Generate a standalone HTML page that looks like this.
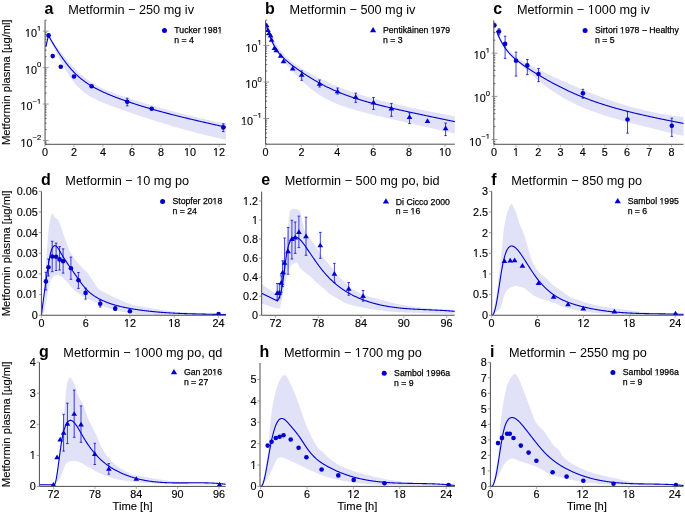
<!DOCTYPE html>
<html><head><meta charset="utf-8"><style>
html,body{margin:0;padding:0;background:#fff;width:685px;height:514px;overflow:hidden}
svg{display:block}
text{font-family:"Liberation Sans",sans-serif}
svg{will-change:transform}
</style></head><body>
<svg width="685" height="514" viewBox="0 0 685 514" font-family="Liberation Sans, sans-serif" fill="#000">
<rect width="685" height="514" fill="#fff"/>
<clipPath id="clipa"><rect x="45.05" y="14.20" width="180.95" height="130.10"/></clipPath>
<path d="M47.50,33.65 L48.00,34.38 L48.50,35.11 L49.00,35.84 L49.50,36.56 L50.00,37.29 L50.50,38.01 L51.00,38.73 L51.50,39.44 L52.00,40.16 L52.50,40.87 L53.00,41.57 L53.50,42.28 L54.00,42.98 L54.50,43.68 L55.00,44.38 L55.50,45.07 L56.00,45.76 L56.50,46.45 L57.00,47.14 L57.50,47.82 L58.00,48.50 L58.50,49.17 L59.00,49.84 L59.50,50.51 L60.00,51.17 L60.50,51.83 L61.00,52.49 L61.50,53.14 L62.00,53.78 L62.50,54.43 L63.00,55.07 L63.50,55.70 L64.00,56.33 L64.50,56.95 L65.00,57.57 L65.50,58.19 L66.00,58.80 L66.50,59.41 L67.00,60.01 L67.50,60.60 L68.00,61.19 L68.50,61.78 L69.00,62.36 L69.50,62.93 L70.00,63.50 L70.50,64.06 L71.00,64.62 L71.50,65.17 L72.00,65.72 L72.50,66.25 L73.00,66.79 L73.50,67.32 L74.00,67.84 L74.50,68.36 L75.00,68.87 L75.50,69.37 L76.00,69.87 L76.50,70.36 L77.00,70.84 L77.50,71.32 L78.00,71.80 L78.50,72.26 L79.00,72.73 L79.50,73.18 L80.00,73.63 L80.50,74.07 L81.00,74.51 L81.50,74.94 L82.00,75.36 L82.50,75.78 L83.00,76.19 L83.50,76.60 L84.00,77.00 L84.50,77.40 L85.00,77.79 L85.50,78.17 L86.00,78.55 L86.50,78.92 L87.00,79.29 L87.50,79.65 L88.00,80.00 L88.50,80.35 L89.00,80.70 L89.50,81.04 L90.00,81.37 L90.50,81.70 L91.00,82.03 L91.50,82.35 L92.00,82.67 L92.50,82.98 L93.00,83.28 L93.50,83.58 L94.00,83.88 L94.50,84.18 L95.00,84.47 L95.50,84.75 L96.00,85.03 L96.50,85.31 L97.00,85.58 L97.50,85.85 L98.00,86.12 L98.50,86.38 L99.00,86.64 L99.50,86.90 L100.00,87.15 L100.50,87.40 L101.00,87.64 L101.50,87.89 L102.00,88.13 L102.50,88.37 L103.00,88.60 L103.50,88.83 L104.00,89.06 L104.50,89.29 L105.00,89.51 L105.50,89.73 L106.00,89.95 L106.50,90.17 L107.00,90.39 L107.50,90.60 L108.00,90.81 L108.50,91.02 L109.00,91.23 L109.50,91.43 L110.00,91.63 L110.50,91.84 L111.00,92.03 L111.50,92.23 L112.00,92.43 L112.50,92.62 L113.00,92.82 L113.50,93.01 L114.00,93.20 L114.50,93.39 L115.00,93.58 L115.50,93.76 L116.00,93.95 L116.50,94.13 L117.00,94.31 L117.50,94.50 L118.00,94.68 L118.50,94.86 L119.00,95.03 L119.50,95.21 L120.00,95.39 L120.50,95.56 L121.00,95.74 L121.50,95.91 L122.00,96.08 L122.50,96.26 L123.00,96.43 L123.50,96.60 L124.00,96.77 L124.50,96.94 L125.00,97.10 L125.50,97.27 L126.00,97.44 L126.50,97.60 L127.00,97.77 L127.50,97.93 L128.00,98.10 L128.50,98.26 L129.00,98.42 L129.50,98.59 L130.00,98.75 L130.50,98.91 L131.00,99.07 L131.50,99.23 L132.00,99.39 L132.50,99.55 L133.00,99.71 L133.50,99.87 L134.00,100.02 L134.50,100.18 L135.00,100.34 L135.50,100.49 L136.00,100.65 L136.50,100.81 L137.00,100.96 L137.50,101.12 L138.00,101.27 L138.50,101.43 L139.00,101.58 L139.50,101.73 L140.00,101.89 L140.50,102.04 L141.00,102.19 L141.50,102.34 L142.00,102.49 L142.50,102.65 L143.00,102.80 L143.50,102.95 L144.00,103.10 L144.50,103.25 L145.00,103.40 L145.50,103.55 L146.00,103.70 L146.50,103.85 L147.00,103.99 L147.50,104.14 L148.00,104.29 L148.50,104.44 L149.00,104.58 L149.50,104.73 L150.00,104.88 L150.50,105.02 L151.00,105.17 L151.50,105.32 L152.00,105.46 L152.50,105.61 L153.00,105.75 L153.50,105.90 L154.00,106.04 L154.50,106.19 L155.00,106.33 L155.50,106.47 L156.00,106.62 L156.50,106.76 L157.00,106.90 L157.50,107.05 L158.00,107.19 L158.50,107.33 L159.00,107.47 L159.50,107.61 L160.00,107.75 L160.50,107.90 L161.00,108.04 L161.50,108.18 L162.00,108.32 L162.50,108.46 L163.00,108.60 L163.50,108.74 L164.00,108.87 L164.50,109.01 L165.00,109.15 L165.50,109.29 L166.00,109.43 L166.50,109.57 L167.00,109.70 L167.50,109.84 L168.00,109.98 L168.50,110.11 L169.00,110.25 L169.50,110.38 L170.00,110.52 L170.50,110.66 L171.00,110.79 L171.50,110.93 L172.00,111.06 L172.50,111.19 L173.00,111.33 L173.50,111.46 L174.00,111.59 L174.50,111.73 L175.00,111.86 L175.50,111.99 L176.00,112.12 L176.50,112.26 L177.00,112.39 L177.50,112.52 L178.00,112.65 L178.50,112.78 L179.00,112.91 L179.50,113.04 L180.00,113.17 L180.50,113.30 L181.00,113.43 L181.50,113.56 L182.00,113.69 L182.50,113.81 L183.00,113.94 L183.50,114.07 L184.00,114.20 L184.50,114.32 L185.00,114.45 L185.50,114.57 L186.00,114.70 L186.50,114.83 L187.00,114.95 L187.50,115.08 L188.00,115.20 L188.50,115.32 L189.00,115.45 L189.50,115.57 L190.00,115.69 L190.50,115.82 L191.00,115.94 L191.50,116.06 L192.00,116.18 L192.50,116.30 L193.00,116.42 L193.50,116.54 L194.00,116.67 L194.50,116.78 L195.00,116.90 L195.50,117.02 L196.00,117.14 L196.50,117.26 L197.00,117.38 L197.50,117.50 L198.00,117.61 L198.50,117.73 L199.00,117.85 L199.50,117.96 L200.00,118.08 L200.50,118.19 L201.00,118.31 L201.50,118.42 L202.00,118.54 L202.50,118.65 L203.00,118.77 L203.50,118.88 L204.00,118.99 L204.50,119.10 L205.00,119.22 L205.50,119.33 L206.00,119.44 L206.50,119.55 L207.00,119.66 L207.50,119.77 L208.00,119.88 L208.50,119.99 L209.00,120.10 L209.50,120.21 L210.00,120.31 L210.50,120.42 L211.00,120.53 L211.50,120.64 L212.00,120.74 L212.50,120.85 L213.00,120.95 L213.50,121.06 L214.00,121.16 L214.50,121.27 L215.00,121.37 L215.50,121.47 L216.00,121.58 L216.50,121.68 L217.00,121.78 L217.50,121.88 L218.00,121.99 L218.50,122.09 L219.00,122.19 L219.50,122.29 L220.00,122.39 L220.50,122.49 L221.00,122.59 L221.50,122.68 L222.00,122.78 L222.50,122.88 L223.00,122.98 L223.50,123.07 L224.00,123.17 L224.50,123.27 L225.00,123.36 L225.50,123.46 L226.00,123.55 L226.50,123.64 L227.00,123.74 L227.00,139.90 L226.50,139.80 L226.00,139.70 L225.50,139.60 L225.00,139.50 L224.50,139.40 L224.00,139.29 L223.50,139.19 L223.00,139.09 L222.50,138.98 L222.00,138.88 L221.50,138.77 L221.00,138.67 L220.50,138.56 L220.00,138.46 L219.50,138.35 L219.00,138.24 L218.50,138.13 L218.00,138.03 L217.50,137.92 L217.00,137.81 L216.50,137.70 L216.00,137.59 L215.50,137.47 L215.00,137.36 L214.50,137.25 L214.00,137.14 L213.50,137.02 L213.00,136.91 L212.50,136.80 L212.00,136.68 L211.50,136.57 L211.00,136.45 L210.50,136.33 L210.00,136.22 L209.50,136.10 L209.00,135.98 L208.50,135.86 L208.00,135.74 L207.50,135.62 L207.00,135.50 L206.50,135.38 L206.00,135.26 L205.50,135.14 L205.00,135.02 L204.50,134.90 L204.00,134.78 L203.50,134.65 L203.00,134.53 L202.50,134.40 L202.00,134.28 L201.50,134.16 L201.00,134.03 L200.50,133.90 L200.00,133.78 L199.50,133.65 L199.00,133.52 L198.50,133.39 L198.00,133.27 L197.50,133.14 L197.00,133.01 L196.50,132.88 L196.00,132.75 L195.50,132.62 L195.00,132.49 L194.50,132.36 L194.00,132.22 L193.50,132.09 L193.00,131.96 L192.50,131.83 L192.00,131.69 L191.50,131.56 L191.00,131.42 L190.50,131.29 L190.00,131.15 L189.50,131.02 L189.00,130.88 L188.50,130.74 L188.00,130.61 L187.50,130.47 L187.00,130.33 L186.50,130.19 L186.00,130.06 L185.50,129.92 L185.00,129.78 L184.50,129.64 L184.00,129.50 L183.50,129.36 L183.00,129.22 L182.50,129.07 L182.00,128.93 L181.50,128.79 L181.00,128.65 L180.50,128.51 L180.00,128.36 L179.50,128.22 L179.00,128.07 L178.50,127.93 L178.00,127.79 L177.50,127.64 L177.00,127.49 L176.50,127.35 L176.00,127.20 L175.50,127.06 L175.00,126.91 L174.50,126.76 L174.00,126.61 L173.50,126.47 L173.00,126.32 L172.50,126.17 L172.00,126.02 L171.50,125.87 L171.00,125.72 L170.50,125.57 L170.00,125.42 L169.50,125.27 L169.00,125.12 L168.50,124.97 L168.00,124.82 L167.50,124.67 L167.00,124.51 L166.50,124.36 L166.00,124.21 L165.50,124.06 L165.00,123.90 L164.50,123.75 L164.00,123.59 L163.50,123.44 L163.00,123.29 L162.50,123.13 L162.00,122.98 L161.50,122.82 L161.00,122.66 L160.50,122.51 L160.00,122.35 L159.50,122.20 L159.00,122.04 L158.50,121.88 L158.00,121.72 L157.50,121.57 L157.00,121.41 L156.50,121.25 L156.00,121.09 L155.50,120.93 L155.00,120.77 L154.50,120.61 L154.00,120.46 L153.50,120.30 L153.00,120.14 L152.50,119.98 L152.00,119.81 L151.50,119.65 L151.00,119.49 L150.50,119.33 L150.00,119.17 L149.50,119.01 L149.00,118.85 L148.50,118.68 L148.00,118.52 L147.50,118.36 L147.00,118.20 L146.50,118.03 L146.00,117.87 L145.50,117.71 L145.00,117.54 L144.50,117.38 L144.00,117.21 L143.50,117.05 L143.00,116.88 L142.50,116.72 L142.00,116.55 L141.50,116.39 L141.00,116.22 L140.50,116.06 L140.00,115.89 L139.50,115.72 L139.00,115.56 L138.50,115.39 L138.00,115.22 L137.50,115.06 L137.00,114.89 L136.50,114.72 L136.00,114.55 L135.50,114.39 L135.00,114.22 L134.50,114.05 L134.00,113.88 L133.50,113.71 L133.00,113.54 L132.50,113.37 L132.00,113.20 L131.50,113.03 L131.00,112.86 L130.50,112.69 L130.00,112.52 L129.50,112.35 L129.00,112.18 L128.50,112.01 L128.00,111.84 L127.50,111.66 L127.00,111.49 L126.50,111.32 L126.00,111.15 L125.50,110.97 L125.00,110.80 L124.50,110.63 L124.00,110.45 L123.50,110.28 L123.00,110.10 L122.50,109.93 L122.00,109.75 L121.50,109.58 L121.00,109.40 L120.50,109.23 L120.00,109.05 L119.50,108.87 L119.00,108.70 L118.50,108.52 L118.00,108.34 L117.50,108.16 L117.00,107.98 L116.50,107.80 L116.00,107.62 L115.50,107.44 L115.00,107.26 L114.50,107.08 L114.00,106.90 L113.50,106.71 L113.00,106.53 L112.50,106.34 L112.00,106.16 L111.50,105.97 L111.00,105.79 L110.50,105.60 L110.00,105.41 L109.50,105.22 L109.00,105.03 L108.50,104.84 L108.00,104.65 L107.50,104.45 L107.00,104.26 L106.50,104.06 L106.00,103.87 L105.50,103.67 L105.00,103.47 L104.50,103.27 L104.00,103.07 L103.50,102.86 L103.00,102.66 L102.50,102.45 L102.00,102.24 L101.50,102.03 L101.00,101.81 L100.50,101.60 L100.00,101.38 L99.50,101.16 L99.00,100.94 L98.50,100.71 L98.00,100.48 L97.50,100.25 L97.00,100.02 L96.50,99.78 L96.00,99.54 L95.50,99.29 L95.00,99.04 L94.50,98.79 L94.00,98.54 L93.50,98.27 L93.00,98.01 L92.50,97.74 L92.00,97.46 L91.50,97.18 L91.00,96.90 L90.50,96.61 L90.00,96.31 L89.50,96.01 L89.00,95.70 L88.50,95.38 L88.00,95.06 L87.50,94.73 L87.00,94.40 L86.50,94.05 L86.00,93.70 L85.50,93.34 L85.00,92.97 L84.50,92.59 L84.00,92.20 L83.50,91.81 L83.00,91.40 L82.50,90.99 L82.00,90.56 L81.50,90.12 L81.00,89.68 L80.50,89.22 L80.00,88.75 L79.50,88.27 L79.00,87.78 L78.50,87.27 L78.00,86.76 L77.50,86.23 L77.00,85.69 L76.50,85.14 L76.00,84.57 L75.50,83.99 L75.00,83.40 L74.50,82.80 L74.00,82.18 L73.50,81.55 L73.00,80.91 L72.50,80.26 L72.00,79.59 L71.50,78.91 L71.00,78.22 L70.50,77.51 L70.00,76.79 L69.50,76.06 L69.00,75.32 L68.50,74.56 L68.00,73.80 L67.50,73.02 L67.00,72.23 L66.50,71.43 L66.00,70.62 L65.50,69.80 L65.00,68.96 L64.50,68.12 L64.00,67.27 L63.50,66.40 L63.00,65.53 L62.50,64.65 L62.00,63.76 L61.50,62.86 L61.00,61.96 L60.50,61.04 L60.00,60.12 L59.50,59.19 L59.00,58.25 L58.50,57.31 L58.00,56.36 L57.50,55.41 L57.00,54.44 L56.50,53.47 L56.00,52.50 L55.50,51.52 L55.00,50.54 L54.50,49.55 L54.00,48.55 L53.50,47.56 L53.00,46.55 L52.50,45.55 L52.00,44.54 L51.50,43.52 L51.00,42.51 L50.50,41.48 L50.00,40.46 L49.50,39.43 L49.00,38.40 L48.50,37.37 L48.00,36.33 L47.50,35.30 Z" fill="#e1e1f8" clip-path="url(#clipa)"/>
<path d="M45.90,46.70 L48.50,35.30 M48.50,35.64 L49.00,36.51 L49.50,37.39 L50.00,38.25 L50.50,39.12 L51.00,39.98 L51.50,40.83 L52.00,41.68 L52.50,42.52 L53.00,43.36 L53.50,44.20 L54.00,45.03 L54.50,45.85 L55.00,46.67 L55.50,47.48 L56.00,48.28 L56.50,49.08 L57.00,49.88 L57.50,50.66 L58.00,51.44 L58.50,52.22 L59.00,52.98 L59.50,53.74 L60.00,54.50 L60.50,55.24 L61.00,55.98 L61.50,56.71 L62.00,57.43 L62.50,58.15 L63.00,58.85 L63.50,59.55 L64.00,60.24 L64.50,60.93 L65.00,61.60 L65.50,62.27 L66.00,62.92 L66.50,63.57 L67.00,64.21 L67.50,64.85 L68.00,65.47 L68.50,66.08 L69.00,66.69 L69.50,67.29 L70.00,67.87 L70.50,68.45 L71.00,69.03 L71.50,69.59 L72.00,70.14 L72.50,70.69 L73.00,71.22 L73.50,71.75 L74.00,72.27 L74.50,72.78 L75.00,73.29 L75.50,73.78 L76.00,74.27 L76.50,74.75 L77.00,75.22 L77.50,75.68 L78.00,76.13 L78.50,76.58 L79.00,77.02 L79.50,77.45 L80.00,77.88 L80.50,78.30 L81.00,78.71 L81.50,79.11 L82.00,79.51 L82.50,79.90 L83.00,80.29 L83.50,80.67 L84.00,81.04 L84.50,81.41 L85.00,81.77 L85.50,82.12 L86.00,82.47 L86.50,82.82 L87.00,83.16 L87.50,83.49 L88.00,83.82 L88.50,84.15 L89.00,84.46 L89.50,84.78 L90.00,85.09 L90.50,85.40 L91.00,85.70 L91.50,86.00 L92.00,86.29 L92.50,86.58 L93.00,86.87 L93.50,87.15 L94.00,87.43 L94.50,87.70 L95.00,87.98 L95.50,88.25 L96.00,88.51 L96.50,88.77 L97.00,89.03 L97.50,89.29 L98.00,89.55 L98.50,89.80 L99.00,90.05 L99.50,90.29 L100.00,90.54 L100.50,90.78 L101.00,91.02 L101.50,91.26 L102.00,91.49 L102.50,91.72 L103.00,91.95 L103.50,92.18 L104.00,92.41 L104.50,92.63 L105.00,92.86 L105.50,93.08 L106.00,93.30 L106.50,93.52 L107.00,93.73 L107.50,93.95 L108.00,94.16 L108.50,94.37 L109.00,94.58 L109.50,94.79 L110.00,95.00 L110.50,95.20 L111.00,95.40 L111.50,95.61 L112.00,95.81 L112.50,96.01 L113.00,96.21 L113.50,96.41 L114.00,96.60 L114.50,96.80 L115.00,96.99 L115.50,97.19 L116.00,97.38 L116.50,97.57 L117.00,97.76 L117.50,97.95 L118.00,98.13 L118.50,98.32 L119.00,98.51 L119.50,98.69 L120.00,98.88 L120.50,99.06 L121.00,99.24 L121.50,99.42 L122.00,99.60 L122.50,99.78 L123.00,99.96 L123.50,100.14 L124.00,100.31 L124.50,100.49 L125.00,100.67 L125.50,100.84 L126.00,101.01 L126.50,101.19 L127.00,101.36 L127.50,101.53 L128.00,101.70 L128.50,101.87 L129.00,102.04 L129.50,102.21 L130.00,102.37 L130.50,102.54 L131.00,102.71 L131.50,102.87 L132.00,103.04 L132.50,103.20 L133.00,103.37 L133.50,103.53 L134.00,103.69 L134.50,103.85 L135.00,104.01 L135.50,104.17 L136.00,104.33 L136.50,104.49 L137.00,104.65 L137.50,104.81 L138.00,104.97 L138.50,105.12 L139.00,105.28 L139.50,105.43 L140.00,105.59 L140.50,105.74 L141.00,105.90 L141.50,106.05 L142.00,106.20 L142.50,106.36 L143.00,106.51 L143.50,106.66 L144.00,106.81 L144.50,106.96 L145.00,107.11 L145.50,107.26 L146.00,107.41 L146.50,107.55 L147.00,107.70 L147.50,107.85 L148.00,107.99 L148.50,108.14 L149.00,108.29 L149.50,108.43 L150.00,108.58 L150.50,108.72 L151.00,108.86 L151.50,109.01 L152.00,109.15 L152.50,109.29 L153.00,109.43 L153.50,109.58 L154.00,109.72 L154.50,109.86 L155.00,110.00 L155.50,110.14 L156.00,110.28 L156.50,110.42 L157.00,110.55 L157.50,110.69 L158.00,110.83 L158.50,110.97 L159.00,111.10 L159.50,111.24 L160.00,111.38 L160.50,111.51 L161.00,111.65 L161.50,111.78 L162.00,111.92 L162.50,112.05 L163.00,112.19 L163.50,112.32 L164.00,112.45 L164.50,112.59 L165.00,112.72 L165.50,112.85 L166.00,112.98 L166.50,113.12 L167.00,113.25 L167.50,113.38 L168.00,113.51 L168.50,113.64 L169.00,113.77 L169.50,113.90 L170.00,114.03 L170.50,114.16 L171.00,114.28 L171.50,114.41 L172.00,114.54 L172.50,114.67 L173.00,114.80 L173.50,114.92 L174.00,115.05 L174.50,115.18 L175.00,115.30 L175.50,115.43 L176.00,115.56 L176.50,115.68 L177.00,115.81 L177.50,115.93 L178.00,116.06 L178.50,116.18 L179.00,116.31 L179.50,116.43 L180.00,116.55 L180.50,116.68 L181.00,116.80 L181.50,116.92 L182.00,117.05 L182.50,117.17 L183.00,117.29 L183.50,117.41 L184.00,117.53 L184.50,117.66 L185.00,117.78 L185.50,117.90 L186.00,118.02 L186.50,118.14 L187.00,118.26 L187.50,118.38 L188.00,118.50 L188.50,118.62 L189.00,118.74 L189.50,118.86 L190.00,118.98 L190.50,119.10 L191.00,119.22 L191.50,119.34 L192.00,119.46 L192.50,119.57 L193.00,119.69 L193.50,119.81 L194.00,119.93 L194.50,120.05 L195.00,120.16 L195.50,120.28 L196.00,120.40 L196.50,120.52 L197.00,120.63 L197.50,120.75 L198.00,120.87 L198.50,120.98 L199.00,121.10 L199.50,121.21 L200.00,121.33 L200.50,121.45 L201.00,121.56 L201.50,121.68 L202.00,121.79 L202.50,121.91 L203.00,122.02 L203.50,122.14 L204.00,122.25 L204.50,122.37 L205.00,122.48 L205.50,122.59 L206.00,122.71 L206.50,122.82 L207.00,122.94 L207.50,123.05 L208.00,123.16 L208.50,123.28 L209.00,123.39 L209.50,123.50 L210.00,123.62 L210.50,123.73 L211.00,123.84 L211.50,123.96 L212.00,124.07 L212.50,124.18 L213.00,124.29 L213.50,124.41 L214.00,124.52 L214.50,124.63 L215.00,124.74 L215.50,124.85 L216.00,124.97 L216.50,125.08 L217.00,125.19 L217.50,125.30 L218.00,125.41 L218.50,125.52 L219.00,125.64 L219.50,125.75 L220.00,125.86 L220.50,125.97 L221.00,126.08 L221.50,126.19 L222.00,126.30 L222.50,126.41 L223.00,126.52 L223.50,126.63 L224.00,126.74 L224.50,126.85 L225.00,126.96 L225.50,127.07 L226.00,127.18 L226.50,127.29 L227.00,127.40" fill="none" stroke="#0000cd" stroke-width="1.1" stroke-linejoin="round" stroke-linecap="round" clip-path="url(#clipa)"/>
<g clip-path="url(#clipa)">
<path d="M127.20,98.20 V105.80 M125.90,98.20 H128.50 M125.90,105.80 H128.50" stroke="#0000cd" stroke-width="0.75" fill="none"/>
<path d="M223.30,123.80 V131.60 M222.00,123.80 H224.60 M222.00,131.60 H224.60" stroke="#0000cd" stroke-width="0.75" fill="none"/>
<circle cx="48.60" cy="35.40" r="2.30" fill="#0000cd"/>
<circle cx="52.70" cy="56.10" r="2.30" fill="#0000cd"/>
<circle cx="60.80" cy="66.80" r="2.30" fill="#0000cd"/>
<circle cx="74.00" cy="76.50" r="2.30" fill="#0000cd"/>
<circle cx="91.60" cy="86.30" r="2.30" fill="#0000cd"/>
<circle cx="127.20" cy="101.70" r="2.30" fill="#0000cd"/>
<circle cx="151.70" cy="108.80" r="2.30" fill="#0000cd"/>
<circle cx="223.30" cy="127.40" r="2.30" fill="#0000cd"/>
</g>
<path d="M45.05,20.20 V144.30 H226.00" stroke="#4d4d4d" stroke-width="1" fill="none"/>
<path d="M44.90,144.30 V147.10" stroke="#7f7f7f" stroke-width="0.6"/>
<text x="44.90" y="155.60" text-anchor="middle" font-size="10.8" stroke="#000" stroke-width="0.15">0</text>
<path d="M73.92,144.30 V147.10" stroke="#7f7f7f" stroke-width="0.6"/>
<text x="73.92" y="155.60" text-anchor="middle" font-size="10.8" stroke="#000" stroke-width="0.15">2</text>
<path d="M102.94,144.30 V147.10" stroke="#7f7f7f" stroke-width="0.6"/>
<text x="102.94" y="155.60" text-anchor="middle" font-size="10.8" stroke="#000" stroke-width="0.15">4</text>
<path d="M131.96,144.30 V147.10" stroke="#7f7f7f" stroke-width="0.6"/>
<text x="131.96" y="155.60" text-anchor="middle" font-size="10.8" stroke="#000" stroke-width="0.15">6</text>
<path d="M160.98,144.30 V147.10" stroke="#7f7f7f" stroke-width="0.6"/>
<text x="160.98" y="155.60" text-anchor="middle" font-size="10.8" stroke="#000" stroke-width="0.15">8</text>
<path d="M190.00,144.30 V147.10" stroke="#7f7f7f" stroke-width="0.6"/>
<text x="190.00" y="155.60" text-anchor="middle" font-size="10.8" stroke="#000" stroke-width="0.15">10</text>
<path d="M219.02,144.30 V147.10" stroke="#7f7f7f" stroke-width="0.6"/>
<text x="219.02" y="155.60" text-anchor="middle" font-size="10.8" stroke="#000" stroke-width="0.15">12</text>
<path d="M42.85,140.52 H48.65" stroke="#7f7f7f" stroke-width="0.8"/>
<text x="41.15" y="146.52" text-anchor="end" font-size="10.8" stroke="#000" stroke-width="0.15">10<tspan dy="-6.3" font-size="7.6">−2</tspan></text>
<path d="M42.85,104.05 H48.65" stroke="#7f7f7f" stroke-width="0.8"/>
<text x="41.15" y="110.05" text-anchor="end" font-size="10.8" stroke="#000" stroke-width="0.15">10<tspan dy="-6.3" font-size="7.6">−1</tspan></text>
<path d="M42.85,67.58 H48.65" stroke="#7f7f7f" stroke-width="0.8"/>
<text x="41.15" y="73.58" text-anchor="end" font-size="10.8" stroke="#000" stroke-width="0.15">10<tspan dy="-6.3" font-size="7.6">0</tspan></text>
<path d="M42.85,31.11 H48.65" stroke="#7f7f7f" stroke-width="0.8"/>
<text x="41.15" y="37.11" text-anchor="end" font-size="10.8" stroke="#000" stroke-width="0.15">10<tspan dy="-6.3" font-size="7.6">1</tspan></text>
<path d="M45.05,144.05 H46.65" stroke="#333" stroke-width="0.7"/>
<path d="M45.05,142.19 H46.65" stroke="#333" stroke-width="0.7"/>
<path d="M45.05,129.54 H46.65" stroke="#333" stroke-width="0.7"/>
<path d="M45.05,123.12 H46.65" stroke="#333" stroke-width="0.7"/>
<path d="M45.05,118.56 H46.65" stroke="#333" stroke-width="0.7"/>
<path d="M45.05,115.03 H46.65" stroke="#333" stroke-width="0.7"/>
<path d="M45.05,112.14 H46.65" stroke="#333" stroke-width="0.7"/>
<path d="M45.05,109.70 H46.65" stroke="#333" stroke-width="0.7"/>
<path d="M45.05,107.58 H46.65" stroke="#333" stroke-width="0.7"/>
<path d="M45.05,105.72 H46.65" stroke="#333" stroke-width="0.7"/>
<path d="M45.05,93.07 H46.65" stroke="#333" stroke-width="0.7"/>
<path d="M45.05,86.65 H46.65" stroke="#333" stroke-width="0.7"/>
<path d="M45.05,82.09 H46.65" stroke="#333" stroke-width="0.7"/>
<path d="M45.05,78.56 H46.65" stroke="#333" stroke-width="0.7"/>
<path d="M45.05,75.67 H46.65" stroke="#333" stroke-width="0.7"/>
<path d="M45.05,73.23 H46.65" stroke="#333" stroke-width="0.7"/>
<path d="M45.05,71.11 H46.65" stroke="#333" stroke-width="0.7"/>
<path d="M45.05,69.25 H46.65" stroke="#333" stroke-width="0.7"/>
<path d="M45.05,56.60 H46.65" stroke="#333" stroke-width="0.7"/>
<path d="M45.05,50.18 H46.65" stroke="#333" stroke-width="0.7"/>
<path d="M45.05,45.62 H46.65" stroke="#333" stroke-width="0.7"/>
<path d="M45.05,42.09 H46.65" stroke="#333" stroke-width="0.7"/>
<path d="M45.05,39.20 H46.65" stroke="#333" stroke-width="0.7"/>
<path d="M45.05,36.76 H46.65" stroke="#333" stroke-width="0.7"/>
<path d="M45.05,34.64 H46.65" stroke="#333" stroke-width="0.7"/>
<path d="M45.05,32.78 H46.65" stroke="#333" stroke-width="0.7"/>
<path d="M45.05,20.13 H46.65" stroke="#333" stroke-width="0.7"/>
<text x="44.55" y="14.00" font-size="16" font-weight="bold">a</text>
<text x="68.15" y="14.00" font-size="12.7">Metformin − 250 mg iv</text>
<circle cx="164.47" cy="30.50" r="2.50" fill="#0000cd"/>
<text x="174.37" y="33.10" font-size="8.7" stroke="#000" stroke-width="0.25">Tucker 1981</text>
<text x="174.37" y="42.80" font-size="8.7" stroke="#000" stroke-width="0.25">n = 4</text>
<clipPath id="clipb"><rect x="265.60" y="14.30" width="189.20" height="129.90"/></clipPath>
<path d="M266.00,22.62 L266.50,23.85 L267.00,25.07 L267.50,26.26 L268.00,27.44 L268.50,28.60 L269.00,29.75 L269.50,30.87 L270.00,31.98 L270.50,33.06 L271.00,34.13 L271.50,35.17 L272.00,36.20 L272.50,37.20 L273.00,38.18 L273.50,39.14 L274.00,40.08 L274.50,41.00 L275.00,41.89 L275.50,42.76 L276.00,43.62 L276.50,44.44 L277.00,45.25 L277.50,46.04 L278.00,46.81 L278.50,47.55 L279.00,48.28 L279.50,48.98 L280.00,49.67 L280.50,50.34 L281.00,50.99 L281.50,51.62 L282.00,52.24 L282.50,52.84 L283.00,53.42 L283.50,53.99 L284.00,54.54 L284.50,55.08 L285.00,55.61 L285.50,56.12 L286.00,56.62 L286.50,57.11 L287.00,57.59 L287.50,58.06 L288.00,58.52 L288.50,58.96 L289.00,59.40 L289.50,59.83 L290.00,60.25 L290.50,60.67 L291.00,61.07 L291.50,61.47 L292.00,61.86 L292.50,62.25 L293.00,62.63 L293.50,63.00 L294.00,63.37 L294.50,63.73 L295.00,64.09 L295.50,64.45 L296.00,64.80 L296.50,65.14 L297.00,65.48 L297.50,65.82 L298.00,66.16 L298.50,66.49 L299.00,66.82 L299.50,67.14 L300.00,67.46 L300.50,67.78 L301.00,68.10 L301.50,68.41 L302.00,68.72 L302.50,69.03 L303.00,69.33 L303.50,69.64 L304.00,69.94 L304.50,70.24 L305.00,70.53 L305.50,70.83 L306.00,71.12 L306.50,71.41 L307.00,71.70 L307.50,71.99 L308.00,72.28 L308.50,72.56 L309.00,72.84 L309.50,73.12 L310.00,73.40 L310.50,73.68 L311.00,73.95 L311.50,74.23 L312.00,74.50 L312.50,74.77 L313.00,75.04 L313.50,75.31 L314.00,75.58 L314.50,75.84 L315.00,76.11 L315.50,76.37 L316.00,76.63 L316.50,76.89 L317.00,77.15 L317.50,77.40 L318.00,77.66 L318.50,77.91 L319.00,78.17 L319.50,78.42 L320.00,78.67 L320.50,78.92 L321.00,79.16 L321.50,79.41 L322.00,79.65 L322.50,79.90 L323.00,80.14 L323.50,80.38 L324.00,80.62 L324.50,80.86 L325.00,81.09 L325.50,81.33 L326.00,81.56 L326.50,81.79 L327.00,82.02 L327.50,82.25 L328.00,82.48 L328.50,82.71 L329.00,82.94 L329.50,83.16 L330.00,83.38 L330.50,83.61 L331.00,83.83 L331.50,84.05 L332.00,84.27 L332.50,84.48 L333.00,84.70 L333.50,84.91 L334.00,85.13 L334.50,85.34 L335.00,85.55 L335.50,85.76 L336.00,85.97 L336.50,86.17 L337.00,86.38 L337.50,86.59 L338.00,86.79 L338.50,86.99 L339.00,87.19 L339.50,87.39 L340.00,87.59 L340.50,87.79 L341.00,87.98 L341.50,88.18 L342.00,88.37 L342.50,88.57 L343.00,88.76 L343.50,88.95 L344.00,89.14 L344.50,89.33 L345.00,89.51 L345.50,89.70 L346.00,89.88 L346.50,90.07 L347.00,90.25 L347.50,90.43 L348.00,90.61 L348.50,90.79 L349.00,90.97 L349.50,91.15 L350.00,91.33 L350.50,91.50 L351.00,91.68 L351.50,91.85 L352.00,92.02 L352.50,92.19 L353.00,92.36 L353.50,92.53 L354.00,92.70 L354.50,92.87 L355.00,93.03 L355.50,93.20 L356.00,93.36 L356.50,93.53 L357.00,93.69 L357.50,93.85 L358.00,94.01 L358.50,94.17 L359.00,94.33 L359.50,94.49 L360.00,94.65 L360.50,94.80 L361.00,94.96 L361.50,95.11 L362.00,95.27 L362.50,95.42 L363.00,95.57 L363.50,95.72 L364.00,95.87 L364.50,96.02 L365.00,96.17 L365.50,96.32 L366.00,96.47 L366.50,96.61 L367.00,96.76 L367.50,96.91 L368.00,97.05 L368.50,97.19 L369.00,97.34 L369.50,97.48 L370.00,97.62 L370.50,97.76 L371.00,97.90 L371.50,98.04 L372.00,98.18 L372.50,98.32 L373.00,98.45 L373.50,98.59 L374.00,98.73 L374.50,98.86 L375.00,99.00 L375.50,99.13 L376.00,99.27 L376.50,99.40 L377.00,99.53 L377.50,99.66 L378.00,99.80 L378.50,99.93 L379.00,100.06 L379.50,100.19 L380.00,100.32 L380.50,100.44 L381.00,100.57 L381.50,100.70 L382.00,100.83 L382.50,100.95 L383.00,101.08 L383.50,101.21 L384.00,101.33 L384.50,101.46 L385.00,101.58 L385.50,101.70 L386.00,101.83 L386.50,101.95 L387.00,102.07 L387.50,102.19 L388.00,102.32 L388.50,102.44 L389.00,102.56 L389.50,102.68 L390.00,102.80 L390.50,102.92 L391.00,103.04 L391.50,103.15 L392.00,103.27 L392.50,103.39 L393.00,103.51 L393.50,103.63 L394.00,103.74 L394.50,103.86 L395.00,103.98 L395.50,104.09 L396.00,104.21 L396.50,104.32 L397.00,104.44 L397.50,104.55 L398.00,104.66 L398.50,104.78 L399.00,104.89 L399.50,105.00 L400.00,105.12 L400.50,105.23 L401.00,105.34 L401.50,105.45 L402.00,105.57 L402.50,105.68 L403.00,105.79 L403.50,105.90 L404.00,106.01 L404.50,106.12 L405.00,106.23 L405.50,106.34 L406.00,106.45 L406.50,106.56 L407.00,106.67 L407.50,106.78 L408.00,106.89 L408.50,106.99 L409.00,107.10 L409.50,107.21 L410.00,107.32 L410.50,107.43 L411.00,107.53 L411.50,107.64 L412.00,107.75 L412.50,107.85 L413.00,107.96 L413.50,108.07 L414.00,108.17 L414.50,108.28 L415.00,108.38 L415.50,108.49 L416.00,108.60 L416.50,108.70 L417.00,108.81 L417.50,108.91 L418.00,109.02 L418.50,109.12 L419.00,109.22 L419.50,109.33 L420.00,109.43 L420.50,109.54 L421.00,109.64 L421.50,109.74 L422.00,109.85 L422.50,109.95 L423.00,110.05 L423.50,110.16 L424.00,110.26 L424.50,110.36 L425.00,110.47 L425.50,110.57 L426.00,110.67 L426.50,110.77 L427.00,110.88 L427.50,110.98 L428.00,111.08 L428.50,111.18 L429.00,111.28 L429.50,111.38 L430.00,111.49 L430.50,111.59 L431.00,111.69 L431.50,111.79 L432.00,111.89 L432.50,111.99 L433.00,112.09 L433.50,112.19 L434.00,112.29 L434.50,112.39 L435.00,112.49 L435.50,112.59 L436.00,112.69 L436.50,112.79 L437.00,112.89 L437.50,112.99 L438.00,113.09 L438.50,113.19 L439.00,113.29 L439.50,113.39 L440.00,113.49 L440.50,113.59 L441.00,113.69 L441.50,113.79 L442.00,113.89 L442.50,113.99 L443.00,114.09 L443.50,114.19 L444.00,114.29 L444.50,114.39 L445.00,114.49 L445.50,114.58 L446.00,114.68 L446.50,114.78 L447.00,114.88 L447.50,114.98 L448.00,115.08 L448.50,115.18 L449.00,115.27 L449.50,115.37 L450.00,115.47 L450.50,115.57 L451.00,115.67 L451.50,115.76 L452.00,115.86 L452.50,115.96 L453.00,116.06 L453.50,116.16 L454.00,116.25 L454.50,116.35 L455.00,116.45 L455.50,116.55 L455.50,133.65 L455.00,133.53 L454.50,133.42 L454.00,133.31 L453.50,133.19 L453.00,133.08 L452.50,132.97 L452.00,132.85 L451.50,132.74 L451.00,132.63 L450.50,132.52 L450.00,132.40 L449.50,132.29 L449.00,132.18 L448.50,132.06 L448.00,131.95 L447.50,131.84 L447.00,131.72 L446.50,131.61 L446.00,131.50 L445.50,131.38 L445.00,131.27 L444.50,131.16 L444.00,131.04 L443.50,130.93 L443.00,130.82 L442.50,130.70 L442.00,130.59 L441.50,130.48 L441.00,130.36 L440.50,130.25 L440.00,130.14 L439.50,130.02 L439.00,129.91 L438.50,129.80 L438.00,129.68 L437.50,129.57 L437.00,129.46 L436.50,129.34 L436.00,129.23 L435.50,129.12 L435.00,129.00 L434.50,128.89 L434.00,128.78 L433.50,128.66 L433.00,128.55 L432.50,128.44 L432.00,128.32 L431.50,128.21 L431.00,128.10 L430.50,127.98 L430.00,127.87 L429.50,127.76 L429.00,127.64 L428.50,127.53 L428.00,127.42 L427.50,127.30 L427.00,127.19 L426.50,127.08 L426.00,126.96 L425.50,126.85 L425.00,126.74 L424.50,126.62 L424.00,126.51 L423.50,126.40 L423.00,126.28 L422.50,126.17 L422.00,126.06 L421.50,125.94 L421.00,125.83 L420.50,125.71 L420.00,125.60 L419.50,125.49 L419.00,125.37 L418.50,125.26 L418.00,125.15 L417.50,125.03 L417.00,124.92 L416.50,124.81 L416.00,124.69 L415.50,124.58 L415.00,124.46 L414.50,124.35 L414.00,124.24 L413.50,124.12 L413.00,124.01 L412.50,123.90 L412.00,123.78 L411.50,123.67 L411.00,123.55 L410.50,123.44 L410.00,123.33 L409.50,123.21 L409.00,123.10 L408.50,122.98 L408.00,122.87 L407.50,122.76 L407.00,122.64 L406.50,122.53 L406.00,122.41 L405.50,122.30 L405.00,122.18 L404.50,122.07 L404.00,121.96 L403.50,121.84 L403.00,121.73 L402.50,121.61 L402.00,121.50 L401.50,121.38 L401.00,121.27 L400.50,121.15 L400.00,121.04 L399.50,120.92 L399.00,120.81 L398.50,120.69 L398.00,120.58 L397.50,120.46 L397.00,120.35 L396.50,120.23 L396.00,120.12 L395.50,120.00 L395.00,119.89 L394.50,119.77 L394.00,119.66 L393.50,119.54 L393.00,119.43 L392.50,119.31 L392.00,119.19 L391.50,119.08 L391.00,118.96 L390.50,118.85 L390.00,118.73 L389.50,118.61 L389.00,118.50 L388.50,118.38 L388.00,118.26 L387.50,118.15 L387.00,118.03 L386.50,117.91 L386.00,117.80 L385.50,117.68 L385.00,117.56 L384.50,117.44 L384.00,117.33 L383.50,117.21 L383.00,117.09 L382.50,116.97 L382.00,116.85 L381.50,116.74 L381.00,116.62 L380.50,116.50 L380.00,116.38 L379.50,116.26 L379.00,116.14 L378.50,116.02 L378.00,115.90 L377.50,115.78 L377.00,115.66 L376.50,115.54 L376.00,115.42 L375.50,115.30 L375.00,115.18 L374.50,115.05 L374.00,114.93 L373.50,114.81 L373.00,114.69 L372.50,114.56 L372.00,114.44 L371.50,114.32 L371.00,114.19 L370.50,114.07 L370.00,113.94 L369.50,113.82 L369.00,113.69 L368.50,113.57 L368.00,113.44 L367.50,113.32 L367.00,113.19 L366.50,113.06 L366.00,112.93 L365.50,112.80 L365.00,112.67 L364.50,112.55 L364.00,112.42 L363.50,112.28 L363.00,112.15 L362.50,112.02 L362.00,111.89 L361.50,111.76 L361.00,111.62 L360.50,111.49 L360.00,111.35 L359.50,111.22 L359.00,111.08 L358.50,110.94 L358.00,110.81 L357.50,110.67 L357.00,110.53 L356.50,110.39 L356.00,110.25 L355.50,110.10 L355.00,109.96 L354.50,109.82 L354.00,109.67 L353.50,109.52 L353.00,109.38 L352.50,109.23 L352.00,109.08 L351.50,108.93 L351.00,108.78 L350.50,108.62 L350.00,108.47 L349.50,108.31 L349.00,108.16 L348.50,108.00 L348.00,107.84 L347.50,107.68 L347.00,107.52 L346.50,107.35 L346.00,107.19 L345.50,107.02 L345.00,106.85 L344.50,106.68 L344.00,106.51 L343.50,106.34 L343.00,106.16 L342.50,105.98 L342.00,105.80 L341.50,105.62 L341.00,105.44 L340.50,105.25 L340.00,105.07 L339.50,104.88 L339.00,104.68 L338.50,104.49 L338.00,104.29 L337.50,104.09 L337.00,103.89 L336.50,103.69 L336.00,103.48 L335.50,103.27 L335.00,103.06 L334.50,102.85 L334.00,102.63 L333.50,102.41 L333.00,102.19 L332.50,101.96 L332.00,101.74 L331.50,101.50 L331.00,101.27 L330.50,101.03 L330.00,100.79 L329.50,100.55 L329.00,100.30 L328.50,100.05 L328.00,99.79 L327.50,99.54 L327.00,99.27 L326.50,99.01 L326.00,98.74 L325.50,98.47 L325.00,98.19 L324.50,97.91 L324.00,97.63 L323.50,97.34 L323.00,97.05 L322.50,96.75 L322.00,96.46 L321.50,96.15 L321.00,95.84 L320.50,95.53 L320.00,95.22 L319.50,94.90 L319.00,94.57 L318.50,94.24 L318.00,93.91 L317.50,93.58 L317.00,93.23 L316.50,92.89 L316.00,92.54 L315.50,92.18 L315.00,91.83 L314.50,91.46 L314.00,91.10 L313.50,90.72 L313.00,90.35 L312.50,89.97 L312.00,89.58 L311.50,89.19 L311.00,88.80 L310.50,88.40 L310.00,88.00 L309.50,87.59 L309.00,87.18 L308.50,86.76 L308.00,86.34 L307.50,85.92 L307.00,85.49 L306.50,85.06 L306.00,84.62 L305.50,84.18 L305.00,83.74 L304.50,83.29 L304.00,82.83 L303.50,82.38 L303.00,81.91 L302.50,81.45 L302.00,80.98 L301.50,80.51 L301.00,80.03 L300.50,79.55 L300.00,79.07 L299.50,78.58 L299.00,78.09 L298.50,77.59 L298.00,77.09 L297.50,76.59 L297.00,76.08 L296.50,75.57 L296.00,75.06 L295.50,74.54 L295.00,74.02 L294.50,73.50 L294.00,72.98 L293.50,72.45 L293.00,71.91 L292.50,71.38 L292.00,70.84 L291.50,70.30 L291.00,69.75 L290.50,69.20 L290.00,68.65 L289.50,68.10 L289.00,67.54 L288.50,66.98 L288.00,66.41 L287.50,65.84 L287.00,65.27 L286.50,64.70 L286.00,64.12 L285.50,63.53 L285.00,62.94 L284.50,62.35 L284.00,61.75 L283.50,61.15 L283.00,60.54 L282.50,59.92 L282.00,59.30 L281.50,58.66 L281.00,58.02 L280.50,57.37 L280.00,56.71 L279.50,56.04 L279.00,55.35 L278.50,54.65 L278.00,53.93 L277.50,53.19 L277.00,52.43 L276.50,51.65 L276.00,50.84 L275.50,50.01 L275.00,49.14 L274.50,48.23 L274.00,47.29 L273.50,46.30 L273.00,45.27 L272.50,44.19 L272.00,43.05 L271.50,41.85 L271.00,40.59 L270.50,39.27 L270.00,37.87 L269.50,36.41 L269.00,34.87 L268.50,33.25 L268.00,31.56 L267.50,29.79 L267.00,27.95 L266.50,26.03 L266.00,24.04 Z" fill="#e1e1f8" clip-path="url(#clipb)"/>
<path d="M265.90,23.79 L266.40,25.48 L266.90,27.14 L267.40,28.75 L267.90,30.32 L268.40,31.84 L268.90,33.31 L269.40,34.73 L269.90,36.11 L270.40,37.43 L270.90,38.71 L271.40,39.93 L271.90,41.10 L272.40,42.23 L272.90,43.30 L273.40,44.33 L273.90,45.32 L274.40,46.26 L274.90,47.15 L275.40,48.01 L275.90,48.83 L276.40,49.62 L276.90,50.37 L277.40,51.09 L277.90,51.78 L278.40,52.44 L278.90,53.08 L279.40,53.69 L279.90,54.28 L280.40,54.86 L280.90,55.41 L281.40,55.95 L281.90,56.47 L282.40,56.98 L282.90,57.47 L283.40,57.96 L283.90,58.43 L284.40,58.89 L284.90,59.35 L285.40,59.79 L285.90,60.23 L286.40,60.66 L286.90,61.08 L287.40,61.50 L287.90,61.92 L288.40,62.33 L288.90,62.73 L289.40,63.13 L289.90,63.52 L290.40,63.92 L290.90,64.31 L291.40,64.69 L291.90,65.07 L292.40,65.45 L292.90,65.83 L293.40,66.20 L293.90,66.57 L294.40,66.94 L294.90,67.31 L295.40,67.68 L295.90,68.04 L296.40,68.40 L296.90,68.76 L297.40,69.11 L297.90,69.47 L298.40,69.82 L298.90,70.17 L299.40,70.52 L299.90,70.87 L300.40,71.21 L300.90,71.55 L301.40,71.90 L301.90,72.24 L302.40,72.57 L302.90,72.91 L303.40,73.24 L303.90,73.58 L304.40,73.91 L304.90,74.24 L305.40,74.56 L305.90,74.89 L306.40,75.21 L306.90,75.53 L307.40,75.85 L307.90,76.17 L308.40,76.49 L308.90,76.80 L309.40,77.12 L309.90,77.43 L310.40,77.74 L310.90,78.04 L311.40,78.35 L311.90,78.65 L312.40,78.95 L312.90,79.25 L313.40,79.55 L313.90,79.85 L314.40,80.14 L314.90,80.44 L315.40,80.73 L315.90,81.01 L316.40,81.30 L316.90,81.59 L317.40,81.87 L317.90,82.15 L318.40,82.43 L318.90,82.71 L319.40,82.98 L319.90,83.26 L320.40,83.53 L320.90,83.80 L321.40,84.07 L321.90,84.33 L322.40,84.60 L322.90,84.86 L323.40,85.12 L323.90,85.38 L324.40,85.64 L324.90,85.89 L325.40,86.14 L325.90,86.40 L326.40,86.64 L326.90,86.89 L327.40,87.14 L327.90,87.38 L328.40,87.62 L328.90,87.86 L329.40,88.10 L329.90,88.34 L330.40,88.58 L330.90,88.81 L331.40,89.04 L331.90,89.27 L332.40,89.50 L332.90,89.72 L333.40,89.95 L333.90,90.17 L334.40,90.39 L334.90,90.61 L335.40,90.83 L335.90,91.05 L336.40,91.26 L336.90,91.47 L337.40,91.68 L337.90,91.89 L338.40,92.10 L338.90,92.31 L339.40,92.51 L339.90,92.71 L340.40,92.92 L340.90,93.12 L341.40,93.32 L341.90,93.51 L342.40,93.71 L342.90,93.90 L343.40,94.09 L343.90,94.29 L344.40,94.48 L344.90,94.66 L345.40,94.85 L345.90,95.04 L346.40,95.22 L346.90,95.40 L347.40,95.59 L347.90,95.77 L348.40,95.94 L348.90,96.12 L349.40,96.30 L349.90,96.47 L350.40,96.65 L350.90,96.82 L351.40,96.99 L351.90,97.16 L352.40,97.33 L352.90,97.50 L353.40,97.67 L353.90,97.83 L354.40,98.00 L354.90,98.16 L355.40,98.32 L355.90,98.48 L356.40,98.64 L356.90,98.80 L357.40,98.96 L357.90,99.12 L358.40,99.27 L358.90,99.43 L359.40,99.58 L359.90,99.74 L360.40,99.89 L360.90,100.04 L361.40,100.19 L361.90,100.34 L362.40,100.49 L362.90,100.64 L363.40,100.78 L363.90,100.93 L364.40,101.07 L364.90,101.22 L365.40,101.36 L365.90,101.51 L366.40,101.65 L366.90,101.79 L367.40,101.93 L367.90,102.07 L368.40,102.21 L368.90,102.35 L369.40,102.48 L369.90,102.62 L370.40,102.76 L370.90,102.89 L371.40,103.03 L371.90,103.16 L372.40,103.30 L372.90,103.43 L373.40,103.56 L373.90,103.70 L374.40,103.83 L374.90,103.96 L375.40,104.09 L375.90,104.22 L376.40,104.35 L376.90,104.48 L377.40,104.60 L377.90,104.73 L378.40,104.86 L378.90,104.99 L379.40,105.11 L379.90,105.24 L380.40,105.36 L380.90,105.49 L381.40,105.61 L381.90,105.74 L382.40,105.86 L382.90,105.98 L383.40,106.10 L383.90,106.23 L384.40,106.35 L384.90,106.47 L385.40,106.59 L385.90,106.71 L386.40,106.83 L386.90,106.95 L387.40,107.07 L387.90,107.19 L388.40,107.31 L388.90,107.43 L389.40,107.55 L389.90,107.66 L390.40,107.78 L390.90,107.90 L391.40,108.01 L391.90,108.13 L392.40,108.25 L392.90,108.36 L393.40,108.48 L393.90,108.59 L394.40,108.71 L394.90,108.82 L395.40,108.94 L395.90,109.05 L396.40,109.17 L396.90,109.28 L397.40,109.40 L397.90,109.51 L398.40,109.62 L398.90,109.74 L399.40,109.85 L399.90,109.96 L400.40,110.07 L400.90,110.19 L401.40,110.30 L401.90,110.41 L402.40,110.52 L402.90,110.63 L403.40,110.74 L403.90,110.85 L404.40,110.96 L404.90,111.08 L405.40,111.19 L405.90,111.30 L406.40,111.41 L406.90,111.52 L407.40,111.63 L407.90,111.74 L408.40,111.84 L408.90,111.95 L409.40,112.06 L409.90,112.17 L410.40,112.28 L410.90,112.39 L411.40,112.50 L411.90,112.61 L412.40,112.72 L412.90,112.82 L413.40,112.93 L413.90,113.04 L414.40,113.15 L414.90,113.26 L415.40,113.36 L415.90,113.47 L416.40,113.58 L416.90,113.69 L417.40,113.79 L417.90,113.90 L418.40,114.01 L418.90,114.11 L419.40,114.22 L419.90,114.33 L420.40,114.43 L420.90,114.54 L421.40,114.65 L421.90,114.75 L422.40,114.86 L422.90,114.97 L423.40,115.07 L423.90,115.18 L424.40,115.28 L424.90,115.39 L425.40,115.50 L425.90,115.60 L426.40,115.71 L426.90,115.81 L427.40,115.92 L427.90,116.02 L428.40,116.13 L428.90,116.23 L429.40,116.34 L429.90,116.44 L430.40,116.55 L430.90,116.66 L431.40,116.76 L431.90,116.87 L432.40,116.97 L432.90,117.08 L433.40,117.18 L433.90,117.28 L434.40,117.39 L434.90,117.49 L435.40,117.60 L435.90,117.70 L436.40,117.81 L436.90,117.91 L437.40,118.02 L437.90,118.12 L438.40,118.23 L438.90,118.33 L439.40,118.43 L439.90,118.54 L440.40,118.64 L440.90,118.75 L441.40,118.85 L441.90,118.95 L442.40,119.06 L442.90,119.16 L443.40,119.27 L443.90,119.37 L444.40,119.47 L444.90,119.58 L445.40,119.68 L445.90,119.79 L446.40,119.89 L446.90,119.99 L447.40,120.10 L447.90,120.20 L448.40,120.30 L448.90,120.41 L449.40,120.51 L449.90,120.62 L450.40,120.72 L450.90,120.82 L451.40,120.93 L451.90,121.03 L452.40,121.13 L452.90,121.24 L453.40,121.34 L453.90,121.44 L454.40,121.55 L454.90,121.65 L455.40,121.75 L455.50,121.77" fill="none" stroke="#0000cd" stroke-width="1.1" stroke-linejoin="round" stroke-linecap="round" clip-path="url(#clipb)"/>
<g clip-path="url(#clipb)">
<path d="M301.70,70.90 V80.30 M300.40,70.90 H303.00 M300.40,80.30 H303.00" stroke="#0000cd" stroke-width="0.75" fill="none"/>
<path d="M319.60,80.00 V87.00 M318.30,80.00 H320.90 M318.30,87.00 H320.90" stroke="#0000cd" stroke-width="0.75" fill="none"/>
<path d="M337.60,88.00 V94.00 M336.30,88.00 H338.90 M336.30,94.00 H338.90" stroke="#0000cd" stroke-width="0.75" fill="none"/>
<path d="M355.70,93.10 V102.40 M354.40,93.10 H357.00 M354.40,102.40 H357.00" stroke="#0000cd" stroke-width="0.75" fill="none"/>
<path d="M373.50,97.50 V109.40 M372.20,97.50 H374.80 M372.20,109.40 H374.80" stroke="#0000cd" stroke-width="0.75" fill="none"/>
<path d="M391.40,103.40 V116.30 M390.10,103.40 H392.70 M390.10,116.30 H392.70" stroke="#0000cd" stroke-width="0.75" fill="none"/>
<path d="M409.50,112.90 V123.60 M408.20,112.90 H410.80 M408.20,123.60 H410.80" stroke="#0000cd" stroke-width="0.75" fill="none"/>
<path d="M445.60,123.10 V135.60 M444.30,123.10 H446.90 M444.30,135.60 H446.90" stroke="#0000cd" stroke-width="0.75" fill="none"/>
<path d="M266.70,22.65 L269.55,27.35 L263.85,27.35 Z" fill="#0000cd"/>
<path d="M267.90,27.35 L270.75,32.05 L265.05,32.05 Z" fill="#0000cd"/>
<path d="M269.00,30.45 L271.85,35.15 L266.15,35.15 Z" fill="#0000cd"/>
<path d="M270.60,32.75 L273.45,37.45 L267.75,37.45 Z" fill="#0000cd"/>
<path d="M271.60,37.15 L274.45,41.85 L268.75,41.85 Z" fill="#0000cd"/>
<path d="M274.50,45.25 L277.35,49.95 L271.65,49.95 Z" fill="#0000cd"/>
<path d="M276.30,47.55 L279.15,52.25 L273.45,52.25 Z" fill="#0000cd"/>
<path d="M280.70,53.05 L283.55,57.75 L277.85,57.75 Z" fill="#0000cd"/>
<path d="M283.50,58.45 L286.35,63.15 L280.65,63.15 Z" fill="#0000cd"/>
<path d="M292.70,65.75 L295.55,70.45 L289.85,70.45 Z" fill="#0000cd"/>
<path d="M301.70,71.95 L304.55,76.65 L298.85,76.65 Z" fill="#0000cd"/>
<path d="M319.60,81.05 L322.45,85.75 L316.75,85.75 Z" fill="#0000cd"/>
<path d="M337.60,88.65 L340.45,93.35 L334.75,93.35 Z" fill="#0000cd"/>
<path d="M355.70,94.25 L358.55,98.95 L352.85,98.95 Z" fill="#0000cd"/>
<path d="M373.50,99.75 L376.35,104.45 L370.65,104.45 Z" fill="#0000cd"/>
<path d="M391.40,105.75 L394.25,110.45 L388.55,110.45 Z" fill="#0000cd"/>
<path d="M409.50,114.35 L412.35,119.05 L406.65,119.05 Z" fill="#0000cd"/>
<path d="M427.50,118.35 L430.35,123.05 L424.65,123.05 Z" fill="#0000cd"/>
<path d="M445.60,125.55 L448.45,130.25 L442.75,130.25 Z" fill="#0000cd"/>
</g>
<path d="M265.60,20.30 V144.20 H454.80" stroke="#4d4d4d" stroke-width="1" fill="none"/>
<path d="M265.50,144.20 V147.00" stroke="#7f7f7f" stroke-width="0.6"/>
<text x="265.50" y="155.50" text-anchor="middle" font-size="10.8" stroke="#000" stroke-width="0.15">0</text>
<path d="M301.40,144.20 V147.00" stroke="#7f7f7f" stroke-width="0.6"/>
<text x="301.40" y="155.50" text-anchor="middle" font-size="10.8" stroke="#000" stroke-width="0.15">2</text>
<path d="M337.30,144.20 V147.00" stroke="#7f7f7f" stroke-width="0.6"/>
<text x="337.30" y="155.50" text-anchor="middle" font-size="10.8" stroke="#000" stroke-width="0.15">4</text>
<path d="M373.20,144.20 V147.00" stroke="#7f7f7f" stroke-width="0.6"/>
<text x="373.20" y="155.50" text-anchor="middle" font-size="10.8" stroke="#000" stroke-width="0.15">6</text>
<path d="M409.10,144.20 V147.00" stroke="#7f7f7f" stroke-width="0.6"/>
<text x="409.10" y="155.50" text-anchor="middle" font-size="10.8" stroke="#000" stroke-width="0.15">8</text>
<path d="M445.00,144.20 V147.00" stroke="#7f7f7f" stroke-width="0.6"/>
<text x="445.00" y="155.50" text-anchor="middle" font-size="10.8" stroke="#000" stroke-width="0.15">10</text>
<path d="M263.40,118.50 H269.20" stroke="#7f7f7f" stroke-width="0.8"/>
<text x="261.70" y="124.50" text-anchor="end" font-size="10.8" stroke="#000" stroke-width="0.15">10<tspan dy="-6.3" font-size="7.6">−1</tspan></text>
<path d="M263.40,82.00 H269.20" stroke="#7f7f7f" stroke-width="0.8"/>
<text x="261.70" y="88.00" text-anchor="end" font-size="10.8" stroke="#000" stroke-width="0.15">10<tspan dy="-6.3" font-size="7.6">0</tspan></text>
<path d="M263.40,45.50 H269.20" stroke="#7f7f7f" stroke-width="0.8"/>
<text x="261.70" y="51.50" text-anchor="end" font-size="10.8" stroke="#000" stroke-width="0.15">10<tspan dy="-6.3" font-size="7.6">1</tspan></text>
<path d="M265.60,144.01 H267.20" stroke="#333" stroke-width="0.7"/>
<path d="M265.60,137.59 H267.20" stroke="#333" stroke-width="0.7"/>
<path d="M265.60,133.02 H267.20" stroke="#333" stroke-width="0.7"/>
<path d="M265.60,129.49 H267.20" stroke="#333" stroke-width="0.7"/>
<path d="M265.60,126.60 H267.20" stroke="#333" stroke-width="0.7"/>
<path d="M265.60,124.15 H267.20" stroke="#333" stroke-width="0.7"/>
<path d="M265.60,122.04 H267.20" stroke="#333" stroke-width="0.7"/>
<path d="M265.60,120.17 H267.20" stroke="#333" stroke-width="0.7"/>
<path d="M265.60,107.51 H267.20" stroke="#333" stroke-width="0.7"/>
<path d="M265.60,101.09 H267.20" stroke="#333" stroke-width="0.7"/>
<path d="M265.60,96.52 H267.20" stroke="#333" stroke-width="0.7"/>
<path d="M265.60,92.99 H267.20" stroke="#333" stroke-width="0.7"/>
<path d="M265.60,90.10 H267.20" stroke="#333" stroke-width="0.7"/>
<path d="M265.60,87.65 H267.20" stroke="#333" stroke-width="0.7"/>
<path d="M265.60,85.54 H267.20" stroke="#333" stroke-width="0.7"/>
<path d="M265.60,83.67 H267.20" stroke="#333" stroke-width="0.7"/>
<path d="M265.60,71.01 H267.20" stroke="#333" stroke-width="0.7"/>
<path d="M265.60,64.59 H267.20" stroke="#333" stroke-width="0.7"/>
<path d="M265.60,60.02 H267.20" stroke="#333" stroke-width="0.7"/>
<path d="M265.60,56.49 H267.20" stroke="#333" stroke-width="0.7"/>
<path d="M265.60,53.60 H267.20" stroke="#333" stroke-width="0.7"/>
<path d="M265.60,51.15 H267.20" stroke="#333" stroke-width="0.7"/>
<path d="M265.60,49.04 H267.20" stroke="#333" stroke-width="0.7"/>
<path d="M265.60,47.17 H267.20" stroke="#333" stroke-width="0.7"/>
<path d="M265.60,34.51 H267.20" stroke="#333" stroke-width="0.7"/>
<path d="M265.60,28.09 H267.20" stroke="#333" stroke-width="0.7"/>
<path d="M265.60,23.52 H267.20" stroke="#333" stroke-width="0.7"/>
<path d="M265.60,19.99 H267.20" stroke="#333" stroke-width="0.7"/>
<text x="265.10" y="14.00" font-size="16" font-weight="bold">b</text>
<text x="289.57" y="14.00" font-size="12.7">Metformin − 500 mg iv</text>
<path d="M373.07,27.02 L376.20,32.19 L369.93,32.19 Z" fill="#0000cd"/>
<text x="382.97" y="33.20" font-size="8.7" stroke="#000" stroke-width="0.25">Pentikäinen 1979</text>
<text x="382.97" y="42.90" font-size="8.7" stroke="#000" stroke-width="0.25">n = 3</text>
<clipPath id="clipc"><rect x="493.80" y="14.30" width="189.70" height="130.00"/></clipPath>
<path d="M496.50,30.33 L497.00,31.34 L497.50,32.34 L498.00,33.31 L498.50,34.27 L499.00,35.20 L499.50,36.12 L500.00,37.02 L500.50,37.90 L501.00,38.75 L501.50,39.59 L502.00,40.41 L502.50,41.21 L503.00,41.99 L503.50,42.75 L504.00,43.49 L504.50,44.21 L505.00,44.91 L505.50,45.60 L506.00,46.26 L506.50,46.91 L507.00,47.54 L507.50,48.16 L508.00,48.76 L508.50,49.34 L509.00,49.91 L509.50,50.46 L510.00,50.99 L510.50,51.51 L511.00,52.02 L511.50,52.52 L512.00,53.00 L512.50,53.47 L513.00,53.93 L513.50,54.38 L514.00,54.81 L514.50,55.24 L515.00,55.66 L515.50,56.06 L516.00,56.46 L516.50,56.85 L517.00,57.23 L517.50,57.60 L518.00,57.97 L518.50,58.33 L519.00,58.68 L519.50,59.02 L520.00,59.36 L520.50,59.70 L521.00,60.03 L521.50,60.35 L522.00,60.67 L522.50,60.98 L523.00,61.29 L523.50,61.60 L524.00,61.90 L524.50,62.20 L525.00,62.49 L525.50,62.78 L526.00,63.07 L526.50,63.35 L527.00,63.64 L527.50,63.92 L528.00,64.19 L528.50,64.47 L529.00,64.74 L529.50,65.01 L530.00,65.28 L530.50,65.55 L531.00,65.81 L531.50,66.07 L532.00,66.34 L532.50,66.60 L533.00,66.85 L533.50,67.11 L534.00,67.37 L534.50,67.62 L535.00,67.88 L535.50,68.13 L536.00,68.38 L536.50,68.63 L537.00,68.88 L537.50,69.13 L538.00,69.38 L538.50,69.62 L539.00,69.87 L539.50,70.12 L540.00,70.36 L540.50,70.60 L541.00,70.85 L541.50,71.09 L542.00,71.33 L542.50,71.57 L543.00,71.81 L543.50,72.06 L544.00,72.30 L544.50,72.53 L545.00,72.77 L545.50,73.01 L546.00,73.25 L546.50,73.49 L547.00,73.72 L547.50,73.96 L548.00,74.20 L548.50,74.43 L549.00,74.67 L549.50,74.90 L550.00,75.14 L550.50,75.37 L551.00,75.61 L551.50,75.84 L552.00,76.07 L552.50,76.31 L553.00,76.54 L553.50,76.77 L554.00,77.00 L554.50,77.23 L555.00,77.46 L555.50,77.69 L556.00,77.92 L556.50,78.15 L557.00,78.38 L557.50,78.61 L558.00,78.84 L558.50,79.07 L559.00,79.30 L559.50,79.53 L560.00,79.75 L560.50,79.98 L561.00,80.21 L561.50,80.43 L562.00,80.66 L562.50,80.89 L563.00,81.11 L563.50,81.34 L564.00,81.56 L564.50,81.78 L565.00,82.01 L565.50,82.23 L566.00,82.45 L566.50,82.68 L567.00,82.90 L567.50,83.12 L568.00,83.34 L568.50,83.56 L569.00,83.78 L569.50,84.00 L570.00,84.22 L570.50,84.44 L571.00,84.66 L571.50,84.88 L572.00,85.10 L572.50,85.32 L573.00,85.53 L573.50,85.75 L574.00,85.97 L574.50,86.18 L575.00,86.40 L575.50,86.62 L576.00,86.83 L576.50,87.04 L577.00,87.26 L577.50,87.47 L578.00,87.69 L578.50,87.90 L579.00,88.11 L579.50,88.32 L580.00,88.53 L580.50,88.74 L581.00,88.95 L581.50,89.16 L582.00,89.37 L582.50,89.58 L583.00,89.79 L583.50,90.00 L584.00,90.20 L584.50,90.41 L585.00,90.62 L585.50,90.82 L586.00,91.03 L586.50,91.23 L587.00,91.44 L587.50,91.64 L588.00,91.84 L588.50,92.05 L589.00,92.25 L589.50,92.45 L590.00,92.65 L590.50,92.85 L591.00,93.05 L591.50,93.25 L592.00,93.45 L592.50,93.64 L593.00,93.84 L593.50,94.04 L594.00,94.23 L594.50,94.43 L595.00,94.63 L595.50,94.82 L596.00,95.01 L596.50,95.21 L597.00,95.40 L597.50,95.59 L598.00,95.78 L598.50,95.97 L599.00,96.16 L599.50,96.35 L600.00,96.54 L600.50,96.73 L601.00,96.92 L601.50,97.10 L602.00,97.29 L602.50,97.47 L603.00,97.66 L603.50,97.84 L604.00,98.03 L604.50,98.21 L605.00,98.39 L605.50,98.57 L606.00,98.75 L606.50,98.93 L607.00,99.11 L607.50,99.29 L608.00,99.47 L608.50,99.64 L609.00,99.82 L609.50,100.00 L610.00,100.17 L610.50,100.35 L611.00,100.52 L611.50,100.69 L612.00,100.86 L612.50,101.03 L613.00,101.21 L613.50,101.37 L614.00,101.54 L614.50,101.71 L615.00,101.88 L615.50,102.05 L616.00,102.21 L616.50,102.38 L617.00,102.54 L617.50,102.70 L618.00,102.87 L618.50,103.03 L619.00,103.19 L619.50,103.35 L620.00,103.51 L620.50,103.67 L621.00,103.83 L621.50,103.98 L622.00,104.14 L622.50,104.30 L623.00,104.45 L623.50,104.61 L624.00,104.76 L624.50,104.91 L625.00,105.06 L625.50,105.21 L626.00,105.36 L626.50,105.51 L627.00,105.66 L627.50,105.81 L628.00,105.95 L628.50,106.10 L629.00,106.24 L629.50,106.39 L630.00,106.53 L630.50,106.67 L631.00,106.82 L631.50,106.96 L632.00,107.10 L632.50,107.23 L633.00,107.37 L633.50,107.51 L634.00,107.65 L634.50,107.78 L635.00,107.92 L635.50,108.05 L636.00,108.18 L636.50,108.32 L637.00,108.45 L637.50,108.58 L638.00,108.71 L638.50,108.84 L639.00,108.96 L639.50,109.09 L640.00,109.22 L640.50,109.34 L641.00,109.47 L641.50,109.59 L642.00,109.71 L642.50,109.84 L643.00,109.96 L643.50,110.08 L644.00,110.20 L644.50,110.31 L645.00,110.43 L645.50,110.55 L646.00,110.67 L646.50,110.78 L647.00,110.89 L647.50,111.01 L648.00,111.12 L648.50,111.23 L649.00,111.34 L649.50,111.45 L650.00,111.56 L650.50,111.67 L651.00,111.78 L651.50,111.89 L652.00,111.99 L652.50,112.10 L653.00,112.20 L653.50,112.30 L654.00,112.41 L654.50,112.51 L655.00,112.61 L655.50,112.71 L656.00,112.81 L656.50,112.91 L657.00,113.00 L657.50,113.10 L658.00,113.20 L658.50,113.29 L659.00,113.39 L659.50,113.48 L660.00,113.57 L660.50,113.67 L661.00,113.76 L661.50,113.85 L662.00,113.94 L662.50,114.03 L663.00,114.11 L663.50,114.20 L664.00,114.29 L664.50,114.37 L665.00,114.46 L665.50,114.54 L666.00,114.63 L666.50,114.71 L667.00,114.79 L667.50,114.87 L668.00,114.95 L668.50,115.03 L669.00,115.11 L669.50,115.19 L670.00,115.27 L670.50,115.35 L671.00,115.42 L671.50,115.50 L672.00,115.57 L672.50,115.65 L673.00,115.72 L673.50,115.79 L674.00,115.87 L674.50,115.94 L675.00,116.01 L675.50,116.08 L676.00,116.15 L676.50,116.21 L677.00,116.28 L677.50,116.35 L678.00,116.42 L678.50,116.48 L679.00,116.55 L679.50,116.61 L680.00,116.68 L680.50,116.74 L681.00,116.80 L681.50,116.86 L682.00,116.93 L682.50,116.99 L683.00,117.05 L683.50,117.11 L684.00,117.16 L684.00,136.08 L683.50,135.96 L683.00,135.84 L682.50,135.72 L682.00,135.60 L681.50,135.48 L681.00,135.36 L680.50,135.24 L680.00,135.12 L679.50,135.00 L679.00,134.88 L678.50,134.76 L678.00,134.64 L677.50,134.52 L677.00,134.40 L676.50,134.28 L676.00,134.16 L675.50,134.04 L675.00,133.92 L674.50,133.80 L674.00,133.68 L673.50,133.56 L673.00,133.44 L672.50,133.32 L672.00,133.20 L671.50,133.08 L671.00,132.96 L670.50,132.84 L670.00,132.72 L669.50,132.60 L669.00,132.48 L668.50,132.36 L668.00,132.24 L667.50,132.12 L667.00,132.00 L666.50,131.87 L666.00,131.75 L665.50,131.63 L665.00,131.51 L664.50,131.39 L664.00,131.27 L663.50,131.15 L663.00,131.03 L662.50,130.90 L662.00,130.78 L661.50,130.66 L661.00,130.54 L660.50,130.42 L660.00,130.29 L659.50,130.17 L659.00,130.05 L658.50,129.93 L658.00,129.81 L657.50,129.68 L657.00,129.56 L656.50,129.44 L656.00,129.32 L655.50,129.19 L655.00,129.07 L654.50,128.95 L654.00,128.82 L653.50,128.70 L653.00,128.58 L652.50,128.45 L652.00,128.33 L651.50,128.21 L651.00,128.08 L650.50,127.96 L650.00,127.84 L649.50,127.71 L649.00,127.59 L648.50,127.46 L648.00,127.34 L647.50,127.21 L647.00,127.09 L646.50,126.96 L646.00,126.84 L645.50,126.71 L645.00,126.59 L644.50,126.46 L644.00,126.34 L643.50,126.21 L643.00,126.09 L642.50,125.96 L642.00,125.83 L641.50,125.71 L641.00,125.58 L640.50,125.45 L640.00,125.33 L639.50,125.20 L639.00,125.07 L638.50,124.94 L638.00,124.82 L637.50,124.69 L637.00,124.56 L636.50,124.43 L636.00,124.30 L635.50,124.17 L635.00,124.04 L634.50,123.91 L634.00,123.78 L633.50,123.65 L633.00,123.52 L632.50,123.39 L632.00,123.26 L631.50,123.13 L631.00,123.00 L630.50,122.87 L630.00,122.74 L629.50,122.60 L629.00,122.47 L628.50,122.34 L628.00,122.20 L627.50,122.07 L627.00,121.94 L626.50,121.80 L626.00,121.67 L625.50,121.53 L625.00,121.40 L624.50,121.26 L624.00,121.13 L623.50,120.99 L623.00,120.85 L622.50,120.72 L622.00,120.58 L621.50,120.44 L621.00,120.30 L620.50,120.16 L620.00,120.02 L619.50,119.88 L619.00,119.74 L618.50,119.60 L618.00,119.46 L617.50,119.32 L617.00,119.18 L616.50,119.03 L616.00,118.89 L615.50,118.75 L615.00,118.60 L614.50,118.46 L614.00,118.31 L613.50,118.17 L613.00,118.02 L612.50,117.87 L612.00,117.72 L611.50,117.58 L611.00,117.43 L610.50,117.28 L610.00,117.13 L609.50,116.97 L609.00,116.82 L608.50,116.67 L608.00,116.52 L607.50,116.36 L607.00,116.21 L606.50,116.05 L606.00,115.90 L605.50,115.74 L605.00,115.58 L604.50,115.42 L604.00,115.26 L603.50,115.10 L603.00,114.94 L602.50,114.78 L602.00,114.62 L601.50,114.45 L601.00,114.29 L600.50,114.12 L600.00,113.96 L599.50,113.79 L599.00,113.62 L598.50,113.45 L598.00,113.28 L597.50,113.11 L597.00,112.94 L596.50,112.76 L596.00,112.59 L595.50,112.41 L595.00,112.23 L594.50,112.05 L594.00,111.88 L593.50,111.69 L593.00,111.51 L592.50,111.33 L592.00,111.15 L591.50,110.96 L591.00,110.77 L590.50,110.58 L590.00,110.40 L589.50,110.20 L589.00,110.01 L588.50,109.82 L588.00,109.62 L587.50,109.43 L587.00,109.23 L586.50,109.03 L586.00,108.83 L585.50,108.63 L585.00,108.42 L584.50,108.22 L584.00,108.01 L583.50,107.80 L583.00,107.59 L582.50,107.38 L582.00,107.17 L581.50,106.95 L581.00,106.73 L580.50,106.52 L580.00,106.30 L579.50,106.07 L579.00,105.85 L578.50,105.62 L578.00,105.40 L577.50,105.17 L577.00,104.94 L576.50,104.70 L576.00,104.47 L575.50,104.23 L575.00,103.99 L574.50,103.75 L574.00,103.51 L573.50,103.27 L573.00,103.02 L572.50,102.77 L572.00,102.52 L571.50,102.27 L571.00,102.01 L570.50,101.76 L570.00,101.50 L569.50,101.24 L569.00,100.97 L568.50,100.71 L568.00,100.44 L567.50,100.17 L567.00,99.90 L566.50,99.63 L566.00,99.35 L565.50,99.07 L565.00,98.79 L564.50,98.51 L564.00,98.22 L563.50,97.94 L563.00,97.65 L562.50,97.35 L562.00,97.06 L561.50,96.76 L561.00,96.46 L560.50,96.16 L560.00,95.86 L559.50,95.55 L559.00,95.24 L558.50,94.93 L558.00,94.62 L557.50,94.31 L557.00,93.99 L556.50,93.67 L556.00,93.34 L555.50,93.02 L555.00,92.69 L554.50,92.36 L554.00,92.03 L553.50,91.70 L553.00,91.36 L552.50,91.02 L552.00,90.68 L551.50,90.34 L551.00,89.99 L550.50,89.64 L550.00,89.29 L549.50,88.94 L549.00,88.58 L548.50,88.22 L548.00,87.86 L547.50,87.50 L547.00,87.13 L546.50,86.77 L546.00,86.40 L545.50,86.03 L545.00,85.65 L544.50,85.28 L544.00,84.90 L543.50,84.52 L543.00,84.13 L542.50,83.75 L542.00,83.36 L541.50,82.97 L541.00,82.58 L540.50,82.18 L540.00,81.79 L539.50,81.39 L539.00,80.99 L538.50,80.59 L538.00,80.18 L537.50,79.78 L537.00,79.37 L536.50,78.96 L536.00,78.54 L535.50,78.13 L535.00,77.71 L534.50,77.29 L534.00,76.87 L533.50,76.45 L533.00,76.02 L532.50,75.60 L532.00,75.17 L531.50,74.74 L531.00,74.31 L530.50,73.87 L530.00,73.43 L529.50,73.00 L529.00,72.56 L528.50,72.11 L528.00,71.67 L527.50,71.23 L527.00,70.78 L526.50,70.33 L526.00,69.88 L525.50,69.43 L525.00,68.97 L524.50,68.51 L524.00,68.06 L523.50,67.60 L523.00,67.13 L522.50,66.67 L522.00,66.20 L521.50,65.74 L521.00,65.27 L520.50,64.79 L520.00,64.32 L519.50,63.84 L519.00,63.36 L518.50,62.88 L518.00,62.40 L517.50,61.91 L517.00,61.43 L516.50,60.93 L516.00,60.44 L515.50,59.94 L515.00,59.44 L514.50,58.93 L514.00,58.43 L513.50,57.91 L513.00,57.40 L512.50,56.87 L512.00,56.35 L511.50,55.81 L511.00,55.27 L510.50,54.73 L510.00,54.18 L509.50,53.62 L509.00,53.05 L508.50,52.47 L508.00,51.88 L507.50,51.28 L507.00,50.67 L506.50,50.04 L506.00,49.40 L505.50,48.74 L505.00,48.07 L504.50,47.38 L504.00,46.67 L503.50,45.94 L503.00,45.18 L502.50,44.40 L502.00,43.59 L501.50,42.75 L501.00,41.87 L500.50,40.97 L500.00,40.03 L499.50,39.05 L499.00,38.03 L498.50,36.97 L498.00,35.86 L497.50,34.70 L497.00,33.50 L496.50,32.25 Z" fill="#e1e1f8" clip-path="url(#clipc)"/>
<path d="M496.50,31.15 L497.00,32.39 L497.50,33.60 L498.00,34.77 L498.50,35.91 L499.00,37.01 L499.50,38.09 L500.00,39.13 L500.50,40.14 L501.00,41.11 L501.50,42.05 L502.00,42.97 L502.50,43.85 L503.00,44.70 L503.50,45.53 L504.00,46.32 L504.50,47.09 L505.00,47.84 L505.50,48.56 L506.00,49.25 L506.50,49.93 L507.00,50.58 L507.50,51.21 L508.00,51.82 L508.50,52.41 L509.00,52.99 L509.50,53.55 L510.00,54.09 L510.50,54.62 L511.00,55.13 L511.50,55.63 L512.00,56.12 L512.50,56.60 L513.00,57.07 L513.50,57.52 L514.00,57.97 L514.50,58.41 L515.00,58.84 L515.50,59.26 L516.00,59.68 L516.50,60.09 L517.00,60.49 L517.50,60.89 L518.00,61.28 L518.50,61.66 L519.00,62.04 L519.50,62.42 L520.00,62.79 L520.50,63.16 L521.00,63.53 L521.50,63.89 L522.00,64.24 L522.50,64.60 L523.00,64.95 L523.50,65.30 L524.00,65.65 L524.50,65.99 L525.00,66.33 L525.50,66.67 L526.00,67.01 L526.50,67.34 L527.00,67.68 L527.50,68.01 L528.00,68.34 L528.50,68.67 L529.00,68.99 L529.50,69.32 L530.00,69.64 L530.50,69.96 L531.00,70.28 L531.50,70.60 L532.00,70.92 L532.50,71.24 L533.00,71.55 L533.50,71.86 L534.00,72.18 L534.50,72.49 L535.00,72.80 L535.50,73.11 L536.00,73.41 L536.50,73.72 L537.00,74.03 L537.50,74.33 L538.00,74.63 L538.50,74.93 L539.00,75.23 L539.50,75.53 L540.00,75.83 L540.50,76.13 L541.00,76.43 L541.50,76.72 L542.00,77.01 L542.50,77.31 L543.00,77.60 L543.50,77.89 L544.00,78.18 L544.50,78.47 L545.00,78.76 L545.50,79.04 L546.00,79.33 L546.50,79.61 L547.00,79.89 L547.50,80.18 L548.00,80.46 L548.50,80.74 L549.00,81.01 L549.50,81.29 L550.00,81.57 L550.50,81.84 L551.00,82.12 L551.50,82.39 L552.00,82.66 L552.50,82.93 L553.00,83.20 L553.50,83.47 L554.00,83.74 L554.50,84.00 L555.00,84.27 L555.50,84.53 L556.00,84.79 L556.50,85.05 L557.00,85.31 L557.50,85.57 L558.00,85.83 L558.50,86.09 L559.00,86.34 L559.50,86.60 L560.00,86.85 L560.50,87.10 L561.00,87.35 L561.50,87.60 L562.00,87.85 L562.50,88.10 L563.00,88.34 L563.50,88.59 L564.00,88.83 L564.50,89.08 L565.00,89.32 L565.50,89.56 L566.00,89.80 L566.50,90.03 L567.00,90.27 L567.50,90.51 L568.00,90.74 L568.50,90.97 L569.00,91.20 L569.50,91.44 L570.00,91.66 L570.50,91.89 L571.00,92.12 L571.50,92.35 L572.00,92.57 L572.50,92.80 L573.00,93.02 L573.50,93.24 L574.00,93.46 L574.50,93.68 L575.00,93.90 L575.50,94.11 L576.00,94.33 L576.50,94.54 L577.00,94.76 L577.50,94.97 L578.00,95.18 L578.50,95.39 L579.00,95.60 L579.50,95.81 L580.00,96.01 L580.50,96.22 L581.00,96.42 L581.50,96.62 L582.00,96.83 L582.50,97.03 L583.00,97.23 L583.50,97.43 L584.00,97.62 L584.50,97.82 L585.00,98.02 L585.50,98.21 L586.00,98.40 L586.50,98.59 L587.00,98.79 L587.50,98.98 L588.00,99.17 L588.50,99.35 L589.00,99.54 L589.50,99.73 L590.00,99.91 L590.50,100.09 L591.00,100.28 L591.50,100.46 L592.00,100.64 L592.50,100.82 L593.00,101.00 L593.50,101.18 L594.00,101.35 L594.50,101.53 L595.00,101.70 L595.50,101.88 L596.00,102.05 L596.50,102.22 L597.00,102.39 L597.50,102.56 L598.00,102.73 L598.50,102.90 L599.00,103.07 L599.50,103.24 L600.00,103.40 L600.50,103.57 L601.00,103.73 L601.50,103.89 L602.00,104.06 L602.50,104.22 L603.00,104.38 L603.50,104.54 L604.00,104.70 L604.50,104.85 L605.00,105.01 L605.50,105.17 L606.00,105.32 L606.50,105.48 L607.00,105.63 L607.50,105.78 L608.00,105.93 L608.50,106.09 L609.00,106.24 L609.50,106.39 L610.00,106.54 L610.50,106.68 L611.00,106.83 L611.50,106.98 L612.00,107.13 L612.50,107.27 L613.00,107.42 L613.50,107.56 L614.00,107.70 L614.50,107.85 L615.00,107.99 L615.50,108.13 L616.00,108.27 L616.50,108.41 L617.00,108.55 L617.50,108.69 L618.00,108.82 L618.50,108.96 L619.00,109.10 L619.50,109.23 L620.00,109.37 L620.50,109.51 L621.00,109.64 L621.50,109.77 L622.00,109.91 L622.50,110.04 L623.00,110.17 L623.50,110.30 L624.00,110.43 L624.50,110.56 L625.00,110.69 L625.50,110.82 L626.00,110.95 L626.50,111.08 L627.00,111.21 L627.50,111.33 L628.00,111.46 L628.50,111.59 L629.00,111.71 L629.50,111.84 L630.00,111.96 L630.50,112.08 L631.00,112.21 L631.50,112.33 L632.00,112.45 L632.50,112.58 L633.00,112.70 L633.50,112.82 L634.00,112.94 L634.50,113.06 L635.00,113.18 L635.50,113.30 L636.00,113.42 L636.50,113.54 L637.00,113.65 L637.50,113.77 L638.00,113.89 L638.50,114.01 L639.00,114.12 L639.50,114.24 L640.00,114.36 L640.50,114.47 L641.00,114.59 L641.50,114.70 L642.00,114.82 L642.50,114.93 L643.00,115.04 L643.50,115.16 L644.00,115.27 L644.50,115.38 L645.00,115.50 L645.50,115.61 L646.00,115.72 L646.50,115.83 L647.00,115.94 L647.50,116.05 L648.00,116.16 L648.50,116.27 L649.00,116.38 L649.50,116.49 L650.00,116.60 L650.50,116.71 L651.00,116.82 L651.50,116.93 L652.00,117.04 L652.50,117.14 L653.00,117.25 L653.50,117.36 L654.00,117.47 L654.50,117.57 L655.00,117.68 L655.50,117.78 L656.00,117.89 L656.50,118.00 L657.00,118.10 L657.50,118.21 L658.00,118.31 L658.50,118.42 L659.00,118.52 L659.50,118.63 L660.00,118.73 L660.50,118.84 L661.00,118.94 L661.50,119.04 L662.00,119.15 L662.50,119.25 L663.00,119.35 L663.50,119.45 L664.00,119.56 L664.50,119.66 L665.00,119.76 L665.50,119.86 L666.00,119.97 L666.50,120.07 L667.00,120.17 L667.50,120.27 L668.00,120.37 L668.50,120.47 L669.00,120.57 L669.50,120.67 L670.00,120.77 L670.50,120.87 L671.00,120.97 L671.50,121.07 L672.00,121.17 L672.50,121.27 L673.00,121.37 L673.50,121.47 L674.00,121.57 L674.50,121.67 L675.00,121.77 L675.50,121.87 L676.00,121.97 L676.50,122.07 L677.00,122.16 L677.50,122.26 L678.00,122.36 L678.50,122.46 L679.00,122.56 L679.50,122.65 L680.00,122.75 L680.50,122.85 L681.00,122.95 L681.50,123.04 L682.00,123.14 L682.50,123.24 L683.00,123.33 L683.50,123.43 L684.00,123.53" fill="none" stroke="#0000cd" stroke-width="1.1" stroke-linejoin="round" stroke-linecap="round" clip-path="url(#clipc)"/>
<g clip-path="url(#clipc)">
<path d="M499.00,28.80 V34.90 M497.70,28.80 H500.30 M497.70,34.90 H500.30" stroke="#0000cd" stroke-width="0.75" fill="none"/>
<path d="M505.10,36.20 V58.40 M503.80,36.20 H506.40 M503.80,58.40 H506.40" stroke="#0000cd" stroke-width="0.75" fill="none"/>
<path d="M516.00,52.10 V76.10 M514.70,52.10 H517.30 M514.70,76.10 H517.30" stroke="#0000cd" stroke-width="0.75" fill="none"/>
<path d="M527.30,59.50 V74.60 M526.00,59.50 H528.60 M526.00,74.60 H528.60" stroke="#0000cd" stroke-width="0.75" fill="none"/>
<path d="M538.50,68.50 V81.70 M537.20,68.50 H539.80 M537.20,81.70 H539.80" stroke="#0000cd" stroke-width="0.75" fill="none"/>
<path d="M582.90,89.30 V98.20 M581.60,89.30 H584.20 M581.60,98.20 H584.20" stroke="#0000cd" stroke-width="0.75" fill="none"/>
<path d="M627.50,111.60 V133.20 M626.20,111.60 H628.80 M626.20,133.20 H628.80" stroke="#0000cd" stroke-width="0.75" fill="none"/>
<path d="M671.80,118.20 V136.40 M670.50,118.20 H673.10 M670.50,136.40 H673.10" stroke="#0000cd" stroke-width="0.75" fill="none"/>
<circle cx="494.40" cy="25.30" r="2.30" fill="#0000cd"/>
<circle cx="499.00" cy="31.50" r="2.30" fill="#0000cd"/>
<circle cx="505.10" cy="43.90" r="2.30" fill="#0000cd"/>
<circle cx="516.00" cy="60.70" r="2.30" fill="#0000cd"/>
<circle cx="527.30" cy="65.40" r="2.30" fill="#0000cd"/>
<circle cx="538.50" cy="74.00" r="2.30" fill="#0000cd"/>
<circle cx="582.90" cy="93.20" r="2.30" fill="#0000cd"/>
<circle cx="627.50" cy="119.50" r="2.30" fill="#0000cd"/>
<circle cx="671.80" cy="125.80" r="2.30" fill="#0000cd"/>
</g>
<path d="M493.80,20.30 V144.30 H683.50" stroke="#4d4d4d" stroke-width="1" fill="none"/>
<path d="M493.90,144.30 V147.10" stroke="#7f7f7f" stroke-width="0.6"/>
<text x="493.90" y="155.60" text-anchor="middle" font-size="10.8" stroke="#000" stroke-width="0.15">0</text>
<path d="M516.09,144.30 V147.10" stroke="#7f7f7f" stroke-width="0.6"/>
<text x="516.09" y="155.60" text-anchor="middle" font-size="10.8" stroke="#000" stroke-width="0.15">1</text>
<path d="M538.28,144.30 V147.10" stroke="#7f7f7f" stroke-width="0.6"/>
<text x="538.28" y="155.60" text-anchor="middle" font-size="10.8" stroke="#000" stroke-width="0.15">2</text>
<path d="M560.47,144.30 V147.10" stroke="#7f7f7f" stroke-width="0.6"/>
<text x="560.47" y="155.60" text-anchor="middle" font-size="10.8" stroke="#000" stroke-width="0.15">3</text>
<path d="M582.66,144.30 V147.10" stroke="#7f7f7f" stroke-width="0.6"/>
<text x="582.66" y="155.60" text-anchor="middle" font-size="10.8" stroke="#000" stroke-width="0.15">4</text>
<path d="M604.85,144.30 V147.10" stroke="#7f7f7f" stroke-width="0.6"/>
<text x="604.85" y="155.60" text-anchor="middle" font-size="10.8" stroke="#000" stroke-width="0.15">5</text>
<path d="M627.04,144.30 V147.10" stroke="#7f7f7f" stroke-width="0.6"/>
<text x="627.04" y="155.60" text-anchor="middle" font-size="10.8" stroke="#000" stroke-width="0.15">6</text>
<path d="M649.23,144.30 V147.10" stroke="#7f7f7f" stroke-width="0.6"/>
<text x="649.23" y="155.60" text-anchor="middle" font-size="10.8" stroke="#000" stroke-width="0.15">7</text>
<path d="M671.42,144.30 V147.10" stroke="#7f7f7f" stroke-width="0.6"/>
<text x="671.42" y="155.60" text-anchor="middle" font-size="10.8" stroke="#000" stroke-width="0.15">8</text>
<path d="M491.60,139.60 H497.40" stroke="#7f7f7f" stroke-width="0.8"/>
<text x="489.90" y="145.60" text-anchor="end" font-size="10.8" stroke="#000" stroke-width="0.15">10<tspan dy="-6.3" font-size="7.6">−1</tspan></text>
<path d="M491.60,96.40 H497.40" stroke="#7f7f7f" stroke-width="0.8"/>
<text x="489.90" y="102.40" text-anchor="end" font-size="10.8" stroke="#000" stroke-width="0.15">10<tspan dy="-6.3" font-size="7.6">0</tspan></text>
<path d="M491.60,53.20 H497.40" stroke="#7f7f7f" stroke-width="0.8"/>
<text x="489.90" y="59.20" text-anchor="end" font-size="10.8" stroke="#000" stroke-width="0.15">10<tspan dy="-6.3" font-size="7.6">1</tspan></text>
<path d="M493.80,143.79 H495.40" stroke="#333" stroke-width="0.7"/>
<path d="M493.80,141.58 H495.40" stroke="#333" stroke-width="0.7"/>
<path d="M493.80,126.60 H495.40" stroke="#333" stroke-width="0.7"/>
<path d="M493.80,118.99 H495.40" stroke="#333" stroke-width="0.7"/>
<path d="M493.80,113.59 H495.40" stroke="#333" stroke-width="0.7"/>
<path d="M493.80,109.40 H495.40" stroke="#333" stroke-width="0.7"/>
<path d="M493.80,105.98 H495.40" stroke="#333" stroke-width="0.7"/>
<path d="M493.80,103.09 H495.40" stroke="#333" stroke-width="0.7"/>
<path d="M493.80,100.59 H495.40" stroke="#333" stroke-width="0.7"/>
<path d="M493.80,98.38 H495.40" stroke="#333" stroke-width="0.7"/>
<path d="M493.80,83.40 H495.40" stroke="#333" stroke-width="0.7"/>
<path d="M493.80,75.79 H495.40" stroke="#333" stroke-width="0.7"/>
<path d="M493.80,70.39 H495.40" stroke="#333" stroke-width="0.7"/>
<path d="M493.80,66.20 H495.40" stroke="#333" stroke-width="0.7"/>
<path d="M493.80,62.78 H495.40" stroke="#333" stroke-width="0.7"/>
<path d="M493.80,59.89 H495.40" stroke="#333" stroke-width="0.7"/>
<path d="M493.80,57.39 H495.40" stroke="#333" stroke-width="0.7"/>
<path d="M493.80,55.18 H495.40" stroke="#333" stroke-width="0.7"/>
<path d="M493.80,40.20 H495.40" stroke="#333" stroke-width="0.7"/>
<path d="M493.80,32.59 H495.40" stroke="#333" stroke-width="0.7"/>
<path d="M493.80,27.19 H495.40" stroke="#333" stroke-width="0.7"/>
<path d="M493.80,23.00 H495.40" stroke="#333" stroke-width="0.7"/>
<text x="493.30" y="14.00" font-size="16" font-weight="bold">c</text>
<text x="516.90" y="14.00" font-size="12.7">Metformin − 1000 mg iv</text>
<circle cx="585.10" cy="30.60" r="2.50" fill="#0000cd"/>
<text x="595.00" y="33.20" font-size="8.7" stroke="#000" stroke-width="0.25">Sirtori 1978 − Healthy</text>
<text x="595.00" y="42.90" font-size="8.7" stroke="#000" stroke-width="0.25">n = 5</text>
<clipPath id="clipd"><rect x="41.40" y="185.30" width="184.50" height="129.95"/></clipPath>
<path d="M41.40,315.20 C41.90,311.00 43.63,298.87 44.40,290.00 C45.17,281.13 45.57,268.67 46.00,262.00 C46.43,255.33 46.72,253.85 47.00,250.00 C47.28,246.15 47.42,242.37 47.70,238.90 C47.98,235.43 48.28,232.43 48.70,229.20 C49.12,225.97 49.58,222.10 50.20,219.50 C50.82,216.90 51.60,213.93 52.40,213.60 C53.20,213.27 54.00,216.37 55.00,217.50 C56.00,218.63 57.42,218.93 58.40,220.40 C59.38,221.87 60.08,224.02 60.90,226.30 C61.72,228.58 62.42,231.52 63.30,234.10 C64.18,236.68 65.30,239.37 66.20,241.80 C67.10,244.23 67.98,246.92 68.70,248.70 C69.42,250.48 69.20,250.40 70.50,252.50 C71.80,254.60 74.58,258.80 76.50,261.30 C78.42,263.80 80.08,265.47 82.00,267.50 C83.92,269.53 86.42,271.62 88.00,273.50 C89.58,275.38 89.75,276.27 91.50,278.80 C93.25,281.33 95.97,286.27 98.50,288.70 C101.03,291.13 103.38,291.65 106.70,293.40 C110.02,295.15 114.52,297.45 118.40,299.20 C122.28,300.95 126.40,302.73 130.00,303.90 C133.60,305.07 135.83,305.35 140.00,306.20 C144.17,307.05 148.33,308.03 155.00,309.00 C161.67,309.97 168.08,311.12 180.00,312.00 C191.92,312.88 218.75,313.92 226.50,314.30 L226.50,315.10 C215.42,315.05 174.42,314.97 160.00,314.80 C145.58,314.63 145.00,314.37 140.00,314.10 C135.00,313.83 133.60,313.73 130.00,313.20 C126.40,312.67 122.28,311.87 118.40,310.90 C114.52,309.93 110.60,308.87 106.70,307.40 C102.80,305.93 98.50,303.67 95.00,302.10 C91.50,300.53 88.62,299.55 85.70,298.00 C82.78,296.45 79.83,294.55 77.50,292.80 C75.17,291.05 73.65,289.53 71.70,287.50 C69.75,285.47 68.03,282.65 65.80,280.60 C63.57,278.55 60.80,275.20 58.30,275.20 C55.80,275.20 53.12,274.72 50.80,280.60 C48.48,286.48 45.97,304.73 44.40,310.50 C42.83,316.27 41.90,314.42 41.40,315.20 Z" fill="#e1e1f8" clip-path="url(#clipd)"/>
<path d="M41.40,315.19 L41.90,311.17 L42.40,307.21 L42.90,303.31 L43.40,299.48 L43.90,295.72 L44.40,292.02 L44.90,288.39 L45.40,284.82 L45.90,281.33 L46.40,277.90 L46.90,274.55 L47.40,271.27 L47.90,268.05 L48.40,264.91 L48.90,261.86 L49.40,258.94 L49.90,256.24 L50.40,253.86 L50.90,251.85 L51.40,250.22 L51.90,248.90 L52.40,247.85 L52.90,247.02 L53.40,246.40 L53.90,245.98 L54.40,245.74 L54.90,245.66 L55.40,245.74 L55.90,245.96 L56.40,246.31 L56.90,246.77 L57.40,247.33 L57.90,247.98 L58.40,248.71 L58.90,249.49 L59.40,250.32 L59.90,251.19 L60.40,252.07 L60.90,252.96 L61.40,253.85 L61.90,254.71 L62.40,255.57 L62.90,256.40 L63.40,257.22 L63.90,258.03 L64.40,258.82 L64.90,259.61 L65.40,260.38 L65.90,261.14 L66.40,261.89 L66.90,262.64 L67.40,263.37 L67.90,264.10 L68.40,264.83 L68.90,265.55 L69.40,266.26 L69.90,266.98 L70.40,267.69 L70.90,268.40 L71.40,269.11 L71.90,269.82 L72.40,270.53 L72.90,271.25 L73.40,271.96 L73.90,272.69 L74.40,273.41 L74.90,274.13 L75.40,274.86 L75.90,275.59 L76.40,276.31 L76.90,277.03 L77.40,277.75 L77.90,278.47 L78.40,279.18 L78.90,279.89 L79.40,280.59 L79.90,281.29 L80.40,281.98 L80.90,282.66 L81.40,283.33 L81.90,283.99 L82.40,284.64 L82.90,285.28 L83.40,285.90 L83.90,286.52 L84.40,287.12 L84.90,287.70 L85.40,288.27 L85.90,288.82 L86.40,289.36 L86.90,289.88 L87.40,290.39 L87.90,290.88 L88.40,291.35 L88.90,291.81 L89.40,292.26 L89.90,292.70 L90.40,293.12 L90.90,293.52 L91.40,293.92 L91.90,294.31 L92.40,294.68 L92.90,295.04 L93.40,295.39 L93.90,295.74 L94.40,296.07 L94.90,296.39 L95.40,296.71 L95.90,297.01 L96.40,297.31 L96.90,297.60 L97.40,297.88 L97.90,298.16 L98.40,298.43 L98.90,298.69 L99.40,298.95 L99.90,299.21 L100.40,299.46 L100.90,299.70 L101.40,299.94 L101.90,300.18 L102.40,300.41 L102.90,300.64 L103.40,300.86 L103.90,301.08 L104.40,301.30 L104.90,301.51 L105.40,301.72 L105.90,301.92 L106.40,302.13 L106.90,302.32 L107.40,302.52 L107.90,302.71 L108.40,302.89 L108.90,303.08 L109.40,303.26 L109.90,303.43 L110.40,303.61 L110.90,303.78 L111.40,303.94 L111.90,304.11 L112.40,304.27 L112.90,304.43 L113.40,304.58 L113.90,304.73 L114.40,304.88 L114.90,305.03 L115.40,305.17 L115.90,305.31 L116.40,305.45 L116.90,305.59 L117.40,305.72 L117.90,305.85 L118.40,305.98 L118.90,306.11 L119.40,306.23 L119.90,306.36 L120.40,306.47 L120.90,306.59 L121.40,306.71 L121.90,306.82 L122.40,306.93 L122.90,307.04 L123.40,307.15 L123.90,307.26 L124.40,307.36 L124.90,307.47 L125.40,307.57 L125.90,307.67 L126.40,307.77 L126.90,307.87 L127.40,307.96 L127.90,308.06 L128.40,308.15 L128.90,308.24 L129.40,308.33 L129.90,308.42 L130.40,308.51 L130.90,308.60 L131.40,308.69 L131.90,308.77 L132.40,308.86 L132.90,308.94 L133.40,309.02 L133.90,309.11 L134.40,309.19 L134.90,309.27 L135.40,309.35 L135.90,309.43 L136.40,309.50 L136.90,309.58 L137.40,309.65 L137.90,309.73 L138.40,309.80 L138.90,309.88 L139.40,309.95 L139.90,310.02 L140.40,310.09 L140.90,310.16 L141.40,310.23 L141.90,310.29 L142.40,310.36 L142.90,310.43 L143.40,310.49 L143.90,310.56 L144.40,310.62 L144.90,310.68 L145.40,310.74 L145.90,310.80 L146.40,310.86 L146.90,310.92 L147.40,310.98 L147.90,311.04 L148.40,311.10 L148.90,311.15 L149.40,311.21 L149.90,311.26 L150.40,311.32 L150.90,311.37 L151.40,311.42 L151.90,311.47 L152.40,311.53 L152.90,311.58 L153.40,311.63 L153.90,311.67 L154.40,311.72 L154.90,311.77 L155.40,311.82 L155.90,311.86 L156.40,311.91 L156.90,311.95 L157.40,312.00 L157.90,312.04 L158.40,312.08 L158.90,312.13 L159.40,312.17 L159.90,312.21 L160.40,312.25 L160.90,312.29 L161.40,312.33 L161.90,312.37 L162.40,312.40 L162.90,312.44 L163.40,312.48 L163.90,312.51 L164.40,312.55 L164.90,312.58 L165.40,312.62 L165.90,312.65 L166.40,312.69 L166.90,312.72 L167.40,312.75 L167.90,312.78 L168.40,312.81 L168.90,312.84 L169.40,312.87 L169.90,312.90 L170.40,312.93 L170.90,312.96 L171.40,312.99 L171.90,313.02 L172.40,313.05 L172.90,313.07 L173.40,313.10 L173.90,313.13 L174.40,313.15 L174.90,313.18 L175.40,313.20 L175.90,313.23 L176.40,313.25 L176.90,313.27 L177.40,313.30 L177.90,313.32 L178.40,313.34 L178.90,313.36 L179.40,313.38 L179.90,313.41 L180.40,313.43 L180.90,313.45 L181.40,313.47 L181.90,313.49 L182.40,313.51 L182.90,313.53 L183.40,313.55 L183.90,313.56 L184.40,313.58 L184.90,313.60 L185.40,313.62 L185.90,313.64 L186.40,313.65 L186.90,313.67 L187.40,313.69 L187.90,313.70 L188.40,313.72 L188.90,313.73 L189.40,313.75 L189.90,313.76 L190.40,313.78 L190.90,313.79 L191.40,313.81 L191.90,313.82 L192.40,313.84 L192.90,313.85 L193.40,313.87 L193.90,313.88 L194.40,313.89 L194.90,313.91 L195.40,313.92 L195.90,313.93 L196.40,313.95 L196.90,313.96 L197.40,313.97 L197.90,313.98 L198.40,314.00 L198.90,314.01 L199.40,314.02 L199.90,314.03 L200.40,314.04 L200.90,314.06 L201.40,314.07 L201.90,314.08 L202.40,314.09 L202.90,314.10 L203.40,314.11 L203.90,314.13 L204.40,314.14 L204.90,314.15 L205.40,314.16 L205.90,314.17 L206.40,314.18 L206.90,314.19 L207.40,314.21 L207.90,314.22 L208.40,314.23 L208.90,314.24 L209.40,314.25 L209.90,314.26 L210.40,314.27 L210.90,314.28 L211.40,314.30 L211.90,314.31 L212.40,314.32 L212.90,314.33 L213.40,314.34 L213.90,314.35 L214.40,314.37 L214.90,314.38 L215.40,314.39 L215.90,314.40 L216.40,314.42 L216.90,314.43 L217.40,314.44 L217.90,314.45 L218.40,314.47 L218.90,314.48 L219.40,314.49 L219.90,314.51 L220.40,314.52 L220.90,314.53 L221.40,314.55 L221.90,314.56 L222.40,314.57 L222.90,314.59 L223.40,314.60 L223.90,314.62 L224.40,314.63 L224.90,314.65 L225.40,314.66 L225.90,314.68 L226.40,314.70 L226.50,314.70" fill="none" stroke="#0000cd" stroke-width="1.1" stroke-linejoin="round" stroke-linecap="round" clip-path="url(#clipd)"/>
<g clip-path="url(#clipd)">
<path d="M45.90,272.30 V290.00 M44.60,272.30 H47.20 M44.60,290.00 H47.20" stroke="#0000cd" stroke-width="0.75" fill="none"/>
<path d="M48.50,259.00 V276.00 M47.20,259.00 H49.80 M47.20,276.00 H49.80" stroke="#0000cd" stroke-width="0.75" fill="none"/>
<path d="M52.20,241.30 V271.70 M50.90,241.30 H53.50 M50.90,271.70 H53.50" stroke="#0000cd" stroke-width="0.75" fill="none"/>
<path d="M56.10,243.10 V270.50 M54.80,243.10 H57.40 M54.80,270.50 H57.40" stroke="#0000cd" stroke-width="0.75" fill="none"/>
<path d="M59.60,246.60 V270.00 M58.30,246.60 H60.90 M58.30,270.00 H60.90" stroke="#0000cd" stroke-width="0.75" fill="none"/>
<path d="M63.10,248.90 V273.10 M61.80,248.90 H64.40 M61.80,273.10 H64.40" stroke="#0000cd" stroke-width="0.75" fill="none"/>
<path d="M70.90,257.10 V279.30 M69.60,257.10 H72.20 M69.60,279.30 H72.20" stroke="#0000cd" stroke-width="0.75" fill="none"/>
<path d="M78.40,272.50 V288.40 M77.10,272.50 H79.70 M77.10,288.40 H79.70" stroke="#0000cd" stroke-width="0.75" fill="none"/>
<path d="M85.60,288.20 V299.10 M84.30,288.20 H86.90 M84.30,299.10 H86.90" stroke="#0000cd" stroke-width="0.75" fill="none"/>
<path d="M100.20,300.50 V307.00 M98.90,300.50 H101.50 M98.90,307.00 H101.50" stroke="#0000cd" stroke-width="0.75" fill="none"/>
<path d="M115.20,306.50 V310.50 M113.90,306.50 H116.50 M113.90,310.50 H116.50" stroke="#0000cd" stroke-width="0.75" fill="none"/>
<circle cx="45.90" cy="281.40" r="2.30" fill="#0000cd"/>
<circle cx="48.50" cy="267.30" r="2.30" fill="#0000cd"/>
<circle cx="52.20" cy="256.50" r="2.30" fill="#0000cd"/>
<circle cx="56.10" cy="256.70" r="2.30" fill="#0000cd"/>
<circle cx="59.60" cy="259.40" r="2.30" fill="#0000cd"/>
<circle cx="63.10" cy="261.20" r="2.30" fill="#0000cd"/>
<circle cx="70.90" cy="268.20" r="2.30" fill="#0000cd"/>
<circle cx="78.40" cy="280.30" r="2.30" fill="#0000cd"/>
<circle cx="85.60" cy="292.90" r="2.30" fill="#0000cd"/>
<circle cx="100.20" cy="303.80" r="2.30" fill="#0000cd"/>
<circle cx="115.20" cy="308.60" r="2.30" fill="#0000cd"/>
<circle cx="129.90" cy="311.30" r="2.30" fill="#0000cd"/>
<circle cx="218.60" cy="314.00" r="2.30" fill="#0000cd"/>
</g>
<path d="M41.40,191.30 V315.25 H225.90" stroke="#4d4d4d" stroke-width="1" fill="none"/>
<path d="M41.40,315.25 V318.05" stroke="#7f7f7f" stroke-width="0.6"/>
<text x="41.40" y="326.55" text-anchor="middle" font-size="10.8" stroke="#000" stroke-width="0.15">0</text>
<path d="M85.68,315.25 V318.05" stroke="#7f7f7f" stroke-width="0.6"/>
<text x="85.68" y="326.55" text-anchor="middle" font-size="10.8" stroke="#000" stroke-width="0.15">6</text>
<path d="M129.96,315.25 V318.05" stroke="#7f7f7f" stroke-width="0.6"/>
<text x="129.96" y="326.55" text-anchor="middle" font-size="10.8" stroke="#000" stroke-width="0.15">12</text>
<path d="M174.24,315.25 V318.05" stroke="#7f7f7f" stroke-width="0.6"/>
<text x="174.24" y="326.55" text-anchor="middle" font-size="10.8" stroke="#000" stroke-width="0.15">18</text>
<path d="M218.52,315.25 V318.05" stroke="#7f7f7f" stroke-width="0.6"/>
<text x="218.52" y="326.55" text-anchor="middle" font-size="10.8" stroke="#000" stroke-width="0.15">24</text>
<path d="M38.80,315.25 H41.40" stroke="#7f7f7f" stroke-width="0.8"/>
<text x="37.80" y="319.15" text-anchor="end" font-size="10.8" stroke="#000" stroke-width="0.15">0</text>
<path d="M38.80,294.59 H41.40" stroke="#7f7f7f" stroke-width="0.8"/>
<text x="37.80" y="298.49" text-anchor="end" font-size="10.8" stroke="#000" stroke-width="0.15">0.01</text>
<path d="M38.80,273.93 H41.40" stroke="#7f7f7f" stroke-width="0.8"/>
<text x="37.80" y="277.83" text-anchor="end" font-size="10.8" stroke="#000" stroke-width="0.15">0.02</text>
<path d="M38.80,253.27 H41.40" stroke="#7f7f7f" stroke-width="0.8"/>
<text x="37.80" y="257.17" text-anchor="end" font-size="10.8" stroke="#000" stroke-width="0.15">0.03</text>
<path d="M38.80,232.61 H41.40" stroke="#7f7f7f" stroke-width="0.8"/>
<text x="37.80" y="236.51" text-anchor="end" font-size="10.8" stroke="#000" stroke-width="0.15">0.04</text>
<path d="M38.80,211.95 H41.40" stroke="#7f7f7f" stroke-width="0.8"/>
<text x="37.80" y="215.85" text-anchor="end" font-size="10.8" stroke="#000" stroke-width="0.15">0.05</text>
<path d="M38.80,191.29 H41.40" stroke="#7f7f7f" stroke-width="0.8"/>
<text x="37.80" y="195.19" text-anchor="end" font-size="10.8" stroke="#000" stroke-width="0.15">0.06</text>
<text x="40.90" y="185.10" font-size="16" font-weight="bold">d</text>
<text x="65.37" y="185.10" font-size="12.7">Metformin − 10 mg po</text>
<circle cx="162.58" cy="201.60" r="2.50" fill="#0000cd"/>
<text x="172.48" y="204.20" font-size="8.7" stroke="#000" stroke-width="0.25">Stopfer 2018</text>
<text x="172.48" y="213.90" font-size="8.7" stroke="#000" stroke-width="0.25">n = 24</text>
<clipPath id="clipe"><rect x="261.65" y="185.60" width="192.95" height="129.65"/></clipPath>
<path d="M261.60,284.10 C264.08,285.65 273.60,292.75 276.50,293.40 C279.40,294.05 278.08,291.90 279.00,288.00 C279.92,284.10 281.00,277.17 282.00,270.00 C283.00,262.83 284.20,250.50 285.00,245.00 C285.80,239.50 286.25,240.45 286.80,237.00 C287.35,233.55 287.82,228.35 288.30,224.30 C288.78,220.25 289.17,215.17 289.70,212.70 C290.23,210.23 290.62,210.15 291.50,209.50 C292.38,208.85 293.67,208.60 295.00,208.80 C296.33,209.00 298.50,209.73 299.50,210.70 C300.50,211.67 300.43,212.33 301.00,214.60 C301.57,216.87 302.18,221.38 302.90,224.30 C303.62,227.22 304.17,229.82 305.30,232.10 C306.43,234.38 308.15,235.93 309.70,238.00 C311.25,240.07 312.97,242.08 314.60,244.50 C316.23,246.92 317.88,250.03 319.50,252.50 C321.12,254.97 322.68,257.30 324.30,259.30 C325.92,261.30 327.50,262.47 329.20,264.50 C330.90,266.53 332.78,269.33 334.50,271.50 C336.22,273.67 337.82,275.75 339.50,277.50 C341.18,279.25 342.93,280.43 344.60,282.00 C346.27,283.57 347.88,285.52 349.50,286.90 C351.12,288.28 352.68,289.33 354.30,290.30 C355.92,291.27 357.58,291.97 359.20,292.70 C360.82,293.43 362.38,294.05 364.00,294.70 C365.62,295.35 367.27,296.03 368.90,296.60 C370.53,297.17 371.95,297.62 373.80,298.10 C375.65,298.58 375.63,298.43 380.00,299.50 C384.37,300.57 392.50,303.08 400.00,304.50 C407.50,305.92 415.83,307.08 425.00,308.00 C434.17,308.92 450.00,309.67 455.00,310.00 L455.00,314.30 C445.83,313.95 412.50,312.88 400.00,312.20 C387.50,311.52 385.18,310.77 380.00,310.20 C374.82,309.63 372.37,309.37 368.90,308.80 C365.43,308.23 362.43,307.53 359.20,306.80 C355.97,306.07 351.93,305.12 349.50,304.40 C347.07,303.68 346.23,303.23 344.60,302.50 C342.97,301.77 341.32,300.90 339.70,300.00 C338.08,299.10 336.52,298.07 334.90,297.10 C333.28,296.13 331.65,295.47 330.00,294.20 C328.35,292.93 326.75,291.03 325.00,289.50 C323.25,287.97 321.23,286.47 319.50,285.00 C317.77,283.53 316.23,282.22 314.60,280.70 C312.97,279.18 311.32,277.27 309.70,275.90 C308.08,274.53 306.52,273.80 304.90,272.50 C303.28,271.20 301.15,269.52 300.00,268.10 C298.85,266.68 298.83,264.85 298.00,264.00 C297.17,263.15 296.33,262.50 295.00,263.00 C293.67,263.50 291.33,264.83 290.00,267.00 C288.67,269.17 288.00,272.17 287.00,276.00 C286.00,279.83 285.00,285.50 284.00,290.00 C283.00,294.50 281.93,299.93 281.00,303.00 C280.07,306.07 281.63,308.30 278.40,308.40 C275.17,308.50 264.40,304.40 261.60,303.60 Z" fill="#e1e1f8" clip-path="url(#clipe)"/>
<path d="M261.60,293.20 L277.50,300.90 M277.50,300.57 L278.00,300.05 L278.50,299.33 L279.00,298.39 L279.50,297.21 L280.00,295.76 L280.50,294.00 L281.00,291.93 L281.50,289.56 L282.00,286.87 L282.50,283.88 L283.00,280.58 L283.50,277.01 L284.00,273.26 L284.50,269.42 L285.00,265.58 L285.50,261.84 L286.00,258.29 L286.50,255.02 L287.00,252.11 L287.50,249.59 L288.00,247.42 L288.50,245.57 L289.00,244.01 L289.50,242.69 L290.00,241.59 L290.50,240.67 L291.00,239.90 L291.50,239.25 L292.00,238.68 L292.50,238.21 L293.00,237.82 L293.50,237.52 L294.00,237.29 L294.50,237.14 L295.00,237.06 L295.50,237.05 L296.00,237.11 L296.50,237.23 L297.00,237.41 L297.50,237.64 L298.00,237.93 L298.50,238.27 L299.00,238.66 L299.50,239.09 L300.00,239.56 L300.50,240.07 L301.00,240.61 L301.50,241.19 L302.00,241.79 L302.50,242.41 L303.00,243.06 L303.50,243.73 L304.00,244.41 L304.50,245.10 L305.00,245.80 L305.50,246.50 L306.00,247.22 L306.50,247.93 L307.00,248.65 L307.50,249.38 L308.00,250.11 L308.50,250.84 L309.00,251.57 L309.50,252.31 L310.00,253.04 L310.50,253.78 L311.00,254.52 L311.50,255.26 L312.00,255.99 L312.50,256.73 L313.00,257.47 L313.50,258.20 L314.00,258.93 L314.50,259.65 L315.00,260.38 L315.50,261.09 L316.00,261.81 L316.50,262.52 L317.00,263.22 L317.50,263.92 L318.00,264.61 L318.50,265.29 L319.00,265.97 L319.50,266.63 L320.00,267.29 L320.50,267.94 L321.00,268.58 L321.50,269.22 L322.00,269.84 L322.50,270.46 L323.00,271.07 L323.50,271.67 L324.00,272.26 L324.50,272.85 L325.00,273.42 L325.50,273.99 L326.00,274.55 L326.50,275.11 L327.00,275.65 L327.50,276.19 L328.00,276.72 L328.50,277.24 L329.00,277.76 L329.50,278.27 L330.00,278.77 L330.50,279.27 L331.00,279.75 L331.50,280.23 L332.00,280.71 L332.50,281.17 L333.00,281.64 L333.50,282.09 L334.00,282.54 L334.50,282.98 L335.00,283.41 L335.50,283.84 L336.00,284.26 L336.50,284.68 L337.00,285.09 L337.50,285.49 L338.00,285.89 L338.50,286.28 L339.00,286.66 L339.50,287.04 L340.00,287.42 L340.50,287.79 L341.00,288.15 L341.50,288.51 L342.00,288.86 L342.50,289.20 L343.00,289.55 L343.50,289.88 L344.00,290.21 L344.50,290.54 L345.00,290.86 L345.50,291.18 L346.00,291.49 L346.50,291.80 L347.00,292.10 L347.50,292.40 L348.00,292.69 L348.50,292.98 L349.00,293.26 L349.50,293.54 L350.00,293.82 L350.50,294.09 L351.00,294.36 L351.50,294.62 L352.00,294.88 L352.50,295.14 L353.00,295.39 L353.50,295.64 L354.00,295.89 L354.50,296.13 L355.00,296.37 L355.50,296.60 L356.00,296.83 L356.50,297.06 L357.00,297.29 L357.50,297.51 L358.00,297.73 L358.50,297.94 L359.00,298.16 L359.50,298.37 L360.00,298.58 L360.50,298.78 L361.00,298.98 L361.50,299.18 L362.00,299.38 L362.50,299.57 L363.00,299.76 L363.50,299.95 L364.00,300.14 L364.50,300.32 L365.00,300.50 L365.50,300.68 L366.00,300.86 L366.50,301.03 L367.00,301.20 L367.50,301.37 L368.00,301.54 L368.50,301.70 L369.00,301.86 L369.50,302.02 L370.00,302.18 L370.50,302.33 L371.00,302.49 L371.50,302.64 L372.00,302.78 L372.50,302.93 L373.00,303.07 L373.50,303.21 L374.00,303.35 L374.50,303.49 L375.00,303.62 L375.50,303.75 L376.00,303.88 L376.50,304.01 L377.00,304.14 L377.50,304.26 L378.00,304.38 L378.50,304.50 L379.00,304.62 L379.50,304.74 L380.00,304.85 L380.50,304.96 L381.00,305.07 L381.50,305.18 L382.00,305.29 L382.50,305.39 L383.00,305.50 L383.50,305.60 L384.00,305.70 L384.50,305.79 L385.00,305.89 L385.50,305.98 L386.00,306.07 L386.50,306.16 L387.00,306.25 L387.50,306.34 L388.00,306.43 L388.50,306.51 L389.00,306.59 L389.50,306.67 L390.00,306.75 L390.50,306.83 L391.00,306.91 L391.50,306.98 L392.00,307.05 L392.50,307.13 L393.00,307.20 L393.50,307.26 L394.00,307.33 L394.50,307.40 L395.00,307.46 L395.50,307.53 L396.00,307.59 L396.50,307.65 L397.00,307.71 L397.50,307.77 L398.00,307.82 L398.50,307.88 L399.00,307.93 L399.50,307.99 L400.00,308.04 L400.50,308.09 L401.00,308.14 L401.50,308.19 L402.00,308.24 L402.50,308.29 L403.00,308.33 L403.50,308.38 L404.00,308.42 L404.50,308.46 L405.00,308.51 L405.50,308.55 L406.00,308.59 L406.50,308.63 L407.00,308.67 L407.50,308.70 L408.00,308.74 L408.50,308.78 L409.00,308.81 L409.50,308.85 L410.00,308.88 L410.50,308.91 L411.00,308.94 L411.50,308.98 L412.00,309.01 L412.50,309.04 L413.00,309.07 L413.50,309.10 L414.00,309.13 L414.50,309.15 L415.00,309.18 L415.50,309.21 L416.00,309.23 L416.50,309.26 L417.00,309.28 L417.50,309.31 L418.00,309.33 L418.50,309.36 L419.00,309.38 L419.50,309.41 L420.00,309.43 L420.50,309.45 L421.00,309.47 L421.50,309.50 L422.00,309.52 L422.50,309.54 L423.00,309.56 L423.50,309.58 L424.00,309.60 L424.50,309.62 L425.00,309.65 L425.50,309.67 L426.00,309.69 L426.50,309.71 L427.00,309.73 L427.50,309.75 L428.00,309.77 L428.50,309.79 L429.00,309.81 L429.50,309.83 L430.00,309.85 L430.50,309.87 L431.00,309.89 L431.50,309.91 L432.00,309.93 L432.50,309.95 L433.00,309.97 L433.50,310.00 L434.00,310.02 L434.50,310.04 L435.00,310.06 L435.50,310.08 L436.00,310.11 L436.50,310.13 L437.00,310.15 L437.50,310.18 L438.00,310.20 L438.50,310.23 L439.00,310.25 L439.50,310.28 L440.00,310.30 L440.50,310.33 L441.00,310.36 L441.50,310.38 L442.00,310.41 L442.50,310.44 L443.00,310.47 L443.50,310.50 L444.00,310.53 L444.50,310.56 L445.00,310.59 L445.50,310.62 L446.00,310.66 L446.50,310.69 L447.00,310.73 L447.50,310.76 L448.00,310.80 L448.50,310.83 L449.00,310.87 L449.50,310.91 L450.00,310.95 L450.50,310.99 L451.00,311.03 L451.50,311.07 L452.00,311.12 L452.50,311.16 L453.00,311.20 L453.50,311.25 L454.00,311.30 L454.50,311.35 L455.00,311.39" fill="none" stroke="#0000cd" stroke-width="1.1" stroke-linejoin="round" stroke-linecap="round" clip-path="url(#clipe)"/>
<g clip-path="url(#clipe)">
<path d="M277.20,283.50 V299.90 M275.90,283.50 H278.50 M275.90,299.90 H278.50" stroke="#0000cd" stroke-width="0.75" fill="none"/>
<path d="M279.30,283.50 V298.00 M278.00,283.50 H280.60 M278.00,298.00 H280.60" stroke="#0000cd" stroke-width="0.75" fill="none"/>
<path d="M281.30,275.90 V292.30 M280.00,275.90 H282.60 M280.00,292.30 H282.60" stroke="#0000cd" stroke-width="0.75" fill="none"/>
<path d="M282.60,260.80 V286.40 M281.30,260.80 H283.90 M281.30,286.40 H283.90" stroke="#0000cd" stroke-width="0.75" fill="none"/>
<path d="M284.60,238.00 V273.60 M283.30,238.00 H285.90 M283.30,273.60 H285.90" stroke="#0000cd" stroke-width="0.75" fill="none"/>
<path d="M288.10,227.50 V274.20 M286.80,227.50 H289.40 M286.80,274.20 H289.40" stroke="#0000cd" stroke-width="0.75" fill="none"/>
<path d="M291.90,220.30 V259.00 M290.60,220.30 H293.20 M290.60,259.00 H293.20" stroke="#0000cd" stroke-width="0.75" fill="none"/>
<path d="M295.20,222.00 V253.40 M293.90,222.00 H296.50 M293.90,253.40 H296.50" stroke="#0000cd" stroke-width="0.75" fill="none"/>
<path d="M298.90,216.10 V247.60 M297.60,216.10 H300.20 M297.60,247.60 H300.20" stroke="#0000cd" stroke-width="0.75" fill="none"/>
<path d="M306.00,217.20 V255.30 M304.70,217.20 H307.30 M304.70,255.30 H307.30" stroke="#0000cd" stroke-width="0.75" fill="none"/>
<path d="M320.30,232.40 V258.30 M319.00,232.40 H321.60 M319.00,258.30 H321.60" stroke="#0000cd" stroke-width="0.75" fill="none"/>
<path d="M334.40,263.40 V282.50 M333.10,263.40 H335.70 M333.10,282.50 H335.70" stroke="#0000cd" stroke-width="0.75" fill="none"/>
<path d="M348.70,282.50 V295.20 M347.40,282.50 H350.00 M347.40,295.20 H350.00" stroke="#0000cd" stroke-width="0.75" fill="none"/>
<path d="M363.10,290.50 V301.20 M361.80,290.50 H364.40 M361.80,301.20 H364.40" stroke="#0000cd" stroke-width="0.75" fill="none"/>
<path d="M277.20,290.25 L280.05,294.95 L274.35,294.95 Z" fill="#0000cd"/>
<path d="M279.30,289.95 L282.15,294.65 L276.45,294.65 Z" fill="#0000cd"/>
<path d="M281.30,280.05 L284.15,284.75 L278.45,284.75 Z" fill="#0000cd"/>
<path d="M282.60,269.75 L285.45,274.45 L279.75,274.45 Z" fill="#0000cd"/>
<path d="M284.60,259.95 L287.45,264.65 L281.75,264.65 Z" fill="#0000cd"/>
<path d="M288.10,248.45 L290.95,253.15 L285.25,253.15 Z" fill="#0000cd"/>
<path d="M291.90,236.25 L294.75,240.95 L289.05,240.95 Z" fill="#0000cd"/>
<path d="M295.20,234.75 L298.05,239.45 L292.35,239.45 Z" fill="#0000cd"/>
<path d="M298.90,229.25 L301.75,233.95 L296.05,233.95 Z" fill="#0000cd"/>
<path d="M306.00,233.55 L308.85,238.25 L303.15,238.25 Z" fill="#0000cd"/>
<path d="M320.30,242.65 L323.15,247.35 L317.45,247.35 Z" fill="#0000cd"/>
<path d="M334.40,270.95 L337.25,275.65 L331.55,275.65 Z" fill="#0000cd"/>
<path d="M348.70,285.95 L351.55,290.65 L345.85,290.65 Z" fill="#0000cd"/>
<path d="M363.10,293.25 L365.95,297.95 L360.25,297.95 Z" fill="#0000cd"/>
</g>
<path d="M261.65,191.60 V315.25 H454.60" stroke="#4d4d4d" stroke-width="1" fill="none"/>
<path d="M275.50,315.25 V318.05" stroke="#7f7f7f" stroke-width="0.6"/>
<text x="275.50" y="326.55" text-anchor="middle" font-size="10.8" stroke="#000" stroke-width="0.15">72</text>
<path d="M318.28,315.25 V318.05" stroke="#7f7f7f" stroke-width="0.6"/>
<text x="318.28" y="326.55" text-anchor="middle" font-size="10.8" stroke="#000" stroke-width="0.15">78</text>
<path d="M361.06,315.25 V318.05" stroke="#7f7f7f" stroke-width="0.6"/>
<text x="361.06" y="326.55" text-anchor="middle" font-size="10.8" stroke="#000" stroke-width="0.15">84</text>
<path d="M403.84,315.25 V318.05" stroke="#7f7f7f" stroke-width="0.6"/>
<text x="403.84" y="326.55" text-anchor="middle" font-size="10.8" stroke="#000" stroke-width="0.15">90</text>
<path d="M446.62,315.25 V318.05" stroke="#7f7f7f" stroke-width="0.6"/>
<text x="446.62" y="326.55" text-anchor="middle" font-size="10.8" stroke="#000" stroke-width="0.15">96</text>
<path d="M259.05,315.25 H261.65" stroke="#7f7f7f" stroke-width="0.8"/>
<text x="258.05" y="319.15" text-anchor="end" font-size="10.8" stroke="#000" stroke-width="0.15">0</text>
<path d="M259.05,296.19 H261.65" stroke="#7f7f7f" stroke-width="0.8"/>
<text x="258.05" y="300.09" text-anchor="end" font-size="10.8" stroke="#000" stroke-width="0.15">0.2</text>
<path d="M259.05,277.13 H261.65" stroke="#7f7f7f" stroke-width="0.8"/>
<text x="258.05" y="281.03" text-anchor="end" font-size="10.8" stroke="#000" stroke-width="0.15">0.4</text>
<path d="M259.05,258.08 H261.65" stroke="#7f7f7f" stroke-width="0.8"/>
<text x="258.05" y="261.98" text-anchor="end" font-size="10.8" stroke="#000" stroke-width="0.15">0.6</text>
<path d="M259.05,239.02 H261.65" stroke="#7f7f7f" stroke-width="0.8"/>
<text x="258.05" y="242.92" text-anchor="end" font-size="10.8" stroke="#000" stroke-width="0.15">0.8</text>
<path d="M259.05,219.96 H261.65" stroke="#7f7f7f" stroke-width="0.8"/>
<text x="258.05" y="223.86" text-anchor="end" font-size="10.8" stroke="#000" stroke-width="0.15">1</text>
<path d="M259.05,200.90 H261.65" stroke="#7f7f7f" stroke-width="0.8"/>
<text x="258.05" y="204.80" text-anchor="end" font-size="10.8" stroke="#000" stroke-width="0.15">1.2</text>
<text x="261.15" y="185.10" font-size="16" font-weight="bold">e</text>
<text x="284.75" y="185.10" font-size="12.7">Metformin − 500 mg po, bid</text>
<path d="M385.94,198.31 L389.08,203.49 L382.81,203.49 Z" fill="#0000cd"/>
<text x="395.84" y="204.50" font-size="8.7" stroke="#000" stroke-width="0.25">Di Cicco 2000</text>
<text x="395.84" y="214.20" font-size="8.7" stroke="#000" stroke-width="0.25">n = 16</text>
<clipPath id="clipf"><rect x="491.70" y="185.30" width="191.80" height="129.95"/></clipPath>
<path d="M492.10,315.20 C492.67,312.67 494.48,305.87 495.50,300.00 C496.52,294.13 497.17,288.33 498.20,280.00 C499.23,271.67 500.68,258.98 501.70,250.00 C502.72,241.02 503.33,232.42 504.30,226.10 C505.27,219.78 506.33,215.73 507.50,212.10 C508.67,208.47 510.02,204.55 511.30,204.30 C512.58,204.05 513.77,207.22 515.20,210.60 C516.63,213.98 518.47,220.72 519.90,224.60 C521.33,228.48 522.37,229.75 523.80,233.90 C525.23,238.05 527.22,245.23 528.50,249.50 C529.78,253.77 530.48,256.80 531.50,259.50 C532.52,262.20 533.27,263.45 534.60,265.70 C535.93,267.95 537.55,270.90 539.50,273.00 C541.45,275.10 544.20,276.43 546.30,278.30 C548.40,280.17 550.65,282.83 552.10,284.20 C553.55,285.57 553.30,285.27 555.00,286.50 C556.70,287.73 559.87,289.90 562.30,291.60 C564.73,293.30 567.17,295.37 569.60,296.70 C572.03,298.03 574.47,298.68 576.90,299.60 C579.33,300.52 581.77,301.45 584.20,302.20 C586.63,302.95 589.07,303.50 591.50,304.10 C593.93,304.70 595.05,305.10 598.80,305.80 C602.55,306.50 605.47,307.13 614.00,308.30 C622.53,309.47 638.33,311.80 650.00,312.80 C661.67,313.80 678.33,314.05 684.00,314.30 L684.00,315.00 C675.00,314.92 643.17,314.73 630.00,314.50 C616.83,314.27 611.42,313.92 605.00,313.60 C598.58,313.28 594.97,312.93 591.50,312.60 C588.03,312.27 586.63,312.00 584.20,311.60 C581.77,311.20 579.33,310.73 576.90,310.20 C574.47,309.67 572.03,309.07 569.60,308.40 C567.17,307.73 564.73,307.07 562.30,306.20 C559.87,305.33 558.00,304.28 555.00,303.20 C552.00,302.12 547.70,300.92 544.30,299.70 C540.90,298.48 537.35,297.35 534.60,295.90 C531.85,294.45 529.42,292.23 527.80,291.00 C526.18,289.77 526.20,289.15 524.90,288.50 C523.60,287.85 521.50,287.50 520.00,287.10 C518.50,286.70 517.83,285.82 515.90,286.10 C513.97,286.38 510.32,287.32 508.40,288.80 C506.48,290.28 505.65,291.93 504.40,295.00 C503.15,298.07 502.30,304.37 500.90,307.20 C499.50,310.03 497.47,310.67 496.00,312.00 C494.53,313.33 492.75,314.67 492.10,315.20 Z" fill="#e1e1f8" clip-path="url(#clipf)"/>
<path d="M492.10,315.07 L492.60,315.00 L493.10,314.55 L493.60,313.73 L494.10,312.57 L494.60,311.09 L495.10,309.29 L495.60,307.22 L496.10,304.87 L496.60,302.27 L497.10,299.46 L497.60,296.47 L498.10,293.34 L498.60,290.11 L499.10,286.81 L499.60,283.49 L500.10,280.19 L500.60,276.93 L501.10,273.77 L501.60,270.73 L502.10,267.85 L502.60,265.18 L503.10,262.73 L503.60,260.48 L504.10,258.42 L504.60,256.56 L505.10,254.88 L505.60,253.38 L506.10,252.04 L506.60,250.86 L507.10,249.82 L507.60,248.94 L508.10,248.18 L508.60,247.55 L509.10,247.05 L509.60,246.65 L510.10,246.35 L510.60,246.15 L511.10,246.03 L511.60,246.00 L512.10,246.03 L512.60,246.13 L513.10,246.28 L513.60,246.49 L514.10,246.76 L514.60,247.08 L515.10,247.44 L515.60,247.85 L516.10,248.31 L516.60,248.80 L517.10,249.33 L517.60,249.89 L518.10,250.48 L518.60,251.10 L519.10,251.75 L519.60,252.42 L520.10,253.10 L520.60,253.80 L521.10,254.52 L521.60,255.24 L522.10,255.98 L522.60,256.73 L523.10,257.48 L523.60,258.24 L524.10,259.01 L524.60,259.78 L525.10,260.56 L525.60,261.34 L526.10,262.13 L526.60,262.91 L527.10,263.70 L527.60,264.49 L528.10,265.28 L528.60,266.07 L529.10,266.86 L529.60,267.64 L530.10,268.42 L530.60,269.20 L531.10,269.97 L531.60,270.74 L532.10,271.50 L532.60,272.25 L533.10,272.99 L533.60,273.73 L534.10,274.45 L534.60,275.17 L535.10,275.87 L535.60,276.56 L536.10,277.24 L536.60,277.90 L537.10,278.56 L537.60,279.20 L538.10,279.84 L538.60,280.46 L539.10,281.07 L539.60,281.68 L540.10,282.27 L540.60,282.85 L541.10,283.42 L541.60,283.98 L542.10,284.53 L542.60,285.07 L543.10,285.60 L543.60,286.12 L544.10,286.63 L544.60,287.14 L545.10,287.63 L545.60,288.11 L546.10,288.59 L546.60,289.05 L547.10,289.51 L547.60,289.96 L548.10,290.39 L548.60,290.82 L549.10,291.25 L549.60,291.66 L550.10,292.07 L550.60,292.47 L551.10,292.86 L551.60,293.24 L552.10,293.61 L552.60,293.98 L553.10,294.34 L553.60,294.69 L554.10,295.04 L554.60,295.37 L555.10,295.71 L555.60,296.03 L556.10,296.35 L556.60,296.66 L557.10,296.96 L557.60,297.26 L558.10,297.55 L558.60,297.84 L559.10,298.12 L559.60,298.39 L560.10,298.66 L560.60,298.92 L561.10,299.18 L561.60,299.43 L562.10,299.68 L562.60,299.92 L563.10,300.16 L563.60,300.39 L564.10,300.61 L564.60,300.83 L565.10,301.05 L565.60,301.26 L566.10,301.47 L566.60,301.68 L567.10,301.88 L567.60,302.07 L568.10,302.27 L568.60,302.45 L569.10,302.64 L569.60,302.82 L570.10,303.00 L570.60,303.17 L571.10,303.35 L571.60,303.51 L572.10,303.68 L572.60,303.84 L573.10,304.00 L573.60,304.16 L574.10,304.32 L574.60,304.47 L575.10,304.62 L575.60,304.77 L576.10,304.92 L576.60,305.06 L577.10,305.20 L577.60,305.35 L578.10,305.49 L578.60,305.62 L579.10,305.76 L579.60,305.90 L580.10,306.03 L580.60,306.16 L581.10,306.29 L581.60,306.42 L582.10,306.55 L582.60,306.67 L583.10,306.80 L583.60,306.92 L584.10,307.04 L584.60,307.16 L585.10,307.28 L585.60,307.40 L586.10,307.51 L586.60,307.63 L587.10,307.74 L587.60,307.85 L588.10,307.96 L588.60,308.07 L589.10,308.18 L589.60,308.28 L590.10,308.38 L590.60,308.49 L591.10,308.59 L591.60,308.69 L592.10,308.79 L592.60,308.88 L593.10,308.98 L593.60,309.07 L594.10,309.17 L594.60,309.26 L595.10,309.35 L595.60,309.44 L596.10,309.53 L596.60,309.61 L597.10,309.70 L597.60,309.78 L598.10,309.87 L598.60,309.95 L599.10,310.03 L599.60,310.11 L600.10,310.19 L600.60,310.27 L601.10,310.34 L601.60,310.42 L602.10,310.49 L602.60,310.56 L603.10,310.63 L603.60,310.70 L604.10,310.77 L604.60,310.84 L605.10,310.91 L605.60,310.97 L606.10,311.04 L606.60,311.10 L607.10,311.17 L607.60,311.23 L608.10,311.29 L608.60,311.35 L609.10,311.41 L609.60,311.46 L610.10,311.52 L610.60,311.58 L611.10,311.63 L611.60,311.68 L612.10,311.74 L612.60,311.79 L613.10,311.84 L613.60,311.89 L614.10,311.94 L614.60,311.99 L615.10,312.03 L615.60,312.08 L616.10,312.12 L616.60,312.17 L617.10,312.21 L617.60,312.26 L618.10,312.30 L618.60,312.34 L619.10,312.38 L619.60,312.42 L620.10,312.46 L620.60,312.50 L621.10,312.53 L621.60,312.57 L622.10,312.60 L622.60,312.64 L623.10,312.67 L623.60,312.71 L624.10,312.74 L624.60,312.77 L625.10,312.80 L625.60,312.83 L626.10,312.86 L626.60,312.89 L627.10,312.92 L627.60,312.95 L628.10,312.98 L628.60,313.00 L629.10,313.03 L629.60,313.06 L630.10,313.08 L630.60,313.10 L631.10,313.13 L631.60,313.15 L632.10,313.17 L632.60,313.20 L633.10,313.22 L633.60,313.24 L634.10,313.26 L634.60,313.28 L635.10,313.30 L635.60,313.32 L636.10,313.34 L636.60,313.35 L637.10,313.37 L637.60,313.39 L638.10,313.40 L638.60,313.42 L639.10,313.44 L639.60,313.45 L640.10,313.47 L640.60,313.48 L641.10,313.50 L641.60,313.51 L642.10,313.52 L642.60,313.54 L643.10,313.55 L643.60,313.56 L644.10,313.57 L644.60,313.59 L645.10,313.60 L645.60,313.61 L646.10,313.62 L646.60,313.63 L647.10,313.64 L647.60,313.65 L648.10,313.66 L648.60,313.67 L649.10,313.68 L649.60,313.69 L650.10,313.70 L650.60,313.71 L651.10,313.71 L651.60,313.72 L652.10,313.73 L652.60,313.74 L653.10,313.75 L653.60,313.75 L654.10,313.76 L654.60,313.77 L655.10,313.78 L655.60,313.78 L656.10,313.79 L656.60,313.80 L657.10,313.81 L657.60,313.81 L658.10,313.82 L658.60,313.83 L659.10,313.83 L659.60,313.84 L660.10,313.85 L660.60,313.86 L661.10,313.86 L661.60,313.87 L662.10,313.88 L662.60,313.88 L663.10,313.89 L663.60,313.90 L664.10,313.91 L664.60,313.91 L665.10,313.92 L665.60,313.93 L666.10,313.94 L666.60,313.94 L667.10,313.95 L667.60,313.96 L668.10,313.97 L668.60,313.98 L669.10,313.98 L669.60,313.99 L670.10,314.00 L670.60,314.01 L671.10,314.02 L671.60,314.03 L672.10,314.04 L672.60,314.05 L673.10,314.06 L673.60,314.07 L674.10,314.08 L674.60,314.09 L675.10,314.10 L675.60,314.11 L676.10,314.13 L676.60,314.14 L677.10,314.15 L677.60,314.16 L678.10,314.18 L678.60,314.19 L679.10,314.20 L679.60,314.22 L680.10,314.23 L680.60,314.25 L681.10,314.26 L681.60,314.28 L682.10,314.30 L682.60,314.31 L683.10,314.33 L683.60,314.35 L684.00,314.36" fill="none" stroke="#0000cd" stroke-width="1.1" stroke-linejoin="round" stroke-linecap="round" clip-path="url(#clipf)"/>
<g clip-path="url(#clipf)">
<path d="M504.40,258.25 L507.25,262.95 L501.55,262.95 Z" fill="#0000cd"/>
<path d="M510.20,257.85 L513.05,262.55 L507.35,262.55 Z" fill="#0000cd"/>
<path d="M514.60,257.45 L517.45,262.15 L511.75,262.15 Z" fill="#0000cd"/>
<path d="M522.40,263.05 L525.25,267.75 L519.55,267.75 Z" fill="#0000cd"/>
<path d="M538.50,280.35 L541.35,285.05 L535.65,285.05 Z" fill="#0000cd"/>
<path d="M553.60,294.05 L556.45,298.75 L550.75,298.75 Z" fill="#0000cd"/>
<path d="M568.00,301.65 L570.85,306.35 L565.15,306.35 Z" fill="#0000cd"/>
<path d="M583.30,305.75 L586.15,310.45 L580.45,310.45 Z" fill="#0000cd"/>
<path d="M614.40,308.75 L617.25,313.45 L611.55,313.45 Z" fill="#0000cd"/>
<path d="M675.50,310.85 L678.35,315.55 L672.65,315.55 Z" fill="#0000cd"/>
</g>
<path d="M491.70,191.30 V315.25 H683.50" stroke="#4d4d4d" stroke-width="1" fill="none"/>
<path d="M491.60,315.25 V318.05" stroke="#7f7f7f" stroke-width="0.6"/>
<text x="491.60" y="326.55" text-anchor="middle" font-size="10.8" stroke="#000" stroke-width="0.15">0</text>
<path d="M537.50,315.25 V318.05" stroke="#7f7f7f" stroke-width="0.6"/>
<text x="537.50" y="326.55" text-anchor="middle" font-size="10.8" stroke="#000" stroke-width="0.15">6</text>
<path d="M583.40,315.25 V318.05" stroke="#7f7f7f" stroke-width="0.6"/>
<text x="583.40" y="326.55" text-anchor="middle" font-size="10.8" stroke="#000" stroke-width="0.15">12</text>
<path d="M629.30,315.25 V318.05" stroke="#7f7f7f" stroke-width="0.6"/>
<text x="629.30" y="326.55" text-anchor="middle" font-size="10.8" stroke="#000" stroke-width="0.15">18</text>
<path d="M675.20,315.25 V318.05" stroke="#7f7f7f" stroke-width="0.6"/>
<text x="675.20" y="326.55" text-anchor="middle" font-size="10.8" stroke="#000" stroke-width="0.15">24</text>
<path d="M489.10,315.25 H491.70" stroke="#7f7f7f" stroke-width="0.8"/>
<text x="488.10" y="319.15" text-anchor="end" font-size="10.8" stroke="#000" stroke-width="0.15">0</text>
<path d="M489.10,294.59 H491.70" stroke="#7f7f7f" stroke-width="0.8"/>
<text x="488.10" y="298.49" text-anchor="end" font-size="10.8" stroke="#000" stroke-width="0.15">0.5</text>
<path d="M489.10,273.93 H491.70" stroke="#7f7f7f" stroke-width="0.8"/>
<text x="488.10" y="277.83" text-anchor="end" font-size="10.8" stroke="#000" stroke-width="0.15">1</text>
<path d="M489.10,253.27 H491.70" stroke="#7f7f7f" stroke-width="0.8"/>
<text x="488.10" y="257.17" text-anchor="end" font-size="10.8" stroke="#000" stroke-width="0.15">1.5</text>
<path d="M489.10,232.61 H491.70" stroke="#7f7f7f" stroke-width="0.8"/>
<text x="488.10" y="236.51" text-anchor="end" font-size="10.8" stroke="#000" stroke-width="0.15">2</text>
<path d="M489.10,211.95 H491.70" stroke="#7f7f7f" stroke-width="0.8"/>
<text x="488.10" y="215.85" text-anchor="end" font-size="10.8" stroke="#000" stroke-width="0.15">2.5</text>
<path d="M489.10,191.29 H491.70" stroke="#7f7f7f" stroke-width="0.8"/>
<text x="488.10" y="195.19" text-anchor="end" font-size="10.8" stroke="#000" stroke-width="0.15">3</text>
<text x="491.20" y="185.10" font-size="16" font-weight="bold">f</text>
<text x="511.23" y="185.10" font-size="12.7">Metformin − 850 mg po</text>
<path d="M617.73,198.02 L620.87,203.19 L614.60,203.19 Z" fill="#0000cd"/>
<text x="627.63" y="204.20" font-size="8.7" stroke="#000" stroke-width="0.25">Sambol 1995</text>
<text x="627.63" y="213.90" font-size="8.7" stroke="#000" stroke-width="0.25">n = 6</text>
<clipPath id="clipg"><rect x="39.40" y="356.30" width="186.30" height="130.10"/></clipPath>
<path d="M39.30,483.80 C41.70,483.83 50.75,485.47 53.70,484.00 C56.65,482.53 55.95,480.33 57.00,475.00 C58.05,469.67 59.20,459.17 60.00,452.00 C60.80,444.83 61.23,437.33 61.80,432.00 C62.37,426.67 62.97,423.85 63.40,420.00 C63.83,416.15 64.00,413.18 64.40,408.90 C64.80,404.62 65.32,398.67 65.80,394.30 C66.28,389.93 66.57,385.48 67.30,382.70 C68.03,379.92 68.98,377.28 70.20,377.60 C71.42,377.92 73.47,382.13 74.60,384.60 C75.73,387.07 76.18,390.13 77.00,392.40 C77.82,394.67 78.60,396.42 79.50,398.20 C80.40,399.98 81.43,400.98 82.40,403.10 C83.37,405.22 84.33,408.30 85.30,410.90 C86.27,413.50 86.97,415.88 88.20,418.70 C89.43,421.52 91.17,424.67 92.70,427.80 C94.23,430.93 96.02,434.47 97.40,437.50 C98.78,440.53 99.40,442.92 101.00,446.00 C102.60,449.08 104.37,452.72 107.00,456.00 C109.63,459.28 112.97,462.78 116.80,465.70 C120.63,468.62 126.75,471.92 130.00,473.50 C133.25,475.08 132.33,474.37 136.30,475.20 C140.27,476.03 146.52,477.37 153.80,478.50 C161.08,479.63 167.88,481.03 180.00,482.00 C192.12,482.97 218.75,483.92 226.50,484.30 L226.50,485.00 C215.42,484.80 175.03,484.30 160.00,483.80 C144.97,483.30 143.30,482.73 136.30,482.00 C129.30,481.27 122.57,480.30 118.00,479.40 C113.43,478.50 112.03,477.67 108.90,476.60 C105.77,475.53 102.43,474.48 99.20,473.00 C95.97,471.52 92.43,469.37 89.50,467.70 C86.57,466.03 84.05,464.13 81.60,463.00 C79.15,461.87 76.85,461.13 74.80,460.90 C72.75,460.67 70.88,460.92 69.30,461.60 C67.72,462.28 66.77,462.40 65.30,465.00 C63.83,467.60 62.13,473.95 60.50,477.20 C58.87,480.45 56.63,483.12 55.50,484.50 C54.37,485.88 56.40,485.33 53.70,485.50 C51.00,485.67 41.70,485.50 39.30,485.50 Z" fill="#e1e1f8" clip-path="url(#clipg)"/>
<path d="M39.30,484.70 L53.70,484.70 M53.70,484.73 L54.20,484.96 L54.70,484.44 L55.20,483.22 L55.70,481.41 L56.20,479.07 L56.70,476.28 L57.20,473.12 L57.70,469.68 L58.20,466.02 L58.70,462.23 L59.20,458.38 L59.70,454.56 L60.20,450.84 L60.70,447.30 L61.20,443.96 L61.70,440.87 L62.20,438.06 L62.70,435.54 L63.20,433.32 L63.70,431.35 L64.20,429.60 L64.70,428.05 L65.20,426.66 L65.70,425.42 L66.20,424.34 L66.70,423.39 L67.20,422.59 L67.70,421.92 L68.20,421.37 L68.70,420.94 L69.20,420.63 L69.70,420.43 L70.20,420.33 L70.70,420.33 L71.20,420.42 L71.70,420.60 L72.20,420.86 L72.70,421.20 L73.20,421.60 L73.70,422.07 L74.20,422.59 L74.70,423.17 L75.20,423.80 L75.70,424.46 L76.20,425.16 L76.70,425.90 L77.20,426.66 L77.70,427.45 L78.20,428.26 L78.70,429.10 L79.20,429.94 L79.70,430.81 L80.20,431.68 L80.70,432.56 L81.20,433.44 L81.70,434.32 L82.20,435.20 L82.70,436.07 L83.20,436.93 L83.70,437.78 L84.20,438.62 L84.70,439.44 L85.20,440.25 L85.70,441.05 L86.20,441.83 L86.70,442.60 L87.20,443.36 L87.70,444.10 L88.20,444.84 L88.70,445.56 L89.20,446.27 L89.70,446.96 L90.20,447.65 L90.70,448.32 L91.20,448.99 L91.70,449.64 L92.20,450.28 L92.70,450.91 L93.20,451.52 L93.70,452.13 L94.20,452.73 L94.70,453.31 L95.20,453.89 L95.70,454.45 L96.20,455.01 L96.70,455.55 L97.20,456.09 L97.70,456.61 L98.20,457.13 L98.70,457.64 L99.20,458.13 L99.70,458.62 L100.20,459.10 L100.70,459.57 L101.20,460.03 L101.70,460.49 L102.20,460.93 L102.70,461.37 L103.20,461.80 L103.70,462.22 L104.20,462.63 L104.70,463.04 L105.20,463.43 L105.70,463.83 L106.20,464.21 L106.70,464.58 L107.20,464.95 L107.70,465.31 L108.20,465.67 L108.70,466.02 L109.20,466.36 L109.70,466.70 L110.20,467.03 L110.70,467.35 L111.20,467.67 L111.70,467.98 L112.20,468.29 L112.70,468.59 L113.20,468.89 L113.70,469.18 L114.20,469.46 L114.70,469.74 L115.20,470.02 L115.70,470.29 L116.20,470.56 L116.70,470.82 L117.20,471.08 L117.70,471.33 L118.20,471.59 L118.70,471.83 L119.20,472.08 L119.70,472.32 L120.20,472.55 L120.70,472.79 L121.20,473.01 L121.70,473.24 L122.20,473.46 L122.70,473.68 L123.20,473.90 L123.70,474.11 L124.20,474.32 L124.70,474.53 L125.20,474.73 L125.70,474.93 L126.20,475.12 L126.70,475.32 L127.20,475.51 L127.70,475.69 L128.20,475.88 L128.70,476.06 L129.20,476.23 L129.70,476.41 L130.20,476.58 L130.70,476.75 L131.20,476.91 L131.70,477.08 L132.20,477.23 L132.70,477.39 L133.20,477.55 L133.70,477.70 L134.20,477.84 L134.70,477.99 L135.20,478.13 L135.70,478.27 L136.20,478.41 L136.70,478.54 L137.20,478.67 L137.70,478.80 L138.20,478.93 L138.70,479.05 L139.20,479.18 L139.70,479.29 L140.20,479.41 L140.70,479.52 L141.20,479.64 L141.70,479.75 L142.20,479.85 L142.70,479.96 L143.20,480.06 L143.70,480.16 L144.20,480.25 L144.70,480.35 L145.20,480.44 L145.70,480.53 L146.20,480.62 L146.70,480.71 L147.20,480.79 L147.70,480.87 L148.20,480.95 L148.70,481.03 L149.20,481.11 L149.70,481.18 L150.20,481.25 L150.70,481.32 L151.20,481.39 L151.70,481.46 L152.20,481.52 L152.70,481.58 L153.20,481.64 L153.70,481.70 L154.20,481.76 L154.70,481.81 L155.20,481.86 L155.70,481.92 L156.20,481.97 L156.70,482.01 L157.20,482.06 L157.70,482.11 L158.20,482.15 L158.70,482.19 L159.20,482.23 L159.70,482.27 L160.20,482.31 L160.70,482.34 L161.20,482.38 L161.70,482.41 L162.20,482.44 L162.70,482.47 L163.20,482.50 L163.70,482.53 L164.20,482.56 L164.70,482.58 L165.20,482.60 L165.70,482.63 L166.20,482.65 L166.70,482.67 L167.20,482.69 L167.70,482.71 L168.20,482.72 L168.70,482.74 L169.20,482.75 L169.70,482.77 L170.20,482.78 L170.70,482.79 L171.20,482.81 L171.70,482.82 L172.20,482.83 L172.70,482.83 L173.20,482.84 L173.70,482.85 L174.20,482.86 L174.70,482.86 L175.20,482.87 L175.70,482.87 L176.20,482.87 L176.70,482.88 L177.20,482.88 L177.70,482.88 L178.20,482.88 L178.70,482.88 L179.20,482.88 L179.70,482.88 L180.20,482.88 L180.70,482.88 L181.20,482.88 L181.70,482.88 L182.20,482.87 L182.70,482.87 L183.20,482.87 L183.70,482.87 L184.20,482.86 L184.70,482.86 L185.20,482.85 L185.70,482.85 L186.20,482.85 L186.70,482.84 L187.20,482.84 L187.70,482.83 L188.20,482.83 L188.70,482.82 L189.20,482.82 L189.70,482.82 L190.20,482.81 L190.70,482.81 L191.20,482.80 L191.70,482.80 L192.20,482.79 L192.70,482.79 L193.20,482.79 L193.70,482.78 L194.20,482.78 L194.70,482.78 L195.20,482.78 L195.70,482.77 L196.20,482.77 L196.70,482.77 L197.20,482.77 L197.70,482.77 L198.20,482.77 L198.70,482.77 L199.20,482.77 L199.70,482.77 L200.20,482.78 L200.70,482.78 L201.20,482.78 L201.70,482.79 L202.20,482.79 L202.70,482.80 L203.20,482.80 L203.70,482.81 L204.20,482.82 L204.70,482.83 L205.20,482.83 L205.70,482.84 L206.20,482.86 L206.70,482.87 L207.20,482.88 L207.70,482.89 L208.20,482.91 L208.70,482.93 L209.20,482.94 L209.70,482.96 L210.20,482.98 L210.70,483.00 L211.20,483.02 L211.70,483.04 L212.20,483.07 L212.70,483.09 L213.20,483.12 L213.70,483.15 L214.20,483.17 L214.70,483.20 L215.20,483.24 L215.70,483.27 L216.20,483.30 L216.70,483.34 L217.20,483.37 L217.70,483.41 L218.20,483.45 L218.70,483.49 L219.20,483.54 L219.70,483.58 L220.20,483.63 L220.70,483.68 L221.20,483.73 L221.70,483.78 L222.20,483.83 L222.70,483.88 L223.20,483.94 L223.70,484.00 L224.20,484.06 L224.70,484.12 L225.20,484.18 L225.70,484.25 L226.20,484.32 L226.50,484.36" fill="none" stroke="#0000cd" stroke-width="1.1" stroke-linejoin="round" stroke-linecap="round" clip-path="url(#clipg)"/>
<g clip-path="url(#clipg)">
<path d="M63.60,414.30 V451.10 M62.30,414.30 H64.90 M62.30,451.10 H64.90" stroke="#0000cd" stroke-width="0.75" fill="none"/>
<path d="M67.40,403.20 V443.60 M66.10,403.20 H68.70 M66.10,443.60 H68.70" stroke="#0000cd" stroke-width="0.75" fill="none"/>
<path d="M74.20,390.10 V437.30 M72.90,390.10 H75.50 M72.90,437.30 H75.50" stroke="#0000cd" stroke-width="0.75" fill="none"/>
<path d="M81.00,405.90 V442.30 M79.70,405.90 H82.30 M79.70,442.30 H82.30" stroke="#0000cd" stroke-width="0.75" fill="none"/>
<path d="M94.80,443.30 V464.50 M93.50,443.30 H96.10 M93.50,464.50 H96.10" stroke="#0000cd" stroke-width="0.75" fill="none"/>
<path d="M108.80,463.60 V474.20 M107.50,463.60 H110.10 M107.50,474.20 H110.10" stroke="#0000cd" stroke-width="0.75" fill="none"/>
<path d="M53.40,481.95 L56.25,486.65 L50.55,486.65 Z" fill="#0000cd"/>
<path d="M57.10,454.45 L59.95,459.15 L54.25,459.15 Z" fill="#0000cd"/>
<path d="M60.20,436.75 L63.05,441.45 L57.35,441.45 Z" fill="#0000cd"/>
<path d="M63.60,429.95 L66.45,434.65 L60.75,434.65 Z" fill="#0000cd"/>
<path d="M67.40,420.95 L70.25,425.65 L64.55,425.65 Z" fill="#0000cd"/>
<path d="M74.20,411.15 L77.05,415.85 L71.35,415.85 Z" fill="#0000cd"/>
<path d="M81.00,421.85 L83.85,426.55 L78.15,426.55 Z" fill="#0000cd"/>
<path d="M94.80,451.35 L97.65,456.05 L91.95,456.05 Z" fill="#0000cd"/>
<path d="M108.80,466.15 L111.65,470.85 L105.95,470.85 Z" fill="#0000cd"/>
<path d="M136.30,476.15 L139.15,480.85 L133.45,480.85 Z" fill="#0000cd"/>
<path d="M219.50,481.75 L222.35,486.45 L216.65,486.45 Z" fill="#0000cd"/>
</g>
<path d="M39.40,362.30 V486.40 H225.70" stroke="#4d4d4d" stroke-width="1" fill="none"/>
<path d="M53.60,486.40 V489.20" stroke="#7f7f7f" stroke-width="0.6"/>
<text x="53.60" y="497.70" text-anchor="middle" font-size="10.8" stroke="#000" stroke-width="0.15">72</text>
<path d="M94.94,486.40 V489.20" stroke="#7f7f7f" stroke-width="0.6"/>
<text x="94.94" y="497.70" text-anchor="middle" font-size="10.8" stroke="#000" stroke-width="0.15">78</text>
<path d="M136.28,486.40 V489.20" stroke="#7f7f7f" stroke-width="0.6"/>
<text x="136.28" y="497.70" text-anchor="middle" font-size="10.8" stroke="#000" stroke-width="0.15">84</text>
<path d="M177.62,486.40 V489.20" stroke="#7f7f7f" stroke-width="0.6"/>
<text x="177.62" y="497.70" text-anchor="middle" font-size="10.8" stroke="#000" stroke-width="0.15">90</text>
<path d="M218.96,486.40 V489.20" stroke="#7f7f7f" stroke-width="0.6"/>
<text x="218.96" y="497.70" text-anchor="middle" font-size="10.8" stroke="#000" stroke-width="0.15">96</text>
<path d="M36.80,486.40 H39.40" stroke="#7f7f7f" stroke-width="0.8"/>
<text x="35.80" y="490.30" text-anchor="end" font-size="10.8" stroke="#000" stroke-width="0.15">0</text>
<path d="M36.80,455.35 H39.40" stroke="#7f7f7f" stroke-width="0.8"/>
<text x="35.80" y="459.25" text-anchor="end" font-size="10.8" stroke="#000" stroke-width="0.15">1</text>
<path d="M36.80,424.30 H39.40" stroke="#7f7f7f" stroke-width="0.8"/>
<text x="35.80" y="428.20" text-anchor="end" font-size="10.8" stroke="#000" stroke-width="0.15">2</text>
<path d="M36.80,393.25 H39.40" stroke="#7f7f7f" stroke-width="0.8"/>
<text x="35.80" y="397.15" text-anchor="end" font-size="10.8" stroke="#000" stroke-width="0.15">3</text>
<path d="M36.80,362.20 H39.40" stroke="#7f7f7f" stroke-width="0.8"/>
<text x="35.80" y="366.10" text-anchor="end" font-size="10.8" stroke="#000" stroke-width="0.15">4</text>
<text x="38.90" y="356.60" font-size="16" font-weight="bold">g</text>
<text x="63.37" y="356.60" font-size="12.7">Metformin − 1000 mg po, qd</text>
<path d="M173.99,369.02 L177.12,374.19 L170.85,374.19 Z" fill="#0000cd"/>
<text x="183.89" y="375.20" font-size="8.7" stroke="#000" stroke-width="0.25">Gan 2016</text>
<text x="183.89" y="384.90" font-size="8.7" stroke="#000" stroke-width="0.25">n = 27</text>
<clipPath id="cliph"><rect x="260.00" y="357.00" width="194.80" height="129.40"/></clipPath>
<path d="M260.60,486.30 C261.17,484.58 262.75,482.05 264.00,476.00 C265.25,469.95 267.02,459.10 268.10,450.00 C269.18,440.90 269.58,429.55 270.50,421.40 C271.42,413.25 272.43,407.07 273.60,401.10 C274.77,395.13 276.22,389.48 277.50,385.60 C278.78,381.72 280.08,379.55 281.30,377.80 C282.52,376.05 283.53,374.65 284.80,375.10 C286.07,375.55 287.25,377.42 288.90,380.50 C290.55,383.58 292.75,388.82 294.70,393.60 C296.65,398.38 298.82,404.33 300.60,409.20 C302.38,414.07 303.62,418.27 305.40,422.80 C307.18,427.33 309.18,432.18 311.30,436.40 C313.42,440.62 316.20,445.50 318.10,448.10 C320.00,450.70 320.97,450.38 322.70,452.00 C324.43,453.62 326.17,455.85 328.50,457.80 C330.83,459.75 333.77,461.93 336.70,463.70 C339.63,465.47 342.60,466.95 346.10,468.40 C349.60,469.85 353.72,471.20 357.70,472.40 C361.68,473.60 365.53,474.52 370.00,475.60 C374.47,476.68 376.17,477.55 384.50,478.90 C392.83,480.25 408.17,482.60 420.00,483.70 C431.83,484.80 449.58,485.20 455.50,485.50 L455.50,486.20 C443.67,486.05 398.75,485.62 384.50,485.30 C370.25,484.98 374.08,484.60 370.00,484.30 C365.92,484.00 363.60,483.92 360.00,483.50 C356.40,483.08 352.28,482.47 348.40,481.80 C344.52,481.13 340.20,480.28 336.70,479.50 C333.20,478.72 330.32,477.98 327.40,477.10 C324.48,476.22 321.93,475.30 319.20,474.20 C316.47,473.10 313.53,471.67 311.00,470.50 C308.47,469.33 306.33,468.33 304.00,467.20 C301.67,466.07 299.33,464.77 297.00,463.70 C294.67,462.63 291.90,461.65 290.00,460.80 C288.10,459.95 287.05,459.18 285.60,458.60 C284.15,458.02 282.53,457.38 281.30,457.30 C280.07,457.22 279.08,457.52 278.20,458.10 C277.32,458.68 276.95,459.05 276.00,460.80 C275.05,462.55 273.82,465.82 272.50,468.60 C271.18,471.38 269.35,475.27 268.10,477.50 C266.85,479.73 266.02,480.58 265.00,482.00 C263.98,483.42 262.73,485.27 262.00,486.00 C261.27,486.73 260.83,486.33 260.60,486.40 Z" fill="#e1e1f8" clip-path="url(#cliph)"/>
<path d="M260.60,486.23 L261.10,486.38 L261.60,486.15 L262.10,485.54 L262.60,484.59 L263.10,483.33 L263.60,481.78 L264.10,479.97 L264.60,477.93 L265.10,475.68 L265.60,473.25 L266.10,470.68 L266.60,467.98 L267.10,465.19 L267.60,462.32 L268.10,459.42 L268.60,456.50 L269.10,453.60 L269.60,450.73 L270.10,447.94 L270.60,445.24 L271.10,442.66 L271.60,440.23 L272.10,437.94 L272.60,435.80 L273.10,433.80 L273.60,431.94 L274.10,430.21 L274.60,428.61 L275.10,427.15 L275.60,425.81 L276.10,424.59 L276.60,423.49 L277.10,422.51 L277.60,421.64 L278.10,420.89 L278.60,420.24 L279.10,419.70 L279.60,419.26 L280.10,418.91 L280.60,418.67 L281.10,418.51 L281.60,418.44 L282.10,418.44 L282.60,418.53 L283.10,418.68 L283.60,418.90 L284.10,419.17 L284.60,419.50 L285.10,419.89 L285.60,420.31 L286.10,420.78 L286.60,421.27 L287.10,421.80 L287.60,422.35 L288.10,422.93 L288.60,423.51 L289.10,424.10 L289.60,424.70 L290.10,425.30 L290.60,425.89 L291.10,426.48 L291.60,427.06 L292.10,427.64 L292.60,428.23 L293.10,428.81 L293.60,429.39 L294.10,429.98 L294.60,430.58 L295.10,431.18 L295.60,431.79 L296.10,432.41 L296.60,433.04 L297.10,433.68 L297.60,434.34 L298.10,435.01 L298.60,435.70 L299.10,436.41 L299.60,437.13 L300.10,437.86 L300.60,438.60 L301.10,439.35 L301.60,440.10 L302.10,440.86 L302.60,441.62 L303.10,442.39 L303.60,443.15 L304.10,443.92 L304.60,444.68 L305.10,445.43 L305.60,446.18 L306.10,446.92 L306.60,447.65 L307.10,448.36 L307.60,449.07 L308.10,449.76 L308.60,450.43 L309.10,451.08 L309.60,451.72 L310.10,452.34 L310.60,452.95 L311.10,453.54 L311.60,454.11 L312.10,454.67 L312.60,455.21 L313.10,455.74 L313.60,456.25 L314.10,456.75 L314.60,457.24 L315.10,457.71 L315.60,458.17 L316.10,458.62 L316.60,459.06 L317.10,459.48 L317.60,459.90 L318.10,460.30 L318.60,460.70 L319.10,461.08 L319.60,461.46 L320.10,461.82 L320.60,462.18 L321.10,462.53 L321.60,462.87 L322.10,463.20 L322.60,463.53 L323.10,463.85 L323.60,464.16 L324.10,464.47 L324.60,464.77 L325.10,465.06 L325.60,465.35 L326.10,465.64 L326.60,465.92 L327.10,466.20 L327.60,466.48 L328.10,466.75 L328.60,467.02 L329.10,467.29 L329.60,467.55 L330.10,467.81 L330.60,468.07 L331.10,468.33 L331.60,468.58 L332.10,468.83 L332.60,469.07 L333.10,469.32 L333.60,469.56 L334.10,469.80 L334.60,470.03 L335.10,470.26 L335.60,470.49 L336.10,470.72 L336.60,470.94 L337.10,471.16 L337.60,471.38 L338.10,471.60 L338.60,471.81 L339.10,472.02 L339.60,472.23 L340.10,472.44 L340.60,472.64 L341.10,472.84 L341.60,473.04 L342.10,473.23 L342.60,473.42 L343.10,473.61 L343.60,473.80 L344.10,473.99 L344.60,474.17 L345.10,474.35 L345.60,474.53 L346.10,474.70 L346.60,474.87 L347.10,475.04 L347.60,475.21 L348.10,475.38 L348.60,475.54 L349.10,475.70 L349.60,475.86 L350.10,476.02 L350.60,476.17 L351.10,476.32 L351.60,476.47 L352.10,476.62 L352.60,476.77 L353.10,476.91 L353.60,477.05 L354.10,477.19 L354.60,477.33 L355.10,477.46 L355.60,477.59 L356.10,477.72 L356.60,477.85 L357.10,477.98 L357.60,478.10 L358.10,478.23 L358.60,478.35 L359.10,478.46 L359.60,478.58 L360.10,478.70 L360.60,478.81 L361.10,478.92 L361.60,479.03 L362.10,479.14 L362.60,479.24 L363.10,479.34 L363.60,479.45 L364.10,479.55 L364.60,479.64 L365.10,479.74 L365.60,479.83 L366.10,479.93 L366.60,480.02 L367.10,480.11 L367.60,480.20 L368.10,480.28 L368.60,480.37 L369.10,480.45 L369.60,480.53 L370.10,480.61 L370.60,480.69 L371.10,480.76 L371.60,480.84 L372.10,480.91 L372.60,480.99 L373.10,481.06 L373.60,481.12 L374.10,481.19 L374.60,481.26 L375.10,481.32 L375.60,481.39 L376.10,481.45 L376.60,481.51 L377.10,481.57 L377.60,481.63 L378.10,481.68 L378.60,481.74 L379.10,481.79 L379.60,481.85 L380.10,481.90 L380.60,481.95 L381.10,482.00 L381.60,482.05 L382.10,482.09 L382.60,482.14 L383.10,482.18 L383.60,482.23 L384.10,482.27 L384.60,482.31 L385.10,482.35 L385.60,482.39 L386.10,482.43 L386.60,482.46 L387.10,482.50 L387.60,482.53 L388.10,482.57 L388.60,482.60 L389.10,482.63 L389.60,482.67 L390.10,482.70 L390.60,482.73 L391.10,482.75 L391.60,482.78 L392.10,482.81 L392.60,482.84 L393.10,482.86 L393.60,482.89 L394.10,482.91 L394.60,482.93 L395.10,482.96 L395.60,482.98 L396.10,483.00 L396.60,483.02 L397.10,483.04 L397.60,483.06 L398.10,483.08 L398.60,483.09 L399.10,483.11 L399.60,483.13 L400.10,483.14 L400.60,483.16 L401.10,483.17 L401.60,483.19 L402.10,483.20 L402.60,483.22 L403.10,483.23 L403.60,483.24 L404.10,483.26 L404.60,483.27 L405.10,483.28 L405.60,483.29 L406.10,483.30 L406.60,483.31 L407.10,483.32 L407.60,483.33 L408.10,483.34 L408.60,483.35 L409.10,483.36 L409.60,483.37 L410.10,483.38 L410.60,483.39 L411.10,483.40 L411.60,483.40 L412.10,483.41 L412.60,483.42 L413.10,483.43 L413.60,483.44 L414.10,483.44 L414.60,483.45 L415.10,483.46 L415.60,483.47 L416.10,483.48 L416.60,483.48 L417.10,483.49 L417.60,483.50 L418.10,483.51 L418.60,483.51 L419.10,483.52 L419.60,483.53 L420.10,483.54 L420.60,483.55 L421.10,483.56 L421.60,483.57 L422.10,483.57 L422.60,483.58 L423.10,483.59 L423.60,483.60 L424.10,483.61 L424.60,483.62 L425.10,483.63 L425.60,483.65 L426.10,483.66 L426.60,483.67 L427.10,483.68 L427.60,483.69 L428.10,483.71 L428.60,483.72 L429.10,483.73 L429.60,483.75 L430.10,483.76 L430.60,483.78 L431.10,483.79 L431.60,483.81 L432.10,483.83 L432.60,483.84 L433.10,483.86 L433.60,483.88 L434.10,483.90 L434.60,483.92 L435.10,483.94 L435.60,483.96 L436.10,483.98 L436.60,484.01 L437.10,484.03 L437.60,484.05 L438.10,484.08 L438.60,484.11 L439.10,484.13 L439.60,484.16 L440.10,484.19 L440.60,484.22 L441.10,484.25 L441.60,484.28 L442.10,484.31 L442.60,484.34 L443.10,484.37 L443.60,484.41 L444.10,484.44 L444.60,484.48 L445.10,484.52 L445.60,484.56 L446.10,484.60 L446.60,484.64 L447.10,484.68 L447.60,484.72 L448.10,484.76 L448.60,484.81 L449.10,484.85 L449.60,484.90 L450.10,484.95 L450.60,485.00 L451.10,485.05 L451.60,485.10 L452.10,485.16 L452.60,485.21 L453.10,485.27 L453.60,485.32 L454.10,485.38 L454.60,485.44 L455.10,485.50 L455.50,485.55" fill="none" stroke="#0000cd" stroke-width="1.1" stroke-linejoin="round" stroke-linecap="round" clip-path="url(#cliph)"/>
<g clip-path="url(#cliph)">
<circle cx="267.70" cy="445.60" r="2.30" fill="#0000cd"/>
<circle cx="271.60" cy="441.80" r="2.30" fill="#0000cd"/>
<circle cx="275.80" cy="438.00" r="2.30" fill="#0000cd"/>
<circle cx="279.60" cy="436.80" r="2.30" fill="#0000cd"/>
<circle cx="283.50" cy="435.20" r="2.30" fill="#0000cd"/>
<circle cx="290.70" cy="439.50" r="2.30" fill="#0000cd"/>
<circle cx="298.60" cy="447.70" r="2.30" fill="#0000cd"/>
<circle cx="306.40" cy="457.30" r="2.30" fill="#0000cd"/>
<circle cx="321.60" cy="469.50" r="2.30" fill="#0000cd"/>
<circle cx="338.30" cy="475.40" r="2.30" fill="#0000cd"/>
<circle cx="353.70" cy="479.90" r="2.30" fill="#0000cd"/>
<circle cx="384.50" cy="483.30" r="2.30" fill="#0000cd"/>
<circle cx="448.60" cy="485.00" r="2.30" fill="#0000cd"/>
</g>
<path d="M260.00,363.00 V486.40 H454.80" stroke="#4d4d4d" stroke-width="1" fill="none"/>
<path d="M260.60,486.40 V489.20" stroke="#7f7f7f" stroke-width="0.6"/>
<text x="260.60" y="497.70" text-anchor="middle" font-size="10.8" stroke="#000" stroke-width="0.15">0</text>
<path d="M307.00,486.40 V489.20" stroke="#7f7f7f" stroke-width="0.6"/>
<text x="307.00" y="497.70" text-anchor="middle" font-size="10.8" stroke="#000" stroke-width="0.15">6</text>
<path d="M353.40,486.40 V489.20" stroke="#7f7f7f" stroke-width="0.6"/>
<text x="353.40" y="497.70" text-anchor="middle" font-size="10.8" stroke="#000" stroke-width="0.15">12</text>
<path d="M399.79,486.40 V489.20" stroke="#7f7f7f" stroke-width="0.6"/>
<text x="399.79" y="497.70" text-anchor="middle" font-size="10.8" stroke="#000" stroke-width="0.15">18</text>
<path d="M446.19,486.40 V489.20" stroke="#7f7f7f" stroke-width="0.6"/>
<text x="446.19" y="497.70" text-anchor="middle" font-size="10.8" stroke="#000" stroke-width="0.15">24</text>
<path d="M257.40,486.40 H260.00" stroke="#7f7f7f" stroke-width="0.8"/>
<text x="256.40" y="490.30" text-anchor="end" font-size="10.8" stroke="#000" stroke-width="0.15">0</text>
<path d="M257.40,465.02 H260.00" stroke="#7f7f7f" stroke-width="0.8"/>
<text x="256.40" y="468.92" text-anchor="end" font-size="10.8" stroke="#000" stroke-width="0.15">1</text>
<path d="M257.40,443.64 H260.00" stroke="#7f7f7f" stroke-width="0.8"/>
<text x="256.40" y="447.54" text-anchor="end" font-size="10.8" stroke="#000" stroke-width="0.15">2</text>
<path d="M257.40,422.26 H260.00" stroke="#7f7f7f" stroke-width="0.8"/>
<text x="256.40" y="426.16" text-anchor="end" font-size="10.8" stroke="#000" stroke-width="0.15">3</text>
<path d="M257.40,400.88 H260.00" stroke="#7f7f7f" stroke-width="0.8"/>
<text x="256.40" y="404.78" text-anchor="end" font-size="10.8" stroke="#000" stroke-width="0.15">4</text>
<path d="M257.40,379.50 H260.00" stroke="#7f7f7f" stroke-width="0.8"/>
<text x="256.40" y="383.40" text-anchor="end" font-size="10.8" stroke="#000" stroke-width="0.15">5</text>
<text x="259.50" y="356.60" font-size="16" font-weight="bold">h</text>
<text x="283.97" y="356.60" font-size="12.7">Metformin − 1700 mg po</text>
<circle cx="384.20" cy="373.30" r="2.50" fill="#0000cd"/>
<text x="394.10" y="375.90" font-size="8.7" stroke="#000" stroke-width="0.25">Sambol 1996a</text>
<text x="394.10" y="385.60" font-size="8.7" stroke="#000" stroke-width="0.25">n = 9</text>
<clipPath id="clipi"><rect x="490.40" y="356.30" width="193.10" height="130.10"/></clipPath>
<path d="M490.40,486.30 C491.00,484.92 492.98,481.38 494.00,478.00 C495.02,474.62 495.80,469.83 496.50,466.00 C497.20,462.17 497.75,459.48 498.20,455.00 C498.65,450.52 498.87,443.38 499.20,439.10 C499.53,434.82 499.80,433.37 500.20,429.30 C500.60,425.23 501.03,419.42 501.60,414.70 C502.17,409.98 502.75,405.65 503.60,401.00 C504.45,396.35 505.80,390.08 506.70,386.80 C507.60,383.52 508.10,383.12 509.00,381.30 C509.90,379.48 510.98,377.07 512.10,375.90 C513.22,374.73 514.53,373.65 515.70,374.30 C516.87,374.95 517.60,376.58 519.10,379.80 C520.60,383.02 522.78,388.70 524.70,393.60 C526.62,398.50 528.82,404.55 530.60,409.20 C532.38,413.85 533.92,418.58 535.40,421.50 C536.88,424.42 538.02,425.03 539.50,426.70 C540.98,428.37 542.68,429.40 544.30,431.50 C545.92,433.60 547.57,436.87 549.20,439.30 C550.83,441.73 552.48,444.32 554.10,446.10 C555.72,447.88 557.50,448.35 558.90,450.00 C560.30,451.65 561.07,454.20 562.50,456.00 C563.93,457.80 565.68,459.37 567.50,460.80 C569.32,462.23 571.45,463.47 573.40,464.60 C575.35,465.73 577.27,466.67 579.20,467.60 C581.13,468.53 582.37,469.22 585.00,470.20 C587.63,471.18 590.25,472.20 595.00,473.50 C599.75,474.80 606.00,476.42 613.50,478.00 C621.00,479.58 628.25,481.75 640.00,483.00 C651.75,484.25 676.67,485.08 684.00,485.50 L684.00,486.00 C672.25,485.77 630.00,485.20 613.50,484.60 C597.00,484.00 591.20,483.05 585.00,482.40 C578.80,481.75 579.22,481.28 576.30,480.70 C573.38,480.12 570.42,479.53 567.50,478.90 C564.58,478.27 561.72,477.67 558.80,476.90 C555.88,476.13 552.43,475.28 550.00,474.30 C547.57,473.32 546.78,472.38 544.20,471.00 C541.62,469.62 538.65,467.67 534.50,466.00 C530.35,464.33 522.97,462.23 519.30,461.00 C515.63,459.77 514.53,458.62 512.50,458.60 C510.47,458.58 508.68,459.62 507.10,460.90 C505.52,462.18 504.37,464.03 503.00,466.30 C501.63,468.57 500.72,471.22 498.90,474.50 C497.08,477.78 493.52,484.03 492.10,486.00 C490.68,487.97 490.68,486.25 490.40,486.30 Z" fill="#e1e1f8" clip-path="url(#clipi)"/>
<path d="M490.40,485.90 L490.90,486.40 L491.40,486.58 L491.90,486.47 L492.40,486.07 L492.90,485.38 L493.40,484.42 L493.90,483.20 L494.40,481.72 L494.90,479.99 L495.40,478.02 L495.90,475.82 L496.40,473.39 L496.90,470.75 L497.40,467.90 L497.90,464.89 L498.40,461.75 L498.90,458.52 L499.40,455.24 L499.90,451.95 L500.40,448.69 L500.90,445.50 L501.40,442.41 L501.90,439.48 L502.40,436.72 L502.90,434.19 L503.40,431.90 L503.90,429.83 L504.40,427.96 L504.90,426.30 L505.40,424.83 L505.90,423.53 L506.40,422.40 L506.90,421.41 L507.40,420.57 L507.90,419.86 L508.40,419.27 L508.90,418.79 L509.40,418.40 L509.90,418.09 L510.40,417.85 L510.90,417.69 L511.40,417.58 L511.90,417.54 L512.40,417.55 L512.90,417.61 L513.40,417.73 L513.90,417.89 L514.40,418.10 L514.90,418.35 L515.40,418.63 L515.90,418.95 L516.40,419.30 L516.90,419.68 L517.40,420.08 L517.90,420.51 L518.40,420.97 L518.90,421.44 L519.40,421.94 L519.90,422.46 L520.40,422.99 L520.90,423.54 L521.40,424.11 L521.90,424.68 L522.40,425.27 L522.90,425.87 L523.40,426.47 L523.90,427.08 L524.40,427.70 L524.90,428.32 L525.40,428.94 L525.90,429.57 L526.40,430.20 L526.90,430.84 L527.40,431.47 L527.90,432.11 L528.40,432.75 L528.90,433.39 L529.40,434.04 L529.90,434.68 L530.40,435.32 L530.90,435.97 L531.40,436.61 L531.90,437.26 L532.40,437.90 L532.90,438.54 L533.40,439.18 L533.90,439.82 L534.40,440.46 L534.90,441.10 L535.40,441.73 L535.90,442.36 L536.40,442.98 L536.90,443.61 L537.40,444.22 L537.90,444.84 L538.40,445.45 L538.90,446.05 L539.40,446.65 L539.90,447.25 L540.40,447.84 L540.90,448.42 L541.40,448.99 L541.90,449.56 L542.40,450.12 L542.90,450.68 L543.40,451.22 L543.90,451.76 L544.40,452.29 L544.90,452.81 L545.40,453.33 L545.90,453.83 L546.40,454.33 L546.90,454.82 L547.40,455.30 L547.90,455.77 L548.40,456.23 L548.90,456.69 L549.40,457.14 L549.90,457.58 L550.40,458.01 L550.90,458.44 L551.40,458.86 L551.90,459.27 L552.40,459.68 L552.90,460.08 L553.40,460.47 L553.90,460.86 L554.40,461.24 L554.90,461.61 L555.40,461.98 L555.90,462.34 L556.40,462.70 L556.90,463.05 L557.40,463.39 L557.90,463.73 L558.40,464.07 L558.90,464.39 L559.40,464.72 L559.90,465.04 L560.40,465.35 L560.90,465.66 L561.40,465.96 L561.90,466.26 L562.40,466.56 L562.90,466.85 L563.40,467.13 L563.90,467.42 L564.40,467.70 L564.90,467.97 L565.40,468.24 L565.90,468.51 L566.40,468.77 L566.90,469.04 L567.40,469.29 L567.90,469.55 L568.40,469.80 L568.90,470.05 L569.40,470.29 L569.90,470.54 L570.40,470.78 L570.90,471.01 L571.40,471.25 L571.90,471.48 L572.40,471.71 L572.90,471.93 L573.40,472.15 L573.90,472.37 L574.40,472.59 L574.90,472.80 L575.40,473.02 L575.90,473.22 L576.40,473.43 L576.90,473.63 L577.40,473.83 L577.90,474.03 L578.40,474.23 L578.90,474.42 L579.40,474.61 L579.90,474.79 L580.40,474.98 L580.90,475.16 L581.40,475.34 L581.90,475.52 L582.40,475.69 L582.90,475.86 L583.40,476.03 L583.90,476.20 L584.40,476.36 L584.90,476.53 L585.40,476.69 L585.90,476.84 L586.40,477.00 L586.90,477.15 L587.40,477.30 L587.90,477.45 L588.40,477.60 L588.90,477.74 L589.40,477.88 L589.90,478.02 L590.40,478.16 L590.90,478.29 L591.40,478.42 L591.90,478.55 L592.40,478.68 L592.90,478.81 L593.40,478.93 L593.90,479.05 L594.40,479.17 L594.90,479.29 L595.40,479.41 L595.90,479.52 L596.40,479.63 L596.90,479.74 L597.40,479.85 L597.90,479.95 L598.40,480.06 L598.90,480.16 L599.40,480.26 L599.90,480.36 L600.40,480.46 L600.90,480.55 L601.40,480.64 L601.90,480.73 L602.40,480.82 L602.90,480.91 L603.40,481.00 L603.90,481.08 L604.40,481.16 L604.90,481.24 L605.40,481.32 L605.90,481.40 L606.40,481.48 L606.90,481.55 L607.40,481.62 L607.90,481.69 L608.40,481.76 L608.90,481.83 L609.40,481.90 L609.90,481.96 L610.40,482.03 L610.90,482.09 L611.40,482.15 L611.90,482.21 L612.40,482.27 L612.90,482.32 L613.40,482.38 L613.90,482.43 L614.40,482.49 L614.90,482.54 L615.40,482.59 L615.90,482.64 L616.40,482.68 L616.90,482.73 L617.40,482.78 L617.90,482.82 L618.40,482.86 L618.90,482.90 L619.40,482.94 L619.90,482.98 L620.40,483.02 L620.90,483.06 L621.40,483.09 L621.90,483.13 L622.40,483.16 L622.90,483.20 L623.40,483.23 L623.90,483.26 L624.40,483.29 L624.90,483.32 L625.40,483.35 L625.90,483.38 L626.40,483.40 L626.90,483.43 L627.40,483.45 L627.90,483.48 L628.40,483.50 L628.90,483.52 L629.40,483.54 L629.90,483.56 L630.40,483.59 L630.90,483.60 L631.40,483.62 L631.90,483.64 L632.40,483.66 L632.90,483.68 L633.40,483.69 L633.90,483.71 L634.40,483.72 L634.90,483.74 L635.40,483.75 L635.90,483.77 L636.40,483.78 L636.90,483.79 L637.40,483.80 L637.90,483.82 L638.40,483.83 L638.90,483.84 L639.40,483.85 L639.90,483.86 L640.40,483.87 L640.90,483.88 L641.40,483.89 L641.90,483.90 L642.40,483.90 L642.90,483.91 L643.40,483.92 L643.90,483.93 L644.40,483.94 L644.90,483.94 L645.40,483.95 L645.90,483.96 L646.40,483.97 L646.90,483.97 L647.40,483.98 L647.90,483.99 L648.40,483.99 L648.90,484.00 L649.40,484.01 L649.90,484.01 L650.40,484.02 L650.90,484.03 L651.40,484.03 L651.90,484.04 L652.40,484.05 L652.90,484.05 L653.40,484.06 L653.90,484.07 L654.40,484.08 L654.90,484.09 L655.40,484.09 L655.90,484.10 L656.40,484.11 L656.90,484.12 L657.40,484.13 L657.90,484.14 L658.40,484.15 L658.90,484.16 L659.40,484.17 L659.90,484.18 L660.40,484.19 L660.90,484.20 L661.40,484.21 L661.90,484.23 L662.40,484.24 L662.90,484.25 L663.40,484.27 L663.90,484.28 L664.40,484.29 L664.90,484.31 L665.40,484.33 L665.90,484.34 L666.40,484.36 L666.90,484.38 L667.40,484.40 L667.90,484.42 L668.40,484.44 L668.90,484.46 L669.40,484.48 L669.90,484.50 L670.40,484.52 L670.90,484.55 L671.40,484.57 L671.90,484.60 L672.40,484.62 L672.90,484.65 L673.40,484.68 L673.90,484.71 L674.40,484.74 L674.90,484.77 L675.40,484.80 L675.90,484.83 L676.40,484.87 L676.90,484.90 L677.40,484.94 L677.90,484.97 L678.40,485.01 L678.90,485.05 L679.40,485.09 L679.90,485.13 L680.40,485.18 L680.90,485.22 L681.40,485.26 L681.90,485.31 L682.40,485.36 L682.90,485.40 L683.40,485.45 L683.90,485.50 L684.00,485.52" fill="none" stroke="#0000cd" stroke-width="1.1" stroke-linejoin="round" stroke-linecap="round" clip-path="url(#clipi)"/>
<g clip-path="url(#clipi)">
<circle cx="498.00" cy="443.10" r="2.30" fill="#0000cd"/>
<circle cx="502.00" cy="437.90" r="2.30" fill="#0000cd"/>
<circle cx="507.10" cy="433.70" r="2.30" fill="#0000cd"/>
<circle cx="509.80" cy="433.70" r="2.30" fill="#0000cd"/>
<circle cx="513.50" cy="438.00" r="2.30" fill="#0000cd"/>
<circle cx="520.80" cy="445.60" r="2.30" fill="#0000cd"/>
<circle cx="528.60" cy="452.60" r="2.30" fill="#0000cd"/>
<circle cx="536.40" cy="460.80" r="2.30" fill="#0000cd"/>
<circle cx="552.60" cy="472.20" r="2.30" fill="#0000cd"/>
<circle cx="566.60" cy="476.60" r="2.30" fill="#0000cd"/>
<circle cx="583.30" cy="480.70" r="2.30" fill="#0000cd"/>
<circle cx="613.50" cy="483.70" r="2.30" fill="#0000cd"/>
<circle cx="675.90" cy="485.00" r="2.30" fill="#0000cd"/>
</g>
<path d="M490.40,362.30 V486.40 H683.50" stroke="#4d4d4d" stroke-width="1" fill="none"/>
<path d="M490.30,486.40 V489.20" stroke="#7f7f7f" stroke-width="0.6"/>
<text x="490.30" y="497.70" text-anchor="middle" font-size="10.8" stroke="#000" stroke-width="0.15">0</text>
<path d="M536.44,486.40 V489.20" stroke="#7f7f7f" stroke-width="0.6"/>
<text x="536.44" y="497.70" text-anchor="middle" font-size="10.8" stroke="#000" stroke-width="0.15">6</text>
<path d="M582.58,486.40 V489.20" stroke="#7f7f7f" stroke-width="0.6"/>
<text x="582.58" y="497.70" text-anchor="middle" font-size="10.8" stroke="#000" stroke-width="0.15">12</text>
<path d="M628.72,486.40 V489.20" stroke="#7f7f7f" stroke-width="0.6"/>
<text x="628.72" y="497.70" text-anchor="middle" font-size="10.8" stroke="#000" stroke-width="0.15">18</text>
<path d="M674.86,486.40 V489.20" stroke="#7f7f7f" stroke-width="0.6"/>
<text x="674.86" y="497.70" text-anchor="middle" font-size="10.8" stroke="#000" stroke-width="0.15">24</text>
<path d="M487.80,486.40 H490.40" stroke="#7f7f7f" stroke-width="0.8"/>
<text x="486.80" y="490.30" text-anchor="end" font-size="10.8" stroke="#000" stroke-width="0.15">0</text>
<path d="M487.80,470.89 H490.40" stroke="#7f7f7f" stroke-width="0.8"/>
<text x="486.80" y="474.79" text-anchor="end" font-size="10.8" stroke="#000" stroke-width="0.15">1</text>
<path d="M487.80,455.38 H490.40" stroke="#7f7f7f" stroke-width="0.8"/>
<text x="486.80" y="459.28" text-anchor="end" font-size="10.8" stroke="#000" stroke-width="0.15">2</text>
<path d="M487.80,439.87 H490.40" stroke="#7f7f7f" stroke-width="0.8"/>
<text x="486.80" y="443.77" text-anchor="end" font-size="10.8" stroke="#000" stroke-width="0.15">3</text>
<path d="M487.80,424.36 H490.40" stroke="#7f7f7f" stroke-width="0.8"/>
<text x="486.80" y="428.26" text-anchor="end" font-size="10.8" stroke="#000" stroke-width="0.15">4</text>
<path d="M487.80,408.85 H490.40" stroke="#7f7f7f" stroke-width="0.8"/>
<text x="486.80" y="412.75" text-anchor="end" font-size="10.8" stroke="#000" stroke-width="0.15">5</text>
<path d="M487.80,393.34 H490.40" stroke="#7f7f7f" stroke-width="0.8"/>
<text x="486.80" y="397.24" text-anchor="end" font-size="10.8" stroke="#000" stroke-width="0.15">6</text>
<path d="M487.80,377.83 H490.40" stroke="#7f7f7f" stroke-width="0.8"/>
<text x="486.80" y="381.73" text-anchor="end" font-size="10.8" stroke="#000" stroke-width="0.15">7</text>
<path d="M487.80,362.32 H490.40" stroke="#7f7f7f" stroke-width="0.8"/>
<text x="486.80" y="366.22" text-anchor="end" font-size="10.8" stroke="#000" stroke-width="0.15">8</text>
<text x="489.90" y="356.60" font-size="16" font-weight="bold">i</text>
<text x="509.04" y="356.60" font-size="12.7">Metformin − 2550 mg po</text>
<circle cx="612.90" cy="372.60" r="2.50" fill="#0000cd"/>
<text x="622.80" y="375.20" font-size="8.7" stroke="#000" stroke-width="0.25">Sambol 1996a</text>
<text x="622.80" y="384.90" font-size="8.7" stroke="#000" stroke-width="0.25">n = 9</text>
<text transform="translate(10.0,82.20) rotate(-90)" text-anchor="middle" font-size="11.2" stroke="#000" stroke-width="0.12">Metformin plasma [µg/ml]</text>
<text transform="translate(10.0,253.30) rotate(-90)" text-anchor="middle" font-size="11.2" stroke="#000" stroke-width="0.12">Metformin plasma [µg/ml]</text>
<text transform="translate(10.0,424.25) rotate(-90)" text-anchor="middle" font-size="11.2" stroke="#000" stroke-width="0.12">Metformin plasma [µg/ml]</text>
<text x="132.50" y="509.6" text-anchor="middle" font-size="11.2" stroke="#000" stroke-width="0.12">Time [h]</text>
<text x="357.45" y="509.6" text-anchor="middle" font-size="11.2" stroke="#000" stroke-width="0.12">Time [h]</text>
<text x="586.95" y="509.6" text-anchor="middle" font-size="11.2" stroke="#000" stroke-width="0.12">Time [h]</text>
<g id="nofoot" fill="#fff"><rect x="184.16" y="154.74" width="2.42" height="1.71"/><rect x="187.78" y="154.74" width="2.33" height="1.71"/><rect x="213.18" y="154.74" width="2.42" height="1.71"/><rect x="216.80" y="154.74" width="2.33" height="1.71"/><rect x="20.63" y="145.74" width="2.42" height="1.71"/><rect x="24.25" y="145.74" width="2.33" height="1.71"/><rect x="20.63" y="108.74" width="2.42" height="1.71"/><rect x="24.25" y="108.74" width="2.33" height="1.71"/><rect x="36.83" y="102.98" width="1.86" height="1.47"/><rect x="39.60" y="102.98" width="1.80" height="1.47"/><rect x="25.07" y="72.74" width="2.42" height="1.71"/><rect x="28.69" y="72.74" width="2.33" height="1.71"/><rect x="25.07" y="35.74" width="2.42" height="1.71"/><rect x="28.69" y="35.74" width="2.33" height="1.71"/><rect x="36.84" y="29.98" width="1.86" height="1.47"/><rect x="39.62" y="29.98" width="1.80" height="1.47"/><rect x="203.02" y="31.90" width="2.05" height="1.55"/><rect x="206.09" y="31.90" width="1.98" height="1.55"/><rect x="217.51" y="31.90" width="2.05" height="1.55"/><rect x="220.57" y="31.90" width="1.98" height="1.55"/><rect x="439.16" y="154.74" width="2.42" height="1.71"/><rect x="442.78" y="154.74" width="2.33" height="1.71"/><rect x="241.18" y="122.74" width="2.42" height="1.71"/><rect x="244.80" y="122.74" width="2.33" height="1.71"/><rect x="257.38" y="116.98" width="1.86" height="1.47"/><rect x="260.15" y="116.98" width="1.80" height="1.47"/><rect x="245.62" y="86.74" width="2.42" height="1.71"/><rect x="249.24" y="86.74" width="2.33" height="1.71"/><rect x="245.62" y="50.74" width="2.42" height="1.71"/><rect x="249.24" y="50.74" width="2.33" height="1.71"/><rect x="257.39" y="43.98" width="1.86" height="1.47"/><rect x="260.17" y="43.98" width="1.80" height="1.47"/><rect x="430.79" y="31.90" width="2.05" height="1.55"/><rect x="433.86" y="31.90" width="1.98" height="1.55"/><rect x="513.25" y="154.74" width="2.42" height="1.71"/><rect x="516.87" y="154.74" width="2.33" height="1.71"/><rect x="469.38" y="144.74" width="2.42" height="1.71"/><rect x="473.00" y="144.74" width="2.33" height="1.71"/><rect x="485.58" y="137.98" width="1.86" height="1.47"/><rect x="488.35" y="137.98" width="1.80" height="1.47"/><rect x="473.82" y="100.74" width="2.42" height="1.71"/><rect x="477.44" y="100.74" width="2.33" height="1.71"/><rect x="473.82" y="57.74" width="2.42" height="1.71"/><rect x="477.44" y="57.74" width="2.33" height="1.71"/><rect x="485.59" y="51.98" width="1.86" height="1.47"/><rect x="488.37" y="51.98" width="1.80" height="1.47"/><rect x="588.06" y="12.60" width="2.75" height="1.85"/><rect x="592.18" y="12.60" width="2.65" height="1.85"/><rect x="620.10" y="31.90" width="2.05" height="1.55"/><rect x="623.17" y="31.90" width="1.98" height="1.55"/><rect x="124.12" y="325.74" width="2.42" height="1.71"/><rect x="127.74" y="325.74" width="2.33" height="1.71"/><rect x="168.40" y="325.74" width="2.42" height="1.71"/><rect x="172.02" y="325.74" width="2.33" height="1.71"/><rect x="31.96" y="296.74" width="2.42" height="1.71"/><rect x="35.58" y="296.74" width="2.33" height="1.71"/><rect x="136.53" y="183.60" width="2.75" height="1.85"/><rect x="140.65" y="183.60" width="2.65" height="1.85"/><rect x="212.57" y="202.90" width="2.05" height="1.55"/><rect x="215.64" y="202.90" width="1.98" height="1.55"/><rect x="252.21" y="222.74" width="2.42" height="1.71"/><rect x="255.83" y="222.74" width="2.33" height="1.71"/><rect x="243.21" y="203.74" width="2.42" height="1.71"/><rect x="246.83" y="203.74" width="2.33" height="1.71"/><rect x="410.57" y="212.90" width="2.05" height="1.55"/><rect x="413.64" y="212.90" width="1.98" height="1.55"/><rect x="577.56" y="325.74" width="2.42" height="1.71"/><rect x="581.18" y="325.74" width="2.33" height="1.71"/><rect x="623.46" y="325.74" width="2.42" height="1.71"/><rect x="627.08" y="325.74" width="2.33" height="1.71"/><rect x="482.26" y="276.74" width="2.42" height="1.71"/><rect x="485.88" y="276.74" width="2.33" height="1.71"/><rect x="473.26" y="255.74" width="2.42" height="1.71"/><rect x="476.88" y="255.74" width="2.33" height="1.71"/><rect x="659.50" y="202.90" width="2.05" height="1.55"/><rect x="662.57" y="202.90" width="1.98" height="1.55"/><rect x="29.96" y="457.74" width="2.42" height="1.71"/><rect x="33.58" y="457.74" width="2.33" height="1.71"/><rect x="134.53" y="355.60" width="2.75" height="1.85"/><rect x="138.65" y="355.60" width="2.65" height="1.85"/><rect x="212.39" y="373.90" width="2.05" height="1.55"/><rect x="215.45" y="373.90" width="1.98" height="1.55"/><rect x="347.56" y="496.74" width="2.42" height="1.71"/><rect x="351.18" y="496.74" width="2.33" height="1.71"/><rect x="393.95" y="496.74" width="2.42" height="1.71"/><rect x="397.57" y="496.74" width="2.33" height="1.71"/><rect x="250.56" y="467.74" width="2.42" height="1.71"/><rect x="254.18" y="467.74" width="2.33" height="1.71"/><rect x="355.13" y="355.60" width="2.75" height="1.85"/><rect x="359.25" y="355.60" width="2.65" height="1.85"/><rect x="425.97" y="374.90" width="2.05" height="1.55"/><rect x="429.04" y="374.90" width="1.98" height="1.55"/><rect x="576.74" y="496.74" width="2.42" height="1.71"/><rect x="580.36" y="496.74" width="2.33" height="1.71"/><rect x="622.88" y="496.74" width="2.42" height="1.71"/><rect x="626.50" y="496.74" width="2.33" height="1.71"/><rect x="480.96" y="473.74" width="2.42" height="1.71"/><rect x="484.58" y="473.74" width="2.33" height="1.71"/><rect x="654.67" y="373.90" width="2.05" height="1.55"/><rect x="657.74" y="373.90" width="1.98" height="1.55"/></g>
</svg>
</body></html>
